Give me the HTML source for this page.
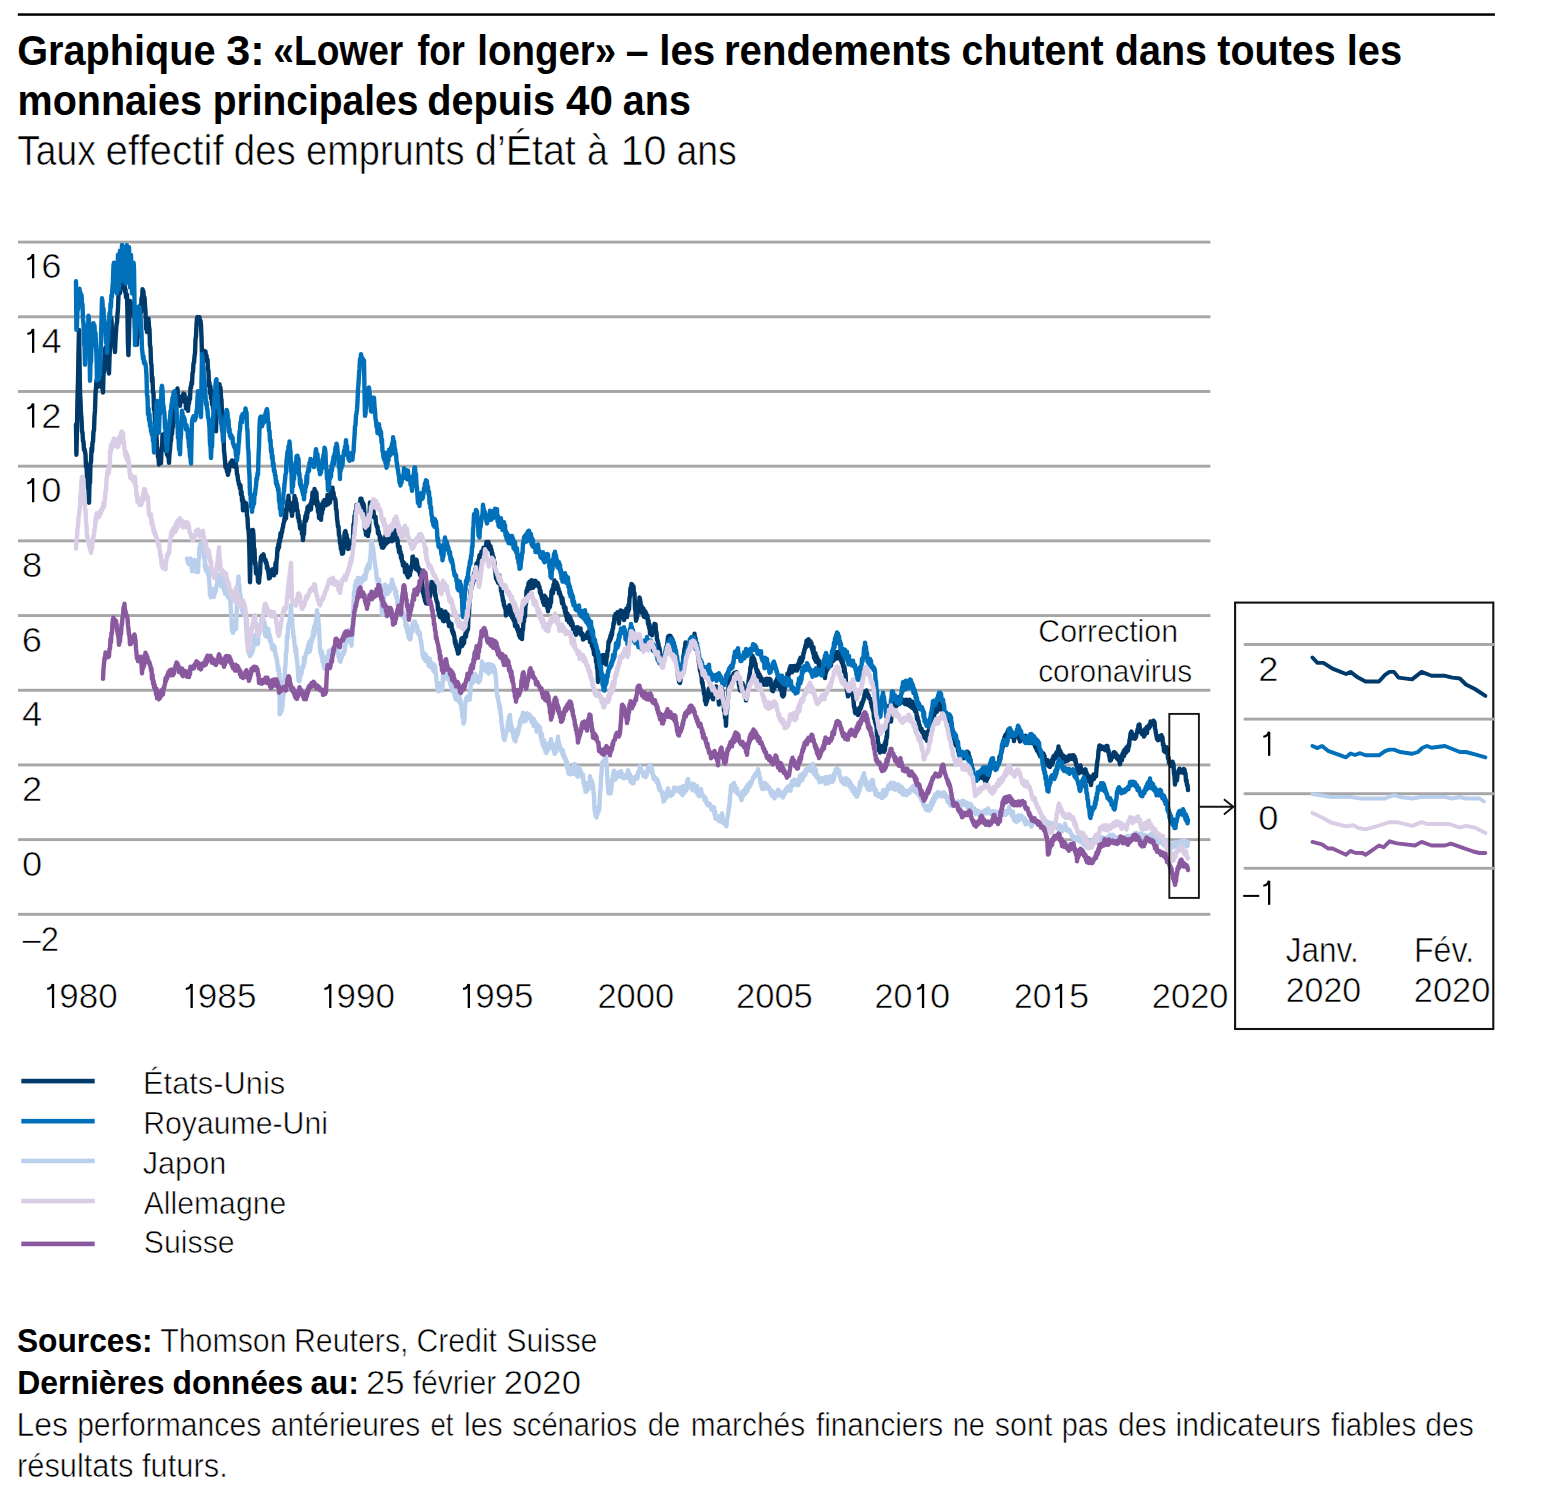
<!DOCTYPE html>
<html><head><meta charset="utf-8"><title>Graphique 3</title>
<style>html,body{margin:0;padding:0;background:#fff}body{width:1547px;height:1501px;overflow:hidden;font-family:"Liberation Sans",sans-serif}</style>
</head><body>
<svg width="1547" height="1501" viewBox="0 0 1547 1501" style="display:block">
<rect width="1547" height="1501" fill="#fff"/>
<rect x="17.8" y="13.3" width="1477.1" height="2.5" fill="#000"/>
<rect x="18" y="240.65" width="1192.4" height="2.9" fill="#a6a6a6"/>
<rect x="18" y="315.34" width="1192.4" height="2.9" fill="#a6a6a6"/>
<rect x="18" y="390.03" width="1192.4" height="2.9" fill="#a6a6a6"/>
<rect x="18" y="464.72" width="1192.4" height="2.9" fill="#a6a6a6"/>
<rect x="18" y="539.41" width="1192.4" height="2.9" fill="#a6a6a6"/>
<rect x="18" y="614.10" width="1192.4" height="2.9" fill="#a6a6a6"/>
<rect x="18" y="688.79" width="1192.4" height="2.9" fill="#a6a6a6"/>
<rect x="18" y="763.48" width="1192.4" height="2.9" fill="#a6a6a6"/>
<rect x="18" y="838.17" width="1192.4" height="2.9" fill="#a6a6a6"/>
<rect x="18" y="912.86" width="1192.4" height="2.9" fill="#a6a6a6"/>
<path d="M76.0,424.5 L76.4,454.7 L76.9,432.3 L77.4,401.5 L78.0,380.8 L78.5,351.6 L79.0,330.0 L79.5,357.8 L80.0,391.2 L80.5,400.6 L81.0,413.8 L81.5,418.6 L82.0,431.5 L82.5,432.3 L83.0,441.1 L83.5,441.6 L84.0,449.9 L84.5,448.9 L85.0,451.4 L85.5,454.6 L86.0,466.8 L86.5,465.1 L87.0,477.2 L87.5,474.2 L88.0,488.5 L88.5,488.5 L89.0,502.7 L89.5,483.8 L90.0,482.6 L90.5,462.6 L91.0,462.6 L91.5,448.3 L92.0,451.6 L92.5,442.5 L93.0,441.7 L93.5,431.4 L94.0,430.5 L94.5,416.2 L95.0,410.4 L95.5,393.8 L96.0,387.7 L96.5,380.3 L97.0,386.6 L97.5,375.3 L98.0,386.9 L98.5,376.0 L99.0,382.3 L99.5,374.8 L100.0,378.7 L100.5,376.0 L101.0,383.8 L101.5,382.5 L102.0,387.7 L102.5,385.3 L103.0,392.5 L103.5,373.0 L104.0,372.5 L104.5,358.1 L105.0,350.7 L105.5,347.4 L106.0,356.5 L106.5,356.6 L107.0,361.5 L107.5,360.9 L108.0,369.1 L108.5,367.9 L109.0,373.5 L109.5,358.0 L110.0,347.1 L110.5,330.5 L111.0,317.6 L111.5,320.4 L112.0,332.5 L112.5,329.1 L113.0,334.6 L113.5,336.8 L114.0,346.3 L114.5,346.8 L115.0,352.0 L115.5,339.9 L116.0,331.6 L116.5,324.5 L117.0,322.6 L117.5,314.2 L118.0,309.2 L118.5,294.5 L119.0,289.6 L119.5,293.7 L120.0,292.7 L120.5,287.9 L121.0,288.8 L121.5,278.6 L122.0,282.4 L122.5,272.4 L123.0,281.9 L123.5,276.1 L124.0,285.9 L124.5,283.7 L125.0,291.9 L125.5,289.5 L126.0,297.4 L126.5,295.1 L127.0,294.9 L127.5,314.6 L127.9,342.3 L128.4,355.1 L128.9,339.6 L129.5,312.7 L130.0,301.0 L130.5,302.0 L131.0,306.4 L131.5,304.5 L132.0,307.2 L132.5,303.8 L133.0,311.2 L133.5,307.3 L134.0,316.7 L134.5,313.0 L135.0,328.0 L135.5,324.3 L136.0,335.5 L136.5,332.7 L137.0,344.7 L137.5,331.6 L138.0,336.7 L138.5,321.2 L139.0,325.9 L139.5,314.8 L140.0,316.7 L140.5,305.1 L141.0,312.5 L141.5,298.2 L142.0,303.1 L142.5,289.3 L143.0,290.7 L143.5,291.8 L144.0,306.7 L144.5,297.5 L145.0,305.3 L145.5,311.6 L146.0,328.7 L146.5,324.8 L147.0,332.1 L147.5,323.2 L148.0,329.1 L148.5,318.8 L149.0,326.7 L149.5,329.3 L150.0,345.6 L150.5,347.1 L151.0,362.6 L151.5,364.9 L152.0,381.6 L152.5,377.3 L153.0,392.7 L153.5,392.6 L154.0,409.9 L154.5,408.1 L155.0,422.7 L155.5,423.9 L156.0,430.6 L156.5,437.4 L157.0,445.5 L157.5,449.5 L158.0,456.8 L158.5,458.0 L159.0,464.6 L159.5,460.6 L160.0,463.2 L160.5,456.3 L161.0,463.1 L161.5,450.1 L162.0,449.6 L162.5,434.7 L163.0,436.2 L163.5,435.8 L164.0,440.5 L164.5,433.7 L165.0,444.0 L165.5,441.7 L166.0,451.1 L166.5,446.8 L167.0,454.7 L167.5,450.5 L168.0,456.8 L168.5,455.8 L169.0,462.9 L169.5,452.9 L170.0,450.0 L170.5,442.6 L171.0,440.5 L171.5,433.1 L172.0,434.0 L172.5,426.7 L173.0,427.0 L173.5,414.8 L174.0,418.3 L174.5,406.9 L175.0,411.0 L175.5,398.7 L176.0,399.6 L176.5,392.8 L177.0,391.1 L177.5,388.5 L178.0,400.6 L178.5,396.4 L179.0,400.0 L179.5,398.1 L180.0,405.8 L180.5,397.3 L181.0,399.3 L181.5,396.5 L182.0,401.4 L182.5,395.7 L183.0,395.2 L183.5,393.6 L184.0,394.7 L184.5,394.3 L185.0,402.4 L185.5,399.6 L186.0,408.6 L186.5,399.0 L187.0,406.1 L187.5,405.7 L188.0,410.8 L188.5,401.9 L189.0,403.4 L189.5,396.1 L190.0,399.2 L190.5,387.3 L191.0,387.8 L191.5,382.3 L192.0,384.2 L192.5,373.2 L193.0,372.0 L193.5,363.3 L194.0,362.9 L194.5,356.4 L195.0,353.4 L195.5,339.4 L196.0,336.3 L196.5,325.0 L197.0,318.4 L197.5,317.0 L198.0,322.7 L198.5,320.1 L199.0,323.8 L199.5,317.3 L200.0,322.6 L200.5,320.6 L201.0,325.2 L201.5,337.2 L202.0,355.8 L202.5,352.6 L203.0,356.7 L203.5,350.7 L204.0,360.8 L204.5,353.9 L205.0,360.2 L205.5,351.4 L206.0,358.4 L206.5,355.5 L207.0,360.8 L207.5,359.4 L208.0,369.4 L208.5,371.4 L209.0,385.8 L209.5,382.5 L210.0,393.1 L210.5,386.4 L211.0,398.5 L211.5,391.3 L212.0,404.4 L212.5,396.8 L213.0,408.7 L213.5,403.6 L214.0,411.5 L214.5,412.6 L215.0,419.5 L215.5,418.0 L216.0,431.4 L216.5,412.8 L217.0,410.5 L217.5,393.2 L218.0,392.4 L218.5,384.7 L219.0,393.4 L219.5,384.3 L220.0,396.0 L220.5,387.8 L221.0,397.4 L221.5,400.2 L222.0,416.5 L222.5,419.0 L223.0,432.2 L223.5,434.4 L224.0,450.8 L224.5,454.7 L225.0,460.7 L225.5,467.4 L226.0,467.9 L226.5,466.5 L227.0,471.8 L227.5,471.7 L228.0,474.8 L228.5,470.1 L229.0,471.0 L229.5,464.4 L230.0,466.6 L230.5,462.4 L231.0,466.0 L231.5,463.1 L232.0,460.5 L232.5,461.9 L233.0,465.7 L233.5,463.4 L234.0,466.3 L234.5,461.3 L235.0,467.0 L235.5,460.3 L236.0,466.5 L236.5,467.2 L237.0,474.4 L237.5,474.9 L238.0,480.0 L238.5,481.3 L239.0,484.6 L239.5,484.4 L240.0,488.6 L240.5,485.3 L241.0,494.7 L241.5,491.5 L242.0,500.9 L242.5,496.9 L243.0,510.4 L243.5,500.8 L244.0,508.9 L244.5,502.4 L245.0,506.9 L245.5,504.1 L246.0,503.1 L246.5,504.9 L247.0,515.3 L247.5,517.9 L248.0,528.3 L248.5,529.4 L249.0,537.8 L249.5,556.2 L250.0,582.2 L250.5,560.9 L251.0,560.4 L251.5,548.1 L252.0,544.4 L252.5,529.9 L253.0,530.1 L253.5,535.5 L254.0,551.6 L254.5,548.9 L255.0,564.3 L255.5,562.5 L256.0,573.4 L256.5,569.6 L257.0,574.5 L257.5,571.9 L258.0,581.7 L258.5,581.0 L259.0,582.6 L259.5,576.3 L260.0,573.6 L260.5,561.8 L261.0,557.2 L261.5,556.1 L262.0,556.5 L262.5,555.7 L263.0,557.0 L263.5,554.3 L264.0,557.1 L264.5,559.3 L265.0,560.9 L265.5,559.8 L266.0,563.3 L266.5,562.4 L267.0,568.5 L267.5,566.6 L268.0,570.5 L268.5,572.8 L269.0,578.5 L269.5,575.2 L270.0,577.8 L270.5,571.2 L271.0,573.5 L271.5,571.5 L272.0,569.5 L272.5,571.8 L273.0,574.9 L273.5,571.5 L274.0,575.3 L274.5,568.4 L275.0,572.0 L275.5,563.1 L276.0,572.9 L276.5,560.7 L277.0,557.3 L277.5,547.8 L278.0,550.0 L278.5,543.7 L279.0,547.4 L279.5,539.2 L280.0,541.5 L280.5,533.3 L281.0,537.2 L281.5,532.4 L282.0,532.5 L282.5,528.3 L283.0,527.1 L283.5,523.3 L284.0,522.2 L284.5,518.3 L285.0,520.0 L285.5,509.6 L286.0,518.3 L286.5,508.5 L287.0,508.6 L287.5,500.6 L288.0,503.8 L288.5,495.8 L289.0,504.3 L289.5,501.9 L290.0,509.1 L290.5,505.4 L291.0,511.2 L291.5,506.8 L292.0,515.9 L292.5,506.3 L293.0,511.0 L293.5,502.9 L294.0,507.2 L294.5,496.0 L295.0,502.2 L295.5,498.8 L296.0,503.3 L296.5,503.1 L297.0,510.5 L297.5,510.2 L298.0,517.9 L298.5,514.9 L299.0,522.2 L299.5,520.9 L300.0,528.4 L300.5,525.3 L301.0,529.1 L301.5,527.2 L302.0,534.1 L302.5,533.4 L303.0,540.1 L303.5,529.5 L304.0,534.2 L304.5,521.1 L305.0,519.8 L305.5,515.7 L306.0,520.8 L306.5,512.2 L307.0,518.1 L307.5,507.2 L308.0,512.4 L308.5,506.2 L309.0,509.1 L309.5,506.4 L310.0,509.1 L310.5,503.8 L311.0,509.5 L311.5,500.3 L312.0,502.9 L312.5,492.5 L313.0,503.4 L313.5,492.7 L314.0,499.4 L314.5,489.0 L315.0,494.4 L315.5,491.0 L316.0,499.7 L316.5,493.0 L317.0,506.1 L317.5,501.4 L318.0,511.8 L318.5,504.7 L319.0,518.0 L319.5,512.5 L320.0,518.4 L320.5,513.3 L321.0,519.9 L321.5,508.4 L322.0,513.7 L322.5,503.1 L323.0,509.4 L323.5,501.2 L324.0,502.6 L324.5,500.1 L325.0,503.5 L325.5,501.0 L326.0,505.4 L326.5,501.8 L327.0,504.5 L327.5,495.0 L328.0,504.4 L328.5,497.3 L329.0,500.2 L329.5,495.4 L330.0,502.7 L330.5,494.0 L331.0,490.1 L331.5,490.2 L332.0,494.2 L332.5,487.6 L333.0,495.0 L333.5,492.4 L334.0,498.5 L334.5,497.6 L335.0,498.5 L335.5,500.3 L336.0,509.2 L336.5,509.9 L337.0,518.3 L337.5,521.9 L338.0,527.0 L338.5,526.4 L339.0,535.7 L339.5,535.7 L340.0,543.2 L340.5,544.6 L341.0,549.5 L341.5,548.6 L342.0,553.7 L342.5,551.5 L343.0,553.3 L343.5,549.1 L344.0,545.4 L344.5,534.0 L345.0,531.7 L345.5,531.1 L346.0,535.2 L346.5,534.4 L347.0,540.1 L347.5,538.8 L348.0,549.0 L348.5,541.3 L349.0,544.5 L349.5,541.9 L350.0,546.3 L350.5,544.1 L351.0,548.1 L351.5,544.8 L352.0,547.9 L352.5,539.9 L353.0,537.9 L353.5,524.2 L354.0,526.4 L354.5,515.7 L355.0,519.5 L355.5,510.9 L356.0,512.5 L356.5,505.0 L357.0,509.0 L357.5,507.7 L358.0,509.9 L358.5,507.1 L359.0,510.0 L359.5,503.5 L360.0,504.1 L360.5,498.6 L361.0,507.5 L361.5,498.8 L362.0,505.3 L362.5,501.9 L363.0,505.9 L363.5,503.8 L364.0,506.5 L364.5,514.3 L365.0,529.8 L365.5,527.4 L366.0,534.9 L366.5,528.9 L367.0,531.9 L367.5,528.7 L368.0,536.0 L368.5,531.1 L369.0,531.6 L369.5,515.8 L370.0,502.5 L370.5,504.6 L371.0,512.1 L371.5,508.8 L372.0,513.7 L372.5,509.0 L373.0,514.8 L373.5,511.3 L374.0,517.2 L374.5,516.6 L375.0,517.7 L375.5,516.7 L376.0,523.6 L376.5,524.9 L377.0,527.0 L377.5,526.4 L378.0,533.3 L378.5,531.1 L379.0,534.8 L379.5,535.0 L380.0,540.4 L380.5,536.6 L381.0,544.5 L381.5,540.0 L382.0,547.6 L382.5,540.0 L383.0,547.7 L383.5,542.6 L384.0,546.7 L384.5,538.5 L385.0,544.7 L385.5,535.6 L386.0,543.9 L386.5,531.9 L387.0,539.5 L387.5,534.0 L388.0,542.2 L388.5,533.0 L389.0,538.2 L389.5,534.9 L390.0,539.2 L390.5,532.1 L391.0,535.3 L391.5,535.7 L392.0,541.2 L392.5,538.4 L393.0,539.0 L393.5,536.9 L394.0,540.1 L394.5,533.9 L395.0,537.5 L395.5,530.0 L396.0,531.4 L396.5,534.1 L397.0,538.9 L397.5,539.4 L398.0,546.8 L398.5,546.8 L399.0,552.1 L399.5,546.7 L400.0,553.4 L400.5,551.5 L401.0,558.1 L401.5,554.6 L402.0,561.4 L402.5,561.8 L403.0,565.4 L403.5,562.1 L404.0,566.2 L404.5,563.5 L405.0,572.3 L405.5,564.9 L406.0,572.8 L406.5,564.9 L407.0,575.1 L407.5,572.5 L408.0,577.3 L408.5,568.2 L409.0,575.8 L409.5,567.9 L410.0,575.1 L410.5,567.3 L411.0,570.6 L411.5,565.8 L412.0,567.3 L412.5,556.7 L413.0,556.6 L413.5,559.2 L414.0,561.7 L414.5,559.5 L415.0,563.5 L415.5,561.1 L416.0,569.2 L416.5,559.8 L417.0,562.5 L417.5,565.7 L418.0,570.5 L418.5,567.7 L419.0,571.7 L419.5,570.1 L420.0,575.1 L420.5,570.2 L421.0,576.2 L421.5,575.0 L422.0,583.8 L422.5,585.8 L423.0,592.8 L423.5,593.2 L424.0,596.9 L424.5,597.1 L425.0,601.0 L425.5,597.6 L426.0,603.2 L426.5,599.4 L427.0,603.5 L427.5,601.5 L428.0,603.4 L428.5,601.1 L429.0,603.1 L429.5,597.0 L430.0,596.4 L430.5,589.8 L431.0,591.9 L431.5,581.9 L432.0,582.9 L432.5,582.5 L433.0,586.6 L433.5,584.3 L434.0,591.4 L434.5,585.6 L435.0,595.4 L435.5,593.9 L436.0,598.7 L436.5,600.2 L437.0,602.4 L437.5,602.4 L438.0,610.2 L438.5,607.8 L439.0,614.0 L439.5,614.7 L440.0,617.1 L440.5,613.4 L441.0,617.5 L441.5,610.3 L442.0,618.4 L442.5,611.9 L443.0,620.9 L443.5,615.6 L444.0,621.2 L444.5,612.6 L445.0,613.4 L445.5,611.6 L446.0,614.6 L446.5,614.6 L447.0,618.9 L447.5,614.1 L448.0,622.1 L448.5,620.5 L449.0,626.1 L449.5,623.8 L450.0,622.9 L450.5,624.7 L451.0,626.5 L451.5,623.8 L452.0,631.2 L452.5,629.6 L453.0,633.7 L453.5,632.2 L454.0,635.0 L454.5,637.5 L455.0,643.2 L455.5,640.6 L456.0,646.5 L456.5,646.5 L457.0,649.6 L457.5,650.0 L458.0,653.6 L458.5,653.2 L459.0,651.8 L459.5,646.8 L460.0,647.0 L460.5,643.7 L461.0,641.7 L461.5,638.7 L462.0,646.2 L462.5,638.0 L463.0,644.6 L463.5,639.0 L464.0,643.0 L464.5,636.6 L465.0,637.5 L465.5,633.2 L466.0,636.6 L466.5,629.8 L467.0,631.8 L467.5,625.2 L468.0,629.5 L468.5,615.2 L469.0,613.3 L469.5,599.8 L470.0,598.5 L470.5,590.6 L471.0,589.7 L471.5,585.2 L472.0,586.9 L472.5,577.3 L473.0,583.1 L473.5,575.2 L474.0,579.8 L474.5,572.5 L475.0,577.5 L475.5,568.9 L476.0,570.7 L476.5,563.5 L477.0,571.4 L477.5,562.7 L478.0,563.3 L478.5,559.7 L479.0,561.4 L479.5,555.1 L480.0,558.4 L480.5,554.4 L481.0,559.3 L481.5,551.4 L482.0,556.1 L482.5,551.5 L483.0,554.7 L483.5,547.8 L484.0,551.7 L484.5,547.4 L485.0,547.6 L485.5,547.3 L486.0,546.9 L486.5,541.9 L487.0,543.2 L487.5,545.5 L488.0,545.0 L488.5,541.9 L489.0,548.9 L489.5,545.1 L490.0,549.5 L490.5,546.2 L491.0,548.5 L491.5,549.9 L492.0,554.6 L492.5,553.6 L493.0,558.9 L493.5,556.9 L494.0,561.1 L494.5,562.2 L495.0,570.2 L495.5,573.3 L496.0,578.6 L496.5,574.0 L497.0,580.3 L497.5,574.7 L498.0,582.7 L498.5,574.9 L499.0,583.6 L499.5,575.8 L500.0,582.1 L500.5,580.6 L501.0,591.1 L501.5,587.1 L502.0,595.3 L502.5,596.2 L503.0,601.1 L503.5,600.5 L504.0,605.6 L504.5,605.4 L505.0,608.3 L505.5,608.6 L506.0,615.5 L506.5,612.2 L507.0,614.0 L507.5,608.5 L508.0,612.2 L508.5,607.2 L509.0,611.2 L509.5,605.3 L510.0,609.6 L510.5,608.0 L511.0,615.4 L511.5,613.4 L512.0,617.4 L512.5,613.4 L513.0,618.1 L513.5,619.8 L514.0,621.0 L514.5,619.5 L515.0,626.0 L515.5,619.7 L516.0,626.9 L516.5,619.8 L517.0,629.1 L517.5,625.9 L518.0,631.5 L518.5,629.1 L519.0,635.2 L519.5,630.0 L520.0,637.5 L520.5,632.2 L521.0,638.1 L521.5,633.9 L522.0,639.1 L522.5,629.3 L523.0,629.6 L523.5,620.3 L524.0,621.7 L524.5,612.9 L525.0,616.6 L525.5,603.6 L526.0,604.3 L526.5,590.5 L527.0,594.1 L527.5,587.5 L528.0,593.8 L528.5,583.1 L529.0,590.9 L529.5,581.7 L530.0,588.2 L530.5,581.8 L531.0,588.0 L531.5,580.1 L532.0,583.4 L532.5,581.3 L533.0,587.8 L533.5,580.9 L534.0,586.4 L534.5,581.9 L535.0,583.2 L535.5,580.8 L536.0,584.3 L536.5,583.2 L537.0,585.4 L537.5,583.2 L538.0,583.0 L538.5,584.4 L539.0,587.4 L539.5,586.9 L540.0,592.7 L540.5,590.6 L541.0,594.3 L541.5,595.9 L542.0,598.4 L542.5,598.9 L543.0,602.0 L543.5,601.2 L544.0,604.7 L544.5,595.8 L545.0,603.4 L545.5,597.0 L546.0,604.1 L546.5,598.8 L547.0,607.3 L547.5,603.5 L548.0,611.4 L548.5,604.6 L549.0,608.1 L549.5,603.7 L550.0,606.8 L550.5,599.0 L551.0,602.6 L551.5,591.1 L552.0,594.1 L552.5,588.7 L553.0,593.0 L553.5,584.6 L554.0,587.2 L554.5,580.5 L555.0,584.1 L555.5,582.7 L556.0,588.8 L556.5,582.6 L557.0,588.2 L557.5,585.0 L558.0,589.6 L558.5,588.2 L559.0,593.5 L559.5,591.6 L560.0,593.6 L560.5,594.9 L561.0,597.1 L561.5,598.6 L562.0,603.3 L562.5,598.2 L563.0,604.1 L563.5,603.9 L564.0,607.9 L564.5,606.4 L565.0,612.4 L565.5,607.8 L566.0,616.1 L566.5,612.8 L567.0,620.0 L567.5,613.7 L568.0,618.8 L568.5,617.9 L569.0,622.6 L569.5,616.3 L570.0,621.5 L570.5,618.0 L571.0,625.0 L571.5,620.7 L572.0,625.8 L572.5,622.9 L573.0,629.0 L573.5,628.2 L574.0,628.6 L574.5,627.4 L575.0,632.8 L575.5,629.5 L576.0,634.8 L576.5,629.0 L577.0,633.3 L577.5,627.2 L578.0,631.3 L578.5,628.4 L579.0,629.9 L579.5,629.3 L580.0,633.2 L580.5,628.4 L581.0,634.8 L581.5,632.6 L582.0,635.7 L582.5,633.6 L583.0,639.6 L583.5,635.9 L584.0,639.0 L584.5,636.1 L585.0,637.7 L585.5,635.6 L586.0,637.8 L586.5,635.7 L587.0,637.8 L587.5,632.7 L588.0,635.3 L588.5,631.8 L589.0,638.6 L589.5,633.6 L590.0,642.2 L590.5,633.9 L591.0,641.9 L591.5,635.5 L592.0,646.1 L592.5,639.5 L593.0,649.2 L593.5,645.1 L594.0,654.3 L594.5,646.3 L595.0,655.4 L595.5,651.8 L596.0,661.8 L596.5,659.0 L597.0,668.3 L597.5,669.6 L598.0,682.0 L598.5,672.2 L599.0,678.9 L599.5,668.5 L600.0,669.3 L600.5,662.4 L601.0,664.5 L601.5,655.4 L602.0,660.1 L602.5,655.5 L603.0,662.8 L603.5,655.0 L604.0,660.1 L604.5,656.8 L605.0,663.3 L605.5,659.2 L606.0,664.6 L606.5,658.1 L607.0,656.7 L607.5,650.8 L608.0,650.5 L608.5,641.8 L609.0,642.8 L609.5,639.1 L610.0,640.9 L610.5,635.5 L611.0,638.2 L611.5,632.7 L612.0,635.0 L612.5,629.1 L613.0,628.7 L613.5,623.2 L614.0,623.5 L614.5,616.5 L615.0,617.0 L615.5,614.0 L616.0,615.0 L616.5,614.1 L617.0,617.8 L617.5,612.1 L618.0,618.5 L618.5,613.9 L619.0,623.5 L619.5,614.8 L620.0,616.0 L620.5,610.4 L621.0,617.6 L621.5,610.6 L622.0,617.3 L622.5,613.4 L623.0,617.7 L623.5,614.5 L624.0,620.1 L624.5,612.7 L625.0,617.1 L625.5,610.4 L626.0,617.0 L626.5,608.4 L627.0,617.1 L627.5,610.1 L628.0,612.1 L628.5,604.8 L629.0,609.6 L629.5,598.2 L630.0,596.3 L630.5,588.0 L631.0,589.8 L631.5,583.9 L632.0,590.6 L632.5,585.0 L633.0,590.8 L633.5,586.4 L634.0,594.0 L634.5,593.1 L635.0,608.4 L635.5,611.0 L636.0,620.8 L636.5,618.5 L637.0,617.3 L637.5,613.5 L638.0,611.9 L638.5,606.0 L639.0,606.2 L639.5,597.5 L640.0,599.4 L640.5,602.4 L641.0,610.3 L641.5,606.0 L642.0,612.8 L642.5,607.8 L643.0,613.8 L643.5,608.8 L644.0,616.9 L644.5,610.5 L645.0,617.1 L645.5,611.8 L646.0,617.8 L646.5,614.0 L647.0,618.5 L647.5,615.8 L648.0,623.8 L648.5,620.3 L649.0,627.7 L649.5,624.1 L650.0,633.8 L650.5,629.2 L651.0,633.0 L651.5,630.2 L652.0,635.2 L652.5,630.2 L653.0,632.9 L653.5,628.2 L654.0,626.8 L654.5,623.8 L655.0,627.7 L655.5,624.1 L656.0,632.8 L656.5,632.4 L657.0,639.8 L657.5,639.8 L658.0,642.5 L658.5,644.2 L659.0,649.1 L659.5,648.2 L660.0,654.2 L660.5,655.2 L661.0,658.4 L661.5,658.4 L662.0,657.0 L662.5,660.2 L663.0,661.5 L663.5,656.3 L664.0,658.0 L664.5,656.7 L665.0,655.2 L665.5,653.3 L666.0,654.3 L666.5,649.3 L667.0,648.3 L667.5,641.8 L668.0,637.4 L668.5,636.2 L669.0,643.2 L669.5,635.7 L670.0,643.1 L670.5,636.0 L671.0,644.0 L671.5,637.7 L672.0,645.8 L672.5,639.4 L673.0,646.7 L673.5,643.0 L674.0,651.9 L674.5,647.0 L675.0,655.2 L675.5,652.7 L676.0,656.9 L676.5,657.8 L677.0,665.8 L677.5,664.0 L678.0,676.1 L678.5,672.9 L679.0,681.8 L679.5,678.9 L680.0,683.0 L680.5,679.7 L681.0,676.4 L681.5,673.2 L682.0,672.7 L682.5,664.4 L683.0,662.2 L683.5,655.9 L684.0,653.9 L684.5,648.6 L685.0,648.4 L685.5,642.4 L686.0,647.7 L686.5,643.8 L687.0,647.9 L687.5,646.5 L688.0,648.2 L688.5,647.6 L689.0,650.7 L689.5,647.1 L690.0,645.4 L690.5,640.1 L691.0,641.2 L691.5,637.1 L692.0,639.5 L692.5,636.9 L693.0,639.6 L693.5,637.2 L694.0,640.7 L694.5,633.8 L695.0,639.8 L695.5,637.8 L696.0,647.4 L696.5,644.7 L697.0,649.2 L697.5,651.6 L698.0,654.5 L698.5,659.0 L699.0,663.1 L699.5,665.6 L700.0,670.9 L700.5,670.7 L701.0,674.6 L701.5,675.8 L702.0,683.1 L702.5,682.1 L703.0,686.9 L703.5,688.3 L704.0,694.0 L704.5,692.7 L705.0,701.1 L705.5,700.7 L706.0,704.3 L706.5,700.9 L707.0,701.2 L707.5,695.3 L708.0,698.1 L708.5,690.9 L709.0,688.4 L709.5,688.8 L710.0,693.2 L710.5,688.7 L711.0,694.6 L711.5,691.1 L712.0,697.5 L712.5,694.1 L713.0,699.4 L713.5,694.7 L714.0,696.6 L714.5,689.7 L715.0,693.1 L715.5,689.6 L716.0,686.4 L716.5,689.6 L717.0,696.1 L717.5,693.6 L718.0,698.4 L718.5,699.3 L719.0,704.5 L719.5,700.0 L720.0,699.8 L720.5,697.1 L721.0,696.4 L721.5,688.2 L722.0,689.8 L722.5,691.3 L723.0,702.0 L723.5,700.4 L724.0,710.8 L724.5,706.5 L725.0,718.0 L725.5,716.2 L726.0,725.8 L726.5,710.6 L727.0,710.8 L727.5,698.0 L728.0,699.4 L728.5,686.7 L729.0,685.7 L729.5,677.4 L730.0,683.3 L730.5,676.7 L731.0,684.0 L731.5,678.0 L732.0,681.4 L732.5,676.8 L733.0,681.6 L733.5,673.7 L734.0,676.3 L734.5,672.7 L735.0,675.8 L735.5,673.1 L736.0,675.7 L736.5,672.2 L737.0,676.6 L737.5,674.3 L738.0,680.7 L738.5,679.8 L739.0,685.4 L739.5,686.6 L740.0,690.3 L740.5,687.7 L741.0,690.8 L741.5,686.7 L742.0,687.3 L742.5,683.3 L743.0,689.3 L743.5,685.1 L744.0,691.5 L744.5,691.6 L745.0,697.2 L745.5,696.2 L746.0,700.4 L746.5,698.3 L747.0,696.7 L747.5,688.7 L748.0,688.3 L748.5,681.5 L749.0,678.3 L749.5,674.7 L750.0,672.5 L750.5,666.6 L751.0,667.6 L751.5,658.2 L752.0,661.3 L752.5,655.7 L753.0,660.0 L753.5,657.9 L754.0,659.0 L754.5,660.6 L755.0,665.4 L755.5,663.4 L756.0,668.5 L756.5,670.2 L757.0,672.7 L757.5,670.1 L758.0,676.5 L758.5,672.8 L759.0,676.5 L759.5,674.4 L760.0,677.6 L760.5,676.2 L761.0,680.9 L761.5,677.9 L762.0,683.0 L762.5,679.9 L763.0,682.6 L763.5,681.2 L764.0,684.7 L764.5,681.3 L765.0,684.6 L765.5,679.2 L766.0,683.9 L766.5,678.6 L767.0,684.8 L767.5,680.6 L768.0,681.7 L768.5,679.4 L769.0,681.7 L769.5,678.8 L770.0,682.5 L770.5,679.5 L771.0,685.7 L771.5,684.7 L772.0,690.4 L772.5,690.8 L773.0,691.1 L773.5,686.8 L774.0,688.9 L774.5,684.9 L775.0,685.3 L775.5,681.4 L776.0,686.2 L776.5,680.6 L777.0,678.7 L777.5,679.3 L778.0,685.4 L778.5,679.3 L779.0,684.6 L779.5,683.7 L780.0,689.0 L780.5,685.9 L781.0,690.3 L781.5,688.7 L782.0,695.4 L782.5,690.4 L783.0,696.5 L783.5,691.6 L784.0,695.2 L784.5,686.9 L785.0,688.1 L785.5,680.5 L786.0,685.1 L786.5,679.0 L787.0,681.3 L787.5,673.4 L788.0,678.8 L788.5,673.1 L789.0,674.3 L789.5,668.7 L790.0,672.7 L790.5,666.1 L791.0,668.7 L791.5,668.5 L792.0,672.3 L792.5,666.1 L793.0,668.6 L793.5,667.5 L794.0,670.7 L794.5,665.9 L795.0,667.3 L795.5,666.7 L796.0,670.4 L796.5,668.0 L797.0,670.5 L797.5,665.0 L798.0,668.7 L798.5,663.3 L799.0,667.1 L799.5,659.9 L800.0,663.1 L800.5,657.6 L801.0,662.7 L801.5,658.2 L802.0,661.3 L802.5,656.9 L803.0,658.0 L803.5,652.6 L804.0,652.9 L804.5,649.0 L805.0,649.0 L805.5,645.2 L806.0,647.3 L806.5,640.8 L807.0,646.4 L807.5,640.1 L808.0,645.1 L808.5,639.2 L809.0,642.9 L809.5,641.6 L810.0,643.0 L810.5,641.1 L811.0,646.5 L811.5,643.0 L812.0,649.4 L812.5,646.9 L813.0,653.0 L813.5,647.3 L814.0,657.8 L814.5,654.6 L815.0,659.8 L815.5,653.3 L816.0,661.8 L816.5,656.3 L817.0,662.2 L817.5,658.2 L818.0,661.6 L818.5,661.3 L819.0,666.4 L819.5,661.2 L820.0,669.0 L820.5,665.3 L821.0,667.1 L821.5,668.3 L822.0,672.6 L822.5,668.9 L823.0,674.0 L823.5,671.4 L824.0,673.6 L824.5,672.0 L825.0,678.1 L825.5,671.1 L826.0,672.7 L826.5,667.6 L827.0,670.2 L827.5,666.1 L828.0,668.8 L828.5,664.3 L829.0,667.2 L829.5,660.5 L830.0,666.1 L830.5,657.3 L831.0,665.7 L831.5,658.9 L832.0,661.8 L832.5,655.6 L833.0,661.0 L833.5,655.1 L834.0,660.1 L834.5,652.8 L835.0,658.2 L835.5,652.7 L836.0,657.8 L836.5,652.1 L837.0,658.5 L837.5,652.2 L838.0,654.4 L838.5,653.2 L839.0,655.0 L839.5,651.5 L840.0,656.8 L840.5,655.6 L841.0,660.8 L841.5,656.0 L842.0,663.0 L842.5,659.2 L843.0,666.3 L843.5,664.9 L844.0,671.5 L844.5,667.1 L845.0,673.1 L845.5,673.4 L846.0,682.4 L846.5,685.8 L847.0,690.7 L847.5,693.2 L848.0,696.4 L848.5,695.6 L849.0,694.1 L849.5,690.3 L850.0,693.7 L850.5,689.4 L851.0,693.2 L851.5,687.3 L852.0,688.8 L852.5,690.4 L853.0,696.1 L853.5,700.0 L854.0,707.0 L854.5,707.0 L855.0,712.5 L855.5,713.3 L856.0,712.9 L856.5,710.8 L857.0,711.4 L857.5,710.4 L858.0,715.1 L858.5,709.2 L859.0,713.5 L859.5,707.6 L860.0,709.7 L860.5,706.7 L861.0,708.0 L861.5,703.0 L862.0,705.0 L862.5,701.6 L863.0,702.0 L863.5,698.8 L864.0,699.4 L864.5,694.3 L865.0,696.1 L865.5,691.2 L866.0,692.6 L866.5,690.4 L867.0,694.1 L867.5,693.6 L868.0,696.0 L868.5,695.0 L869.0,698.1 L869.5,698.3 L870.0,699.1 L870.5,699.0 L871.0,703.1 L871.5,704.2 L872.0,707.7 L872.5,707.7 L873.0,710.6 L873.5,711.0 L874.0,718.3 L874.5,717.0 L875.0,722.0 L875.5,720.4 L876.0,725.0 L876.5,726.9 L877.0,735.5 L877.5,735.9 L878.0,742.6 L878.5,743.2 L879.0,750.7 L879.5,749.6 L880.0,752.5 L880.5,750.8 L881.0,751.1 L881.5,749.2 L882.0,751.6 L882.5,746.0 L883.0,747.3 L883.5,746.8 L884.0,751.8 L884.5,743.8 L885.0,750.2 L885.5,741.2 L886.0,744.7 L886.5,736.4 L887.0,737.8 L887.5,720.4 L888.0,709.2 L888.5,706.1 L889.0,710.7 L889.5,709.7 L890.0,716.3 L890.5,714.7 L891.0,721.5 L891.5,714.4 L892.0,714.7 L892.5,708.3 L893.0,708.0 L893.5,703.3 L894.0,704.7 L894.5,702.4 L895.0,706.0 L895.5,702.1 L896.0,706.4 L896.5,699.8 L897.0,705.3 L897.5,698.5 L898.0,701.8 L898.5,697.3 L899.0,702.1 L899.5,698.4 L900.0,700.8 L900.5,699.6 L901.0,702.8 L901.5,700.2 L902.0,701.6 L902.5,701.6 L903.0,702.3 L903.5,699.8 L904.0,701.0 L904.5,700.1 L905.0,704.1 L905.5,701.8 L906.0,703.9 L906.5,699.8 L907.0,704.5 L907.5,700.6 L908.0,704.9 L908.5,702.6 L909.0,704.6 L909.5,699.6 L910.0,706.4 L910.5,700.6 L911.0,706.7 L911.5,701.5 L912.0,707.8 L912.5,701.7 L913.0,705.4 L913.5,704.4 L914.0,709.2 L914.5,706.6 L915.0,711.2 L915.5,709.1 L916.0,711.1 L916.5,713.8 L917.0,719.0 L917.5,716.7 L918.0,720.7 L918.5,720.5 L919.0,725.2 L919.5,724.9 L920.0,728.6 L920.5,728.9 L921.0,730.4 L921.5,728.7 L922.0,731.8 L922.5,731.0 L923.0,733.5 L923.5,733.1 L924.0,737.0 L924.5,732.2 L925.0,738.1 L925.5,733.6 L926.0,739.0 L926.5,735.6 L927.0,740.7 L927.5,734.4 L928.0,736.7 L928.5,730.4 L929.0,730.3 L929.5,725.7 L930.0,727.3 L930.5,724.1 L931.0,720.9 L931.5,720.3 L932.0,719.3 L932.5,715.6 L933.0,716.8 L933.5,713.4 L934.0,717.1 L934.5,710.4 L935.0,713.1 L935.5,709.5 L936.0,712.3 L936.5,706.3 L937.0,711.7 L937.5,704.7 L938.0,709.0 L938.5,704.3 L939.0,705.3 L939.5,703.2 L940.0,709.4 L940.5,706.3 L941.0,708.0 L941.5,706.4 L942.0,708.6 L942.5,707.5 L943.0,713.0 L943.5,712.7 L944.0,716.0 L944.5,715.4 L945.0,716.6 L945.5,713.0 L946.0,716.6 L946.5,713.0 L947.0,718.1 L947.5,715.7 L948.0,719.2 L948.5,717.9 L949.0,720.9 L949.5,719.0 L950.0,718.4 L950.5,719.6 L951.0,724.3 L951.5,722.4 L952.0,731.0 L952.5,729.4 L953.0,734.6 L953.5,734.4 L954.0,739.6 L954.5,736.6 L955.0,743.9 L955.5,739.0 L956.0,745.5 L956.5,741.2 L957.0,745.5 L957.5,745.6 L958.0,751.1 L958.5,748.0 L959.0,755.1 L959.5,753.7 L960.0,756.8 L960.5,756.3 L961.0,757.0 L961.5,755.7 L962.0,757.3 L962.5,755.5 L963.0,755.6 L963.5,753.0 L964.0,758.3 L964.5,754.9 L965.0,756.2 L965.5,753.7 L966.0,755.0 L966.5,751.8 L967.0,755.0 L967.5,751.6 L968.0,752.7 L968.5,752.7 L969.0,758.7 L969.5,756.7 L970.0,760.0 L970.5,759.7 L971.0,765.3 L971.5,764.4 L972.0,770.5 L972.5,769.6 L973.0,774.5 L973.5,774.2 L974.0,777.8 L974.5,778.1 L975.0,778.4 L975.5,778.4 L976.0,778.8 L976.5,777.6 L977.0,779.4 L977.5,777.4 L978.0,779.2 L978.5,774.8 L979.0,777.5 L979.5,774.1 L980.0,775.3 L980.5,772.1 L981.0,775.9 L981.5,772.7 L982.0,778.0 L982.5,773.4 L983.0,777.1 L983.5,775.6 L984.0,778.7 L984.5,777.4 L985.0,781.3 L985.5,779.9 L986.0,783.5 L986.5,776.7 L987.0,779.7 L987.5,772.5 L988.0,777.7 L988.5,771.9 L989.0,775.4 L989.5,768.3 L990.0,770.5 L990.5,763.1 L991.0,768.7 L991.5,760.8 L992.0,761.4 L992.5,762.7 L993.0,764.6 L993.5,762.2 L994.0,766.5 L994.5,763.6 L995.0,766.1 L995.5,767.6 L996.0,768.7 L996.5,765.9 L997.0,767.9 L997.5,764.4 L998.0,764.4 L998.5,762.0 L999.0,763.4 L999.5,756.7 L1000.0,760.3 L1000.5,755.6 L1001.0,754.3 L1001.5,752.1 L1002.0,750.8 L1002.5,746.3 L1003.0,746.8 L1003.5,740.6 L1004.0,740.7 L1004.5,736.9 L1005.0,736.1 L1005.5,734.7 L1006.0,736.2 L1006.5,734.0 L1007.0,737.0 L1007.5,731.5 L1008.0,734.5 L1008.5,729.4 L1009.0,731.0 L1009.5,730.7 L1010.0,733.7 L1010.5,732.8 L1011.0,736.5 L1011.5,733.0 L1012.0,735.1 L1012.5,734.6 L1013.0,737.3 L1013.5,736.0 L1014.0,741.0 L1014.5,735.0 L1015.0,736.4 L1015.5,735.8 L1016.0,736.4 L1016.5,733.3 L1017.0,736.6 L1017.5,733.3 L1018.0,734.5 L1018.5,735.9 L1019.0,738.8 L1019.5,737.4 L1020.0,741.5 L1020.5,737.9 L1021.0,738.3 L1021.5,737.6 L1022.0,738.6 L1022.5,738.1 L1023.0,739.6 L1023.5,738.0 L1024.0,740.0 L1024.5,737.3 L1025.0,739.6 L1025.5,735.7 L1026.0,740.7 L1026.5,738.4 L1027.0,741.4 L1027.5,739.9 L1028.0,740.6 L1028.5,739.8 L1029.0,740.4 L1029.5,739.1 L1030.0,741.9 L1030.5,736.7 L1031.0,742.0 L1031.5,737.2 L1032.0,743.1 L1032.5,739.1 L1033.0,741.0 L1033.5,739.2 L1034.0,743.3 L1034.5,743.3 L1035.0,746.3 L1035.5,744.6 L1036.0,748.4 L1036.5,748.4 L1037.0,750.7 L1037.5,747.2 L1038.0,750.8 L1038.5,752.0 L1039.0,753.9 L1039.5,754.5 L1040.0,756.2 L1040.5,754.4 L1041.0,756.2 L1041.5,753.3 L1042.0,757.3 L1042.5,753.8 L1043.0,759.3 L1043.5,753.4 L1044.0,759.3 L1044.5,755.9 L1045.0,760.3 L1045.5,759.4 L1046.0,762.3 L1046.5,762.3 L1047.0,764.7 L1047.5,760.2 L1048.0,765.3 L1048.5,761.2 L1049.0,766.4 L1049.5,762.3 L1050.0,767.0 L1050.5,763.5 L1051.0,764.6 L1051.5,760.8 L1052.0,764.6 L1052.5,758.6 L1053.0,762.4 L1053.5,756.3 L1054.0,759.3 L1054.5,755.6 L1055.0,758.8 L1055.5,754.1 L1056.0,755.5 L1056.5,752.3 L1057.0,756.5 L1057.5,751.5 L1058.0,753.0 L1058.5,746.5 L1059.0,750.8 L1059.5,749.8 L1060.0,752.3 L1060.5,751.3 L1061.0,756.0 L1061.5,753.4 L1062.0,757.8 L1062.5,755.9 L1063.0,760.8 L1063.5,755.7 L1064.0,758.7 L1064.5,756.4 L1065.0,761.7 L1065.5,756.9 L1066.0,760.6 L1066.5,757.8 L1067.0,760.8 L1067.5,757.1 L1068.0,760.5 L1068.5,756.2 L1069.0,756.7 L1069.5,755.5 L1070.0,759.1 L1070.5,756.0 L1071.0,758.3 L1071.5,755.4 L1072.0,758.9 L1072.5,755.4 L1073.0,759.1 L1073.5,755.3 L1074.0,757.0 L1074.5,756.3 L1075.0,760.9 L1075.5,758.9 L1076.0,764.8 L1076.5,763.9 L1077.0,768.8 L1077.5,767.0 L1078.0,771.4 L1078.5,766.5 L1079.0,773.4 L1079.5,766.7 L1080.0,772.3 L1080.5,765.5 L1081.0,771.9 L1081.5,768.9 L1082.0,772.3 L1082.5,770.5 L1083.0,771.6 L1083.5,771.2 L1084.0,772.9 L1084.5,771.2 L1085.0,771.9 L1085.5,769.3 L1086.0,774.7 L1086.5,772.5 L1087.0,777.2 L1087.5,774.7 L1088.0,781.1 L1088.5,778.3 L1089.0,781.5 L1089.5,776.4 L1090.0,780.8 L1090.5,778.2 L1091.0,785.1 L1091.5,778.3 L1092.0,780.6 L1092.5,777.5 L1093.0,779.3 L1093.5,774.5 L1094.0,779.0 L1094.5,775.2 L1095.0,776.1 L1095.5,774.7 L1096.0,776.3 L1096.5,769.0 L1097.0,764.5 L1097.5,760.4 L1098.0,758.1 L1098.5,751.0 L1099.0,748.3 L1099.5,745.4 L1100.0,748.6 L1100.5,745.8 L1101.0,749.0 L1101.5,746.3 L1102.0,748.9 L1102.5,746.7 L1103.0,748.5 L1103.5,747.1 L1104.0,748.9 L1104.5,748.6 L1105.0,750.2 L1105.5,746.7 L1106.0,749.3 L1106.5,746.0 L1107.0,746.6 L1107.5,746.2 L1108.0,751.8 L1108.5,750.2 L1109.0,755.4 L1109.5,756.4 L1110.0,760.5 L1110.5,759.4 L1111.0,760.0 L1111.5,757.6 L1112.0,758.0 L1112.5,754.8 L1113.0,755.6 L1113.5,752.5 L1114.0,756.6 L1114.5,752.2 L1115.0,754.5 L1115.5,753.0 L1116.0,755.8 L1116.5,756.4 L1117.0,758.6 L1117.5,755.6 L1118.0,759.5 L1118.5,759.0 L1119.0,760.6 L1119.5,761.1 L1120.0,764.4 L1120.5,758.0 L1121.0,759.4 L1121.5,756.1 L1122.0,760.2 L1122.5,753.6 L1123.0,754.8 L1123.5,751.5 L1124.0,756.1 L1124.5,749.8 L1125.0,753.8 L1125.5,749.5 L1126.0,752.7 L1126.5,747.3 L1127.0,751.5 L1127.5,748.0 L1128.0,750.5 L1128.5,745.0 L1129.0,746.4 L1129.5,740.0 L1130.0,738.8 L1130.5,733.6 L1131.0,732.5 L1131.5,731.6 L1132.0,734.5 L1132.5,734.3 L1133.0,738.4 L1133.5,736.8 L1134.0,738.3 L1134.5,737.4 L1135.0,738.7 L1135.5,737.9 L1136.0,736.9 L1136.5,733.8 L1137.0,732.9 L1137.5,729.6 L1138.0,731.8 L1138.5,725.1 L1139.0,724.6 L1139.5,724.5 L1140.0,730.3 L1140.5,730.1 L1141.0,732.7 L1141.5,731.8 L1142.0,734.3 L1142.5,733.2 L1143.0,735.0 L1143.5,733.7 L1144.0,736.6 L1144.5,729.5 L1145.0,734.7 L1145.5,729.2 L1146.0,733.2 L1146.5,727.3 L1147.0,733.1 L1147.5,727.9 L1148.0,728.3 L1148.5,725.6 L1149.0,728.1 L1149.5,724.6 L1150.0,726.9 L1150.5,721.5 L1151.0,722.3 L1151.5,722.6 L1152.0,724.2 L1152.5,721.4 L1153.0,722.4 L1153.5,720.7 L1154.0,722.9 L1154.5,722.0 L1155.0,728.5 L1155.5,730.2 L1156.0,733.8 L1156.5,735.8 L1157.0,738.8 L1157.5,737.7 L1158.0,740.2 L1158.5,737.7 L1159.0,739.8 L1159.5,736.3 L1160.0,739.1 L1160.5,736.0 L1161.0,739.8 L1161.5,735.3 L1162.0,739.4 L1162.5,737.3 L1163.0,745.2 L1163.5,743.8 L1164.0,751.0 L1164.5,747.3 L1165.0,751.9 L1165.5,747.8 L1166.0,752.4 L1166.5,747.1 L1167.0,749.2 L1167.5,750.4 L1168.0,758.6 L1168.5,757.2 L1169.0,763.0 L1169.5,763.1 L1170.0,764.4 L1170.5,763.6 L1171.0,766.0 L1171.5,762.6 L1172.0,763.7 L1172.5,761.7 L1173.0,763.1 L1173.5,764.6 L1174.0,773.8 L1174.5,775.8 L1175.0,784.6 L1175.5,779.2 L1176.0,780.5 L1176.5,776.5 L1177.0,780.4 L1177.5,774.3 L1178.0,772.6 L1178.5,770.6 L1179.0,772.7 L1179.5,768.8 L1180.0,771.5 L1180.5,769.8 L1181.0,771.9 L1181.5,770.4 L1182.0,772.5 L1182.5,771.5 L1183.0,772.2 L1183.5,769.0 L1184.0,771.0 L1184.5,769.4 L1185.0,774.1 L1185.5,773.4 L1186.0,781.0 L1186.5,779.9 L1187.0,785.4 L1187.5,784.7 L1188.0,790.0" fill="none" stroke="#003a6b" stroke-width="4.4" stroke-linejoin="round" stroke-linecap="round"/>
<path d="M76.0,281.3 L76.4,329.8 L76.9,327.1 L77.4,310.9 L78.0,309.5 L78.5,299.4 L79.0,298.8 L79.5,288.8 L80.0,293.3 L80.5,292.7 L81.0,296.7 L81.5,294.8 L82.0,302.8 L82.5,304.6 L83.0,318.7 L83.5,323.8 L84.0,344.4 L84.5,345.0 L85.0,364.7 L85.5,346.2 L86.0,348.2 L86.5,338.0 L87.0,342.5 L87.5,324.7 L88.0,330.3 L88.5,315.8 L89.0,319.9 L89.5,344.6 L90.0,380.7 L90.5,362.9 L91.0,362.4 L91.5,346.0 L92.0,346.4 L92.5,327.5 L93.0,328.7 L93.5,323.2 L94.0,333.1 L94.5,325.6 L95.0,339.5 L95.5,332.6 L96.0,344.8 L96.5,355.4 L97.0,380.4 L97.5,369.7 L98.0,376.9 L98.5,372.7 L99.0,378.9 L99.5,373.5 L100.0,374.6 L100.5,356.1 L101.0,339.7 L101.5,319.1 L102.0,298.3 L102.5,301.5 L103.0,315.4 L103.5,308.8 L104.0,325.5 L104.5,320.0 L105.0,328.7 L105.5,329.9 L106.0,342.7 L106.5,340.5 L107.0,352.7 L107.5,337.8 L108.0,340.6 L108.5,323.7 L109.0,328.9 L109.5,312.9 L110.0,318.7 L110.5,303.6 L111.0,306.9 L111.4,295.2 L111.9,296.8 L112.4,288.7 L112.9,281.9 L113.5,265.0 L114.0,262.7 L114.4,271.9 L114.8,291.0 L115.4,273.1 L116.0,267.4 L116.5,275.8 L117.0,293.6 L117.5,271.2 L118.0,254.8 L118.5,270.4 L119.0,289.1 L119.5,267.7 L120.0,250.6 L120.5,264.6 L121.0,281.6 L121.5,260.0 L122.0,245.0 L122.6,258.8 L123.2,278.1 L123.8,259.8 L124.4,247.0 L125.0,262.4 L125.6,283.6 L126.2,259.0 L126.8,245.2 L127.4,257.5 L128.0,278.8 L128.5,261.3 L129.0,247.2 L129.5,263.2 L130.0,287.5 L130.5,268.1 L131.0,254.9 L131.5,271.9 L132.0,293.5 L132.6,274.7 L133.2,263.1 L133.6,262.8 L134.0,268.4 L134.5,303.4 L135.0,345.0 L135.5,336.3 L136.0,331.3 L136.5,321.2 L137.0,321.8 L137.5,310.9 L138.0,311.8 L138.5,306.7 L139.0,310.4 L139.5,307.1 L140.0,312.8 L140.5,317.7 L141.0,327.6 L141.5,332.0 L142.0,349.2 L142.5,352.5 L143.0,358.8 L143.5,356.1 L144.0,363.2 L144.5,361.2 L145.0,364.0 L145.5,363.6 L146.0,368.6 L146.5,375.7 L147.0,395.1 L147.5,396.9 L148.0,414.4 L148.5,408.4 L149.0,420.5 L149.5,414.1 L150.0,426.1 L150.5,422.2 L151.0,431.1 L151.5,432.0 L152.0,434.9 L152.5,433.6 L153.0,441.0 L153.5,441.2 L154.0,452.5 L154.5,438.2 L155.0,435.5 L155.5,423.5 L156.0,420.2 L156.5,403.7 L157.0,402.6 L157.5,400.9 L158.0,413.2 L158.5,411.3 L159.0,432.7 L159.5,413.4 L160.0,414.2 L160.5,400.6 L161.0,404.9 L161.5,387.8 L162.0,385.8 L162.5,390.8 L163.0,404.3 L163.5,405.5 L164.0,411.0 L164.5,413.3 L165.0,428.6 L165.5,427.3 L166.0,440.6 L166.5,446.6 L167.0,450.7 L167.5,441.3 L168.0,437.2 L168.5,430.6 L169.0,426.8 L169.5,420.1 L170.0,420.4 L170.5,411.0 L171.0,412.1 L171.5,404.3 L172.0,402.4 L172.5,397.8 L173.0,402.3 L173.5,392.7 L174.0,399.8 L174.5,391.3 L175.0,400.4 L175.5,394.8 L176.0,408.7 L176.5,406.5 L177.0,422.7 L177.5,422.9 L178.0,438.2 L178.5,436.3 L179.0,449.4 L179.5,445.9 L180.0,454.4 L180.5,439.7 L181.0,435.5 L181.5,418.4 L182.0,410.8 L182.5,414.0 L183.0,418.8 L183.5,416.3 L184.0,418.2 L184.5,418.7 L185.0,423.9 L185.5,424.9 L186.0,429.6 L186.5,425.2 L187.0,430.3 L187.5,428.8 L188.0,438.0 L188.5,438.4 L189.0,447.0 L189.5,447.7 L190.0,456.4 L190.5,458.2 L191.0,463.6 L191.5,441.3 L192.0,422.9 L192.5,418.5 L193.0,420.0 L193.5,416.1 L194.0,420.1 L194.5,418.1 L195.0,420.0 L195.5,415.9 L196.0,417.1 L196.5,411.1 L197.0,408.8 L197.5,397.9 L198.0,391.1 L198.5,396.0 L199.0,400.4 L199.5,401.1 L200.0,408.4 L200.5,408.6 L201.0,417.0 L201.5,381.4 L202.0,354.2 L202.5,357.2 L203.0,370.5 L203.5,366.7 L204.0,381.6 L204.5,379.6 L205.0,392.4 L205.5,394.9 L206.0,404.5 L206.5,401.7 L207.0,408.5 L207.5,410.0 L208.0,417.5 L208.5,418.0 L209.0,422.9 L209.5,427.8 L210.0,444.8 L210.5,446.0 L211.0,458.1 L211.5,445.7 L212.0,446.9 L212.5,427.9 L213.0,422.8 L213.5,409.6 L214.0,405.9 L214.5,395.0 L215.0,396.7 L215.5,384.3 L216.0,380.3 L216.5,379.3 L217.0,393.6 L217.5,394.6 L218.0,408.3 L218.5,405.8 L219.0,414.1 L219.5,414.9 L220.0,417.6 L220.5,417.9 L221.0,422.7 L221.5,424.4 L222.0,429.6 L222.5,432.0 L223.0,440.9 L223.5,433.4 L224.0,432.1 L224.5,421.8 L225.0,423.3 L225.5,414.9 L226.0,414.9 L226.5,409.9 L227.0,410.6 L227.5,413.2 L228.0,422.1 L228.5,419.7 L229.0,432.2 L229.5,428.8 L230.0,436.0 L230.5,434.0 L231.0,437.9 L231.5,435.5 L232.0,438.8 L232.5,437.3 L233.0,443.7 L233.5,443.7 L234.0,446.5 L234.5,445.3 L235.0,448.5 L235.5,449.3 L236.0,455.9 L236.5,456.4 L237.0,460.6 L237.5,454.0 L238.0,453.6 L238.5,445.2 L239.0,441.3 L239.5,431.9 L240.0,430.3 L240.5,422.2 L241.0,422.0 L241.5,416.1 L242.0,422.4 L242.5,414.2 L243.0,417.7 L243.5,413.7 L244.0,414.5 L244.5,412.8 L245.0,414.8 L245.5,408.4 L246.0,411.7 L246.5,412.2 L247.0,426.7 L247.5,431.3 L248.0,447.7 L248.5,452.1 L249.0,469.2 L249.5,476.1 L250.0,494.4 L250.5,493.5 L251.0,506.9 L251.5,502.6 L252.0,511.7 L252.5,506.6 L253.0,506.7 L253.5,501.9 L254.0,503.8 L254.5,494.6 L255.0,494.8 L255.5,489.0 L256.0,486.4 L256.5,478.3 L257.0,479.2 L257.5,473.1 L258.0,474.7 L258.5,456.2 L259.0,446.4 L259.5,427.5 L260.0,418.6 L260.5,416.8 L261.0,422.8 L261.5,416.7 L262.0,426.4 L262.5,417.5 L263.0,423.7 L263.5,421.5 L264.0,422.3 L264.5,415.7 L265.0,418.6 L265.5,413.3 L266.0,415.7 L266.5,409.8 L267.0,409.2 L267.5,412.6 L268.0,421.6 L268.5,422.0 L269.0,431.1 L269.5,431.0 L270.0,441.5 L270.5,439.8 L271.0,451.7 L271.5,448.3 L272.0,458.4 L272.5,455.4 L273.0,465.9 L273.5,463.2 L274.0,471.4 L274.5,470.1 L275.0,475.2 L275.5,475.5 L276.0,483.5 L276.5,480.8 L277.0,486.3 L277.5,484.5 L278.0,490.4 L278.5,488.2 L279.0,501.0 L279.5,501.4 L280.0,509.1 L280.5,508.0 L281.0,515.1 L281.5,510.3 L282.0,509.1 L282.5,504.5 L283.0,502.6 L283.5,493.3 L284.0,490.7 L284.5,484.2 L285.0,480.1 L285.5,474.5 L286.0,473.1 L286.5,460.9 L287.0,456.4 L287.5,451.5 L288.0,456.8 L288.5,446.3 L289.0,451.4 L289.5,441.4 L290.0,448.4 L290.5,451.7 L291.0,471.4 L291.5,472.0 L292.0,492.4 L292.5,478.2 L293.0,486.3 L293.5,473.2 L294.0,479.2 L294.5,465.9 L295.0,472.4 L295.5,462.7 L296.0,467.4 L296.5,456.1 L297.0,464.9 L297.5,455.8 L298.0,464.1 L298.5,458.7 L299.0,475.1 L299.5,473.5 L300.0,484.3 L300.5,479.8 L301.0,487.4 L301.5,486.6 L302.0,490.2 L302.5,491.2 L303.0,494.7 L303.5,489.8 L304.0,499.3 L304.5,490.0 L305.0,492.4 L305.5,484.5 L306.0,486.8 L306.5,475.9 L307.0,483.6 L307.5,472.7 L308.0,471.4 L308.5,468.3 L309.0,471.1 L309.5,462.8 L310.0,465.3 L310.5,459.0 L311.0,461.9 L311.5,461.6 L312.0,464.3 L312.5,460.2 L313.0,465.6 L313.5,463.7 L314.0,467.1 L314.5,461.4 L315.0,461.7 L315.5,452.8 L316.0,449.1 L316.5,453.4 L317.0,458.9 L317.5,454.3 L318.0,463.3 L318.5,463.7 L319.0,469.7 L319.5,468.5 L320.0,474.4 L320.5,467.6 L321.0,472.6 L321.5,464.0 L322.0,468.3 L322.5,459.0 L323.0,462.5 L323.5,454.8 L324.0,455.0 L324.5,447.7 L325.0,449.0 L325.5,453.2 L326.0,467.4 L326.5,468.9 L327.0,479.1 L327.5,478.5 L328.0,490.3 L328.5,482.3 L329.0,488.1 L329.5,476.7 L330.0,478.8 L330.5,470.7 L331.0,476.8 L331.5,465.9 L332.0,470.4 L332.5,461.9 L333.0,464.9 L333.5,456.7 L334.0,464.1 L334.5,453.7 L335.0,454.6 L335.5,447.4 L336.0,449.4 L336.5,443.6 L337.0,445.4 L337.5,450.1 L338.0,456.3 L338.5,456.3 L339.0,467.7 L339.5,466.5 L340.0,479.1 L340.0,467.9 L340.5,471.5 L341.0,464.7 L341.5,468.4 L342.0,456.8 L342.5,465.4 L343.0,456.5 L343.5,455.9 L344.0,451.0 L344.5,451.8 L345.0,446.6 L345.5,448.2 L346.0,440.1 L346.5,449.8 L347.0,445.9 L347.5,455.5 L348.0,452.1 L348.5,459.2 L349.0,454.4 L349.5,460.9 L350.0,457.9 L350.5,458.3 L351.0,453.2 L351.5,459.1 L352.0,454.5 L352.5,459.7 L353.0,452.7 L353.5,452.4 L354.0,442.5 L354.5,436.8 L355.0,426.4 L355.5,425.2 L356.0,415.6 L356.5,413.4 L357.0,409.5 L357.5,401.6 L358.0,388.9 L358.5,384.1 L359.0,374.7 L359.5,368.7 L360.0,359.0 L360.5,360.9 L361.0,354.1 L361.5,360.9 L362.0,357.6 L362.5,361.9 L363.0,359.0 L363.5,360.9 L364.0,360.6 L364.5,391.3 L365.0,415.9 L365.5,414.0 L366.0,404.8 L366.5,404.0 L367.0,395.9 L367.5,398.3 L368.0,391.7 L368.5,390.2 L369.0,387.4 L369.5,392.5 L370.0,398.0 L370.5,406.8 L371.0,411.2 L371.5,411.6 L372.0,403.5 L372.5,404.0 L373.0,397.8 L373.5,401.1 L374.0,397.6 L374.5,406.4 L375.0,409.8 L375.5,419.1 L376.0,420.7 L376.5,426.8 L377.0,424.6 L377.5,433.0 L378.0,424.7 L378.5,432.2 L379.0,424.2 L379.5,433.2 L380.0,429.2 L380.5,435.9 L381.0,431.8 L381.5,442.3 L382.0,439.5 L382.5,451.5 L383.0,451.8 L383.5,457.9 L384.0,452.4 L384.5,460.4 L385.0,452.7 L385.5,463.5 L386.0,461.8 L386.5,467.7 L387.0,457.5 L387.5,464.3 L388.0,454.4 L388.5,460.5 L389.0,449.6 L389.5,456.0 L390.0,452.4 L390.5,455.0 L391.0,447.3 L391.5,453.5 L392.1,443.4 L392.6,447.7 L393.1,437.3 L393.6,445.7 L394.1,441.4 L394.6,448.9 L395.1,449.0 L395.5,454.8 L396.0,453.7 L396.5,461.3 L397.0,463.5 L397.5,468.1 L398.0,469.9 L398.5,474.1 L399.0,475.9 L399.5,482.7 L400.0,480.8 L400.5,485.5 L401.0,481.2 L401.5,482.9 L402.0,476.9 L402.5,478.8 L403.0,475.7 L403.5,476.7 L404.0,468.2 L404.5,477.1 L405.0,472.1 L405.5,478.0 L406.0,471.0 L406.5,478.8 L407.0,470.2 L407.5,479.2 L408.0,470.7 L408.5,479.8 L409.0,478.2 L409.5,480.1 L410.0,476.5 L410.5,484.5 L411.0,482.0 L411.5,485.1 L412.0,490.9 L412.5,486.8 L413.0,478.2 L413.5,478.5 L414.0,472.1 L414.5,467.4 L415.0,467.4 L415.5,474.7 L416.0,473.9 L416.5,485.3 L417.0,487.8 L417.5,496.5 L418.0,503.1 L418.5,502.8 L419.0,501.1 L419.5,506.0 L420.0,497.1 L420.5,500.4 L421.0,493.2 L421.5,497.7 L422.0,493.2 L422.5,498.6 L423.0,496.8 L423.5,493.2 L424.0,488.3 L424.5,489.0 L424.9,483.5 L425.4,487.3 L425.9,480.1 L426.4,483.4 L426.9,480.8 L427.4,490.3 L427.9,486.8 L428.5,494.0 L429.0,491.6 L429.5,503.3 L430.0,498.1 L430.5,508.3 L431.0,507.2 L431.5,515.1 L432.0,516.0 L432.5,521.6 L433.0,522.4 L433.5,525.4 L434.0,518.6 L434.5,526.8 L435.0,519.3 L435.5,522.1 L436.0,521.1 L436.5,527.7 L437.0,529.8 L437.5,540.9 L438.0,538.2 L438.5,546.7 L439.0,544.4 L439.5,546.8 L440.0,545.1 L440.5,549.0 L441.0,550.2 L441.5,554.7 L442.0,550.2 L442.5,560.4 L443.0,553.8 L443.5,556.1 L444.0,543.9 L444.5,542.3 L445.0,537.5 L445.5,542.2 L446.0,540.9 L446.5,542.6 L447.0,542.3 L447.5,549.6 L448.0,546.2 L448.5,548.3 L449.0,552.8 L449.5,554.7 L450.0,552.0 L450.5,559.8 L451.0,557.2 L451.5,562.1 L452.0,560.0 L452.5,563.3 L453.0,565.1 L453.5,570.2 L454.0,571.2 L454.5,575.3 L455.0,574.3 L455.5,576.6 L456.0,575.3 L456.5,581.4 L457.0,580.0 L457.5,588.6 L458.0,580.6 L458.5,590.4 L459.0,581.7 L459.5,590.8 L460.0,581.8 L460.5,588.4 L461.0,584.8 L461.5,596.8 L462.0,598.3 L462.5,611.3 L463.0,617.0 L463.5,612.6 L464.0,601.7 L464.5,600.7 L465.0,591.4 L465.5,590.0 L466.0,580.8 L466.5,584.3 L467.0,577.8 L467.5,581.6 L468.0,574.2 L468.5,570.8 L469.0,567.1 L469.5,565.6 L470.0,560.8 L470.5,563.7 L471.0,555.6 L471.5,556.0 L472.0,546.7 L472.5,547.0 L473.0,530.8 L473.5,525.4 L474.0,514.3 L474.5,520.2 L475.0,514.0 L475.5,513.6 L476.0,510.0 L476.5,514.5 L477.0,511.2 L477.5,520.0 L478.0,520.1 L478.5,535.8 L479.0,532.6 L479.5,537.5 L480.0,528.0 L480.5,527.6 L481.0,523.1 L481.5,519.9 L482.0,515.6 L482.5,515.1 L483.0,504.8 L483.5,509.7 L484.0,509.6 L484.5,513.9 L485.0,512.1 L485.5,517.1 L486.0,518.1 L486.5,521.3 L487.0,523.4 L487.5,521.5 L488.0,517.1 L488.5,517.6 L489.0,515.0 L489.5,518.2 L490.0,510.8 L490.5,519.9 L491.0,515.3 L491.5,519.6 L492.0,517.0 L492.5,518.5 L493.0,511.3 L493.5,517.9 L494.0,510.6 L494.5,515.3 L495.0,508.6 L495.5,514.6 L496.0,509.8 L496.5,515.8 L497.0,509.2 L497.5,521.4 L498.0,516.1 L498.5,526.0 L499.0,522.1 L499.5,526.9 L500.0,521.3 L500.5,526.1 L501.0,518.3 L501.5,526.5 L502.0,521.7 L502.5,530.0 L503.0,523.9 L503.5,529.6 L504.0,522.2 L504.5,530.9 L505.0,525.2 L505.5,535.5 L506.0,531.5 L506.5,538.5 L507.0,533.2 L507.5,540.6 L508.0,535.3 L508.5,543.0 L509.0,538.7 L509.5,542.8 L510.0,536.0 L510.5,543.5 L511.0,537.2 L511.5,543.5 L512.0,535.9 L512.5,543.3 L513.0,538.5 L513.5,548.2 L514.0,541.1 L514.5,549.2 L515.0,542.3 L515.5,550.8 L516.0,549.9 L516.5,553.3 L517.0,548.3 L517.5,558.3 L518.0,554.6 L518.5,563.1 L519.0,560.1 L519.5,568.9 L520.0,567.1 L520.5,568.0 L521.0,561.7 L521.5,559.2 L522.0,553.3 L522.5,553.1 L523.0,542.9 L523.5,543.7 L524.0,537.1 L524.5,538.5 L525.0,535.6 L525.5,541.1 L526.0,534.8 L526.5,541.6 L527.0,532.9 L527.5,540.9 L528.0,531.5 L528.5,539.5 L529.0,530.6 L529.5,538.8 L530.0,532.9 L530.5,538.7 L531.0,534.2 L531.5,544.3 L532.0,538.2 L532.5,546.1 L533.0,539.8 L533.5,547.1 L534.0,545.6 L534.5,547.7 L535.0,545.3 L535.5,552.1 L536.0,549.1 L536.5,552.0 L537.0,549.9 L537.5,551.2 L538.0,544.4 L538.5,549.7 L539.0,550.1 L539.5,553.7 L540.0,552.0 L540.5,557.0 L541.0,553.1 L541.5,558.1 L542.0,557.0 L542.5,557.6 L543.0,552.3 L543.5,560.5 L544.0,556.0 L544.5,562.4 L545.0,556.8 L545.5,557.4 L546.0,556.6 L546.5,559.4 L547.0,554.0 L547.5,558.6 L548.0,554.5 L548.5,562.1 L549.0,559.8 L549.5,568.0 L550.0,564.4 L550.5,576.6 L551.0,571.9 L551.5,578.1 L552.0,568.5 L552.5,569.6 L553.0,559.1 L553.5,560.9 L554.0,553.9 L554.5,559.1 L555.0,551.6 L555.5,560.7 L556.0,555.1 L556.5,564.8 L557.0,559.8 L557.5,567.3 L558.0,564.7 L558.5,566.5 L559.0,562.1 L559.5,569.7 L560.0,565.0 L560.5,572.8 L561.0,569.9 L561.5,578.7 L562.0,573.9 L562.5,581.5 L563.0,574.7 L563.5,581.1 L564.0,574.2 L564.5,581.1 L565.0,573.1 L565.5,581.5 L566.0,575.8 L566.5,583.1 L567.0,577.9 L567.5,583.0 L568.0,577.5 L568.5,587.4 L569.0,584.0 L569.5,593.5 L570.0,586.8 L570.5,596.6 L571.0,590.6 L571.5,597.3 L572.0,593.9 L572.5,601.8 L573.0,596.5 L573.5,605.4 L574.0,601.5 L574.5,605.6 L575.0,605.1 L575.5,609.2 L576.0,606.5 L576.5,610.2 L577.0,607.1 L577.5,609.3 L578.0,606.1 L578.5,609.6 L579.0,605.5 L579.5,613.8 L580.0,611.9 L580.5,615.8 L581.0,611.1 L581.5,616.1 L582.0,610.9 L582.5,617.4 L583.0,611.9 L583.5,618.0 L584.0,611.5 L584.5,619.2 L585.0,610.1 L585.5,620.9 L586.0,617.9 L586.5,622.4 L587.0,614.8 L587.5,623.3 L588.0,618.1 L588.5,625.5 L589.0,619.2 L589.5,628.8 L590.0,623.9 L590.5,629.1 L591.0,621.7 L591.5,633.9 L592.0,627.9 L592.5,635.3 L593.0,630.7 L593.5,641.4 L594.0,638.5 L594.5,641.8 L595.0,639.6 L595.5,645.7 L596.0,644.5 L596.5,647.0 L597.0,648.5 L597.5,653.0 L598.0,651.3 L598.5,657.6 L599.0,657.3 L599.5,665.0 L600.0,666.6 L600.5,669.3 L601.0,666.3 L601.5,676.3 L602.0,673.3 L602.5,684.6 L603.0,680.0 L603.5,689.8 L604.0,683.9 L604.5,690.5 L605.0,682.1 L605.5,685.1 L606.0,676.0 L606.5,682.9 L607.0,675.3 L607.5,677.0 L608.0,671.1 L608.5,672.0 L609.0,667.5 L609.5,668.7 L610.0,666.1 L610.5,667.3 L611.0,663.4 L611.5,665.2 L612.0,660.7 L612.5,662.1 L613.0,654.9 L613.5,659.7 L614.0,656.1 L614.5,656.8 L615.0,650.7 L615.5,650.3 L616.0,643.1 L616.5,647.7 L617.0,644.4 L617.5,647.6 L618.0,640.0 L618.5,645.0 L619.0,634.9 L619.5,638.0 L620.0,632.8 L620.5,634.2 L621.0,628.5 L621.5,630.9 L622.0,628.7 L622.5,630.4 L623.0,628.3 L623.5,631.9 L624.0,627.2 L624.5,633.6 L625.0,629.9 L625.5,639.3 L626.0,634.9 L626.5,640.4 L627.0,635.8 L627.5,644.3 L628.0,636.0 L628.5,643.5 L629.0,633.3 L629.5,637.5 L630.0,628.6 L630.5,632.2 L631.0,623.9 L631.5,632.6 L632.0,627.2 L632.5,636.0 L633.0,630.3 L633.5,640.8 L634.0,636.0 L634.5,641.9 L635.0,639.3 L635.5,643.2 L636.0,635.9 L636.5,643.5 L637.0,638.6 L637.5,642.1 L638.0,643.3 L638.5,647.1 L639.0,642.7 L639.5,646.6 L640.0,645.6 L640.5,646.7 L641.0,643.8 L641.5,649.1 L642.0,644.9 L642.5,647.5 L643.0,644.0 L643.5,645.8 L644.0,640.7 L644.5,643.1 L645.0,642.3 L645.5,644.6 L646.0,640.6 L646.5,641.4 L647.0,637.0 L647.5,641.6 L648.0,640.3 L648.5,642.9 L649.0,642.2 L649.5,642.3 L650.0,640.7 L650.5,642.3 L651.0,640.7 L651.5,647.2 L652.0,644.2 L652.5,650.3 L653.0,644.0 L653.5,651.0 L654.0,645.0 L654.5,650.9 L655.0,645.8 L655.5,653.1 L656.0,652.7 L656.5,655.7 L657.0,650.7 L657.5,660.0 L658.0,656.6 L658.5,661.0 L659.0,659.3 L659.5,663.2 L660.0,659.4 L660.5,661.7 L661.0,658.7 L661.5,659.5 L662.0,658.7 L662.5,658.5 L663.0,656.8 L663.5,660.6 L664.0,655.1 L664.5,655.5 L665.0,651.8 L665.5,651.8 L666.0,647.2 L666.5,652.3 L667.0,648.4 L667.5,652.3 L668.0,642.5 L668.5,646.2 L669.0,641.9 L669.5,642.0 L670.0,639.0 L670.5,643.5 L671.0,638.6 L671.5,640.5 L672.0,641.3 L672.5,641.8 L673.0,641.0 L673.5,648.2 L674.0,642.8 L674.5,650.3 L675.0,646.4 L675.5,653.6 L676.0,650.2 L676.5,657.7 L677.0,655.9 L677.5,662.0 L678.0,662.8 L678.5,669.7 L679.0,668.6 L679.5,675.1 L680.0,677.1 L680.5,674.0 L681.0,669.1 L681.5,671.4 L682.0,665.5 L682.5,670.6 L683.0,660.9 L683.5,664.0 L684.0,662.4 L684.5,659.9 L685.0,654.5 L685.5,659.3 L686.0,652.1 L686.5,653.2 L687.0,649.4 L687.5,650.0 L688.0,646.3 L688.5,645.7 L689.0,643.5 L689.5,640.9 L690.0,639.0 L690.5,642.1 L691.0,639.3 L691.5,640.9 L692.0,637.4 L692.5,640.2 L693.0,638.8 L693.5,641.2 L694.0,637.3 L694.5,645.9 L695.0,640.4 L695.5,649.0 L696.0,643.7 L696.5,648.0 L697.0,643.1 L697.5,647.4 L698.0,648.2 L698.5,653.0 L699.0,654.3 L699.5,659.9 L700.0,659.1 L700.5,664.1 L701.0,660.4 L701.5,666.9 L702.0,662.6 L702.5,667.4 L703.0,667.2 L703.5,671.7 L704.0,666.9 L704.5,672.1 L705.0,669.1 L705.5,672.9 L706.0,667.2 L706.5,673.6 L707.0,668.3 L707.5,675.3 L708.0,666.3 L708.5,671.1 L709.0,664.7 L709.5,675.2 L710.0,671.0 L710.5,679.0 L711.0,672.9 L711.5,680.4 L712.0,676.6 L712.5,679.1 L713.0,675.0 L713.5,678.9 L714.0,677.0 L714.5,678.4 L715.0,675.5 L715.5,677.8 L716.0,674.9 L716.5,680.9 L717.0,674.5 L717.5,679.6 L718.0,674.3 L718.5,678.1 L719.0,673.3 L719.5,675.0 L720.0,675.2 L720.5,679.8 L721.0,676.9 L721.5,681.2 L722.0,679.5 L722.5,685.0 L723.0,682.9 L723.5,684.0 L724.0,683.0 L724.5,685.1 L725.0,680.0 L725.5,683.2 L726.0,675.4 L726.5,678.5 L727.0,673.8 L727.5,675.7 L728.0,671.4 L728.5,673.2 L729.0,668.7 L729.5,670.0 L730.0,667.3 L730.5,669.1 L731.0,665.8 L731.5,668.5 L732.0,665.4 L732.5,667.3 L733.0,662.3 L733.5,663.3 L734.0,656.3 L734.5,655.9 L735.0,651.6 L735.5,654.2 L736.0,652.6 L736.5,656.7 L737.0,650.2 L737.5,656.9 L738.0,648.2 L738.5,656.1 L739.0,654.0 L739.5,657.0 L740.0,656.2 L740.5,661.1 L741.0,658.9 L741.5,660.9 L742.0,658.1 L742.5,657.1 L743.0,656.2 L743.5,657.0 L744.0,652.2 L744.5,658.3 L745.0,656.3 L745.5,655.4 L746.0,648.9 L746.5,655.5 L747.0,651.4 L747.5,655.9 L748.0,652.9 L748.5,652.8 L749.0,649.6 L749.5,654.0 L750.0,650.4 L750.5,653.7 L751.0,648.5 L751.5,649.3 L752.0,648.6 L752.5,649.4 L753.0,644.1 L753.5,650.0 L754.0,644.9 L754.5,646.0 L755.0,645.1 L755.5,647.5 L756.0,646.5 L756.5,649.6 L757.0,649.2 L757.5,653.5 L758.0,650.6 L758.5,654.1 L759.0,651.9 L759.5,654.4 L760.0,651.4 L760.5,655.0 L761.0,651.1 L761.5,658.0 L762.0,659.0 L762.5,660.7 L763.0,658.3 L763.5,661.9 L764.0,660.9 L764.5,668.2 L765.0,657.6 L765.5,663.3 L766.0,663.0 L766.5,662.7 L767.0,658.9 L767.5,666.5 L768.0,663.5 L768.5,668.5 L769.0,668.3 L769.5,672.7 L770.0,670.7 L770.5,672.4 L771.0,669.5 L771.5,669.5 L772.0,668.0 L772.5,666.5 L773.0,663.1 L773.5,662.2 L774.0,661.6 L774.5,665.6 L775.0,664.5 L775.5,668.6 L776.0,667.8 L776.5,671.9 L777.0,671.3 L777.5,675.4 L778.0,675.4 L778.5,677.4 L779.0,676.0 L779.5,679.5 L780.0,675.6 L780.5,680.8 L781.0,676.7 L781.5,681.1 L782.0,675.7 L782.5,682.8 L783.0,677.8 L783.5,683.1 L784.0,679.1 L784.5,684.2 L785.0,679.4 L785.5,684.6 L786.0,677.8 L786.5,684.5 L787.0,679.4 L787.5,685.5 L788.0,678.9 L788.5,682.9 L789.0,678.6 L789.5,684.0 L790.0,681.3 L790.5,685.2 L791.0,681.3 L791.5,688.8 L792.0,687.0 L792.5,688.1 L793.0,687.4 L793.5,690.9 L794.0,688.6 L794.5,690.2 L795.0,690.4 L795.5,693.5 L796.0,689.1 L796.5,691.1 L797.0,689.0 L797.5,692.6 L798.0,683.4 L798.5,687.3 L799.0,678.5 L799.5,684.1 L800.0,678.2 L800.5,683.0 L801.0,676.4 L801.5,680.0 L802.0,670.7 L802.5,673.7 L803.0,667.5 L803.5,668.9 L804.0,666.6 L804.5,668.4 L805.0,665.9 L805.5,670.4 L806.0,667.4 L806.5,666.9 L807.0,663.3 L807.5,665.5 L808.0,664.6 L808.5,667.6 L809.0,667.5 L809.5,670.6 L810.0,668.8 L810.5,671.1 L811.0,670.7 L811.5,673.9 L812.0,671.5 L812.5,676.7 L813.0,673.0 L813.5,672.7 L814.0,670.3 L814.5,672.4 L815.0,670.3 L815.5,675.6 L816.0,668.3 L816.5,675.2 L817.0,669.6 L817.5,674.1 L818.0,669.5 L818.5,674.0 L819.0,669.9 L819.5,672.0 L820.0,670.9 L820.5,673.8 L821.0,671.3 L821.5,675.4 L822.0,673.3 L822.5,674.5 L823.0,666.0 L823.5,666.0 L824.0,659.7 L824.5,660.9 L825.0,655.4 L825.5,656.6 L826.0,652.9 L826.5,654.5 L827.0,655.7 L827.5,662.5 L828.0,660.6 L828.5,665.7 L829.0,667.2 L829.5,666.5 L830.0,661.1 L830.5,663.6 L831.0,656.4 L831.5,659.3 L832.0,651.2 L832.5,653.3 L833.0,648.4 L833.5,649.8 L834.0,642.6 L834.5,647.4 L835.0,638.2 L835.5,644.0 L836.0,635.2 L836.5,638.3 L837.0,632.5 L837.5,635.5 L838.0,633.4 L838.5,638.5 L839.0,636.2 L839.5,644.0 L840.0,641.0 L840.5,649.5 L841.0,643.8 L841.5,650.6 L842.0,648.7 L842.5,653.6 L843.0,648.9 L843.5,655.3 L844.0,650.3 L844.5,657.0 L845.0,649.6 L845.5,657.9 L846.0,652.2 L846.5,658.4 L847.0,651.8 L847.5,661.6 L848.0,656.6 L848.5,664.3 L849.0,656.0 L849.5,662.8 L850.0,662.8 L850.5,662.9 L851.0,661.2 L851.5,665.3 L852.0,662.3 L852.5,664.4 L853.0,660.8 L853.5,664.7 L854.0,665.2 L854.5,667.1 L855.0,664.9 L855.5,670.0 L856.0,668.2 L856.5,675.2 L857.0,674.1 L857.5,679.6 L858.0,677.4 L858.5,679.9 L859.0,670.7 L859.5,675.2 L860.0,667.3 L860.5,674.5 L861.0,666.2 L861.5,666.0 L862.0,658.6 L862.5,661.8 L863.0,657.2 L863.5,657.5 L864.0,648.0 L864.5,650.5 L865.0,642.6 L865.5,648.9 L866.0,646.6 L866.5,655.7 L867.0,652.7 L867.5,661.6 L868.0,658.2 L868.5,663.1 L869.0,659.8 L869.5,664.9 L870.0,659.0 L870.5,665.6 L871.0,660.7 L871.5,667.3 L872.0,667.0 L872.5,667.6 L873.0,666.3 L873.5,669.9 L874.0,667.7 L874.5,669.1 L875.0,670.6 L875.5,679.3 L876.0,681.1 L876.5,691.5 L877.0,690.8 L877.5,702.8 L878.0,702.2 L878.5,710.1 L879.0,707.4 L879.5,717.4 L880.0,714.2 L880.5,716.5 L881.0,706.6 L881.5,706.2 L882.0,696.7 L882.5,697.8 L883.0,692.6 L883.5,696.7 L884.0,697.5 L884.5,703.4 L885.0,703.2 L885.5,710.4 L886.0,713.2 L886.5,717.2 L887.0,713.6 L887.5,716.8 L888.0,710.6 L888.5,715.6 L889.0,710.5 L889.5,713.2 L890.0,708.1 L890.5,708.2 L891.0,699.4 L891.5,698.3 L892.0,691.5 L892.5,694.6 L893.0,691.6 L893.5,696.3 L894.0,694.5 L894.5,699.0 L895.0,695.2 L895.5,700.4 L896.0,699.4 L896.5,702.5 L897.0,698.8 L897.5,701.8 L898.0,700.1 L898.5,702.7 L899.0,702.0 L899.5,704.2 L900.0,698.8 L900.5,700.9 L901.0,694.2 L901.5,694.0 L902.0,687.1 L902.5,691.6 L903.0,682.3 L903.5,689.7 L904.0,684.5 L904.5,689.1 L905.0,681.5 L905.5,689.2 L906.0,680.7 L906.5,687.1 L907.0,683.0 L907.5,687.8 L908.0,687.0 L908.5,688.3 L909.0,684.5 L909.5,683.3 L910.0,679.4 L910.5,685.3 L911.0,680.3 L911.5,687.4 L912.0,683.1 L912.5,689.8 L913.0,685.1 L913.5,693.0 L914.0,688.6 L914.5,692.6 L915.0,690.6 L915.5,697.3 L916.0,694.1 L916.5,701.3 L917.0,697.8 L917.5,705.2 L918.0,702.2 L918.5,705.5 L919.0,703.3 L919.5,709.0 L920.0,706.5 L920.5,707.5 L921.0,706.4 L921.5,709.2 L922.0,707.1 L922.5,710.9 L923.0,709.8 L923.5,717.1 L924.0,712.3 L924.5,721.6 L925.0,719.1 L925.5,723.0 L926.0,720.7 L926.5,725.8 L927.0,722.4 L927.5,724.1 L928.0,721.8 L928.5,726.9 L929.0,723.6 L929.5,722.9 L930.0,718.1 L930.5,718.2 L931.0,712.8 L931.5,713.0 L932.0,708.4 L932.5,705.9 L933.0,701.1 L933.5,701.6 L934.0,700.8 L934.5,705.5 L935.0,702.0 L935.5,703.8 L936.0,703.6 L936.5,700.8 L937.0,698.5 L937.5,700.2 L938.0,696.4 L938.5,694.7 L939.0,692.7 L939.5,697.2 L940.0,692.7 L940.5,697.2 L941.0,693.6 L941.5,699.2 L942.0,699.1 L942.5,700.2 L943.0,699.6 L943.5,703.1 L944.0,704.6 L944.5,710.6 L945.0,713.1 L945.5,715.9 L946.0,712.5 L946.5,716.4 L947.0,713.7 L947.5,716.1 L948.0,714.3 L948.5,717.1 L949.0,714.1 L949.5,715.4 L950.0,715.3 L950.5,719.3 L951.0,717.2 L951.5,726.5 L952.0,726.3 L952.5,732.1 L953.0,730.5 L953.5,736.3 L954.0,732.5 L954.5,737.7 L955.0,733.9 L955.5,738.9 L956.0,735.3 L956.5,741.1 L957.0,740.7 L957.5,744.0 L958.0,741.7 L958.5,751.0 L959.0,747.8 L959.5,755.4 L960.0,754.8 L960.5,759.3 L961.0,752.5 L961.5,756.5 L962.0,751.6 L962.5,756.1 L963.0,753.1 L963.5,756.0 L964.0,755.6 L964.5,756.1 L965.0,754.5 L965.5,756.9 L966.0,752.1 L966.5,757.2 L967.0,755.2 L967.5,759.0 L968.0,756.8 L968.5,760.6 L969.0,759.1 L969.5,764.3 L970.0,758.3 L970.5,767.0 L971.0,763.6 L971.5,768.0 L972.0,767.0 L972.5,771.3 L973.0,768.9 L973.5,772.9 L974.0,774.6 L974.5,777.7 L975.0,777.2 L975.5,780.9 L976.0,777.4 L976.5,780.9 L977.0,777.9 L977.5,777.1 L978.0,772.3 L978.5,774.2 L979.0,771.9 L979.5,773.1 L980.0,773.6 L980.5,773.1 L981.0,770.4 L981.5,772.5 L982.0,769.4 L982.5,769.2 L983.0,767.6 L983.5,771.2 L984.0,768.5 L984.5,772.4 L985.0,767.4 L985.5,772.1 L986.0,767.2 L986.5,772.8 L987.0,767.9 L987.5,774.3 L988.0,770.3 L988.5,775.0 L989.0,772.5 L989.5,773.1 L990.0,763.6 L990.5,767.3 L991.0,760.1 L991.5,764.1 L992.0,758.5 L992.5,764.0 L993.0,758.1 L993.5,765.1 L994.0,762.3 L994.5,768.6 L995.0,766.1 L995.5,770.0 L996.0,767.7 L996.5,769.3 L997.0,766.7 L997.5,766.5 L998.0,763.5 L998.5,764.5 L999.0,762.4 L999.5,762.1 L1000.0,759.3 L1000.5,758.7 L1001.0,751.2 L1001.5,751.3 L1002.0,744.5 L1002.5,744.5 L1003.0,741.1 L1003.5,741.2 L1004.0,740.1 L1004.5,740.9 L1005.0,740.0 L1005.5,743.5 L1006.0,742.9 L1006.5,745.0 L1007.0,743.4 L1007.5,741.7 L1008.0,737.5 L1008.5,736.0 L1009.0,729.1 L1009.5,734.0 L1010.0,728.2 L1010.5,733.8 L1011.0,730.1 L1011.5,734.0 L1012.0,732.0 L1012.5,735.6 L1013.0,735.3 L1013.5,736.0 L1014.0,733.5 L1014.5,735.2 L1015.0,732.9 L1015.5,735.1 L1016.0,732.4 L1016.5,733.5 L1017.0,729.3 L1017.5,728.8 L1018.0,725.6 L1018.5,727.8 L1019.0,727.1 L1019.5,730.5 L1020.0,729.9 L1020.5,733.2 L1021.0,730.8 L1021.5,734.7 L1022.0,737.3 L1022.5,736.8 L1023.0,735.5 L1023.5,738.8 L1024.0,738.8 L1024.5,741.9 L1025.0,738.2 L1025.5,743.0 L1026.0,738.6 L1026.5,742.7 L1027.0,738.6 L1027.5,742.9 L1028.0,736.4 L1028.5,741.1 L1029.0,737.2 L1029.5,743.2 L1030.0,734.5 L1030.5,738.9 L1031.0,734.0 L1031.5,740.4 L1032.0,734.5 L1032.5,740.3 L1033.0,736.3 L1033.5,741.5 L1034.0,736.3 L1034.5,743.3 L1035.0,737.9 L1035.5,742.8 L1036.0,739.1 L1036.5,742.3 L1037.0,739.8 L1037.5,742.2 L1038.0,741.0 L1038.5,745.4 L1039.0,742.7 L1039.5,748.5 L1040.0,748.7 L1040.5,752.1 L1041.0,750.5 L1041.5,757.5 L1042.0,756.0 L1042.5,763.5 L1043.0,762.1 L1043.5,769.6 L1044.0,766.8 L1044.5,773.5 L1045.0,771.8 L1045.5,779.0 L1046.0,775.8 L1046.5,785.3 L1047.0,783.8 L1047.5,791.0 L1048.0,788.5 L1048.5,791.5 L1049.0,783.3 L1049.5,785.9 L1050.0,780.2 L1050.5,782.7 L1051.0,776.7 L1051.5,779.1 L1052.0,775.3 L1052.5,778.6 L1053.0,777.3 L1053.5,778.4 L1054.0,777.8 L1054.5,778.9 L1055.0,771.2 L1055.5,776.3 L1056.0,769.8 L1056.5,773.7 L1057.0,765.8 L1057.5,769.7 L1058.0,762.6 L1058.5,764.5 L1059.0,759.6 L1059.5,762.2 L1060.0,761.1 L1060.5,764.7 L1061.0,761.8 L1061.5,766.0 L1062.0,762.1 L1062.5,768.9 L1063.0,768.5 L1063.5,770.2 L1064.0,767.2 L1064.5,771.1 L1065.0,768.2 L1065.5,769.1 L1066.0,769.0 L1066.5,770.7 L1067.0,768.8 L1067.5,772.2 L1068.0,771.2 L1068.5,772.1 L1069.0,769.0 L1069.5,773.9 L1070.0,770.5 L1070.5,772.5 L1071.0,771.6 L1071.5,772.1 L1072.0,771.1 L1072.5,770.6 L1073.0,769.2 L1073.5,773.2 L1074.0,770.2 L1074.5,776.2 L1075.0,773.8 L1075.5,777.8 L1076.0,775.2 L1076.5,777.3 L1077.0,779.6 L1077.5,780.5 L1078.0,782.4 L1078.5,784.7 L1079.0,784.2 L1079.5,789.6 L1080.0,790.9 L1080.5,790.2 L1081.0,783.1 L1081.5,786.2 L1082.0,781.0 L1082.5,782.0 L1083.0,778.9 L1083.5,779.8 L1084.0,777.1 L1084.5,781.8 L1085.0,779.9 L1085.5,787.5 L1086.0,785.3 L1086.5,792.8 L1087.0,793.1 L1087.5,799.7 L1088.0,800.0 L1088.5,807.1 L1089.0,807.3 L1089.5,811.7 L1090.0,816.7 L1090.5,817.9 L1091.0,811.4 L1091.5,814.5 L1092.0,807.8 L1092.5,810.8 L1093.0,808.1 L1093.5,808.8 L1094.0,807.7 L1094.5,807.8 L1095.0,802.2 L1095.5,804.9 L1096.0,797.4 L1096.5,800.4 L1097.0,793.1 L1097.5,793.7 L1098.0,787.2 L1098.5,789.7 L1099.0,787.1 L1099.5,788.7 L1100.0,785.7 L1100.5,789.6 L1101.0,783.3 L1101.5,789.6 L1102.0,783.9 L1102.5,789.8 L1103.0,783.1 L1103.5,788.5 L1104.0,784.6 L1104.5,791.3 L1105.0,787.9 L1105.5,790.9 L1106.0,791.3 L1106.5,794.8 L1107.0,793.7 L1107.5,798.3 L1108.0,797.3 L1108.5,797.9 L1109.0,797.8 L1109.5,800.4 L1110.0,798.1 L1110.5,801.2 L1111.0,799.9 L1111.5,804.8 L1112.0,803.1 L1112.5,805.4 L1113.0,805.1 L1113.5,808.4 L1114.0,804.7 L1114.5,809.5 L1115.0,807.4 L1115.5,803.8 L1116.0,799.9 L1116.5,798.5 L1117.0,791.7 L1117.5,793.2 L1118.0,788.8 L1118.5,791.3 L1119.0,787.1 L1119.5,791.4 L1120.0,790.6 L1120.5,791.8 L1121.0,789.5 L1121.5,793.3 L1122.0,792.9 L1122.5,792.3 L1123.0,791.1 L1123.5,791.7 L1124.0,790.2 L1124.5,792.2 L1125.0,789.5 L1125.5,791.4 L1126.0,788.9 L1126.5,790.2 L1127.0,789.7 L1127.5,789.2 L1128.0,787.1 L1128.5,789.1 L1129.0,786.0 L1129.5,786.0 L1130.0,782.1 L1130.5,785.8 L1131.0,781.6 L1131.5,784.3 L1132.0,782.6 L1132.5,784.7 L1133.0,781.7 L1133.5,785.0 L1134.0,783.5 L1134.5,785.1 L1135.0,782.5 L1135.5,786.1 L1136.0,785.3 L1136.5,787.5 L1137.0,785.1 L1137.5,790.1 L1138.0,789.4 L1138.5,790.5 L1139.0,788.2 L1139.5,792.2 L1140.0,791.4 L1140.5,795.0 L1141.0,792.7 L1141.5,796.0 L1142.0,792.6 L1142.5,796.2 L1143.0,793.3 L1143.5,792.4 L1144.0,790.9 L1144.5,793.0 L1145.0,789.3 L1145.5,790.1 L1146.0,786.7 L1146.5,789.7 L1147.0,784.5 L1147.5,788.3 L1148.0,782.4 L1148.5,788.0 L1149.0,781.4 L1149.5,784.2 L1150.0,778.5 L1150.5,785.6 L1151.0,782.2 L1151.5,788.2 L1152.0,783.1 L1152.5,787.0 L1153.0,783.9 L1153.5,789.5 L1154.0,787.0 L1154.5,790.6 L1155.0,787.7 L1155.5,792.0 L1156.0,789.3 L1156.5,795.3 L1157.0,791.9 L1157.5,793.9 L1158.0,791.6 L1158.5,795.2 L1159.0,794.5 L1159.5,794.6 L1160.0,789.8 L1160.5,794.3 L1161.0,790.8 L1161.5,796.5 L1162.0,793.9 L1162.5,798.4 L1163.0,795.3 L1163.5,797.9 L1164.0,795.7 L1164.5,801.2 L1165.0,798.0 L1165.5,804.1 L1166.0,800.5 L1166.5,804.7 L1167.0,802.9 L1167.5,810.4 L1168.0,807.1 L1168.5,812.5 L1169.0,810.5 L1169.5,817.8 L1170.0,813.8 L1170.5,821.1 L1171.0,815.9 L1171.5,822.2 L1172.0,820.5 L1172.5,824.6 L1173.0,819.2 L1173.5,825.5 L1174.0,822.5 L1174.5,828.1 L1175.0,826.5 L1175.5,827.9 L1176.0,821.8 L1176.5,822.0 L1177.0,818.6 L1177.5,817.8 L1178.0,813.7 L1178.5,813.1 L1179.0,811.5 L1179.5,812.9 L1180.0,810.8 L1180.5,812.8 L1181.0,811.9 L1181.5,814.5 L1182.0,811.2 L1182.5,813.5 L1183.0,809.3 L1183.5,814.6 L1184.0,811.2 L1184.5,816.3 L1185.0,813.6 L1185.5,819.6 L1186.0,814.7 L1186.5,821.2 L1187.0,817.3 L1187.5,823.3 L1188.0,820.0" fill="none" stroke="#0070ba" stroke-width="4.4" stroke-linejoin="round" stroke-linecap="round"/>
<path d="M187.0,558.5 L187.5,559.7 L188.0,562.9 L188.5,559.5 L189.0,564.3 L189.5,559.6 L190.0,564.5 L190.5,558.4 L191.0,561.9 L191.5,563.6 L192.0,571.3 L192.5,565.5 L193.0,569.3 L193.5,565.3 L194.0,565.7 L194.5,559.9 L195.0,568.7 L195.5,563.0 L196.0,571.8 L196.5,564.8 L197.0,571.1 L197.5,566.2 L198.0,572.1 L198.5,560.1 L199.0,558.4 L199.5,546.8 L200.0,551.3 L200.5,543.3 L201.0,546.6 L201.5,543.5 L202.0,545.2 L202.5,542.1 L203.0,550.8 L203.5,542.6 L204.0,557.4 L204.5,554.6 L205.0,567.7 L205.5,563.9 L206.0,570.8 L206.5,566.4 L207.0,571.9 L207.5,568.2 L208.0,574.2 L208.5,572.7 L209.0,578.8 L209.5,584.6 L210.0,595.1 L210.5,595.9 L211.0,597.3 L211.5,594.2 L212.0,595.4 L212.5,588.8 L213.0,593.5 L213.5,589.2 L214.0,596.8 L214.5,591.4 L215.0,592.9 L215.5,588.6 L216.0,590.5 L216.5,585.4 L217.0,585.5 L217.5,577.8 L218.0,581.5 L218.5,576.0 L219.0,577.9 L219.5,574.5 L220.0,581.3 L220.5,575.5 L221.0,585.9 L221.5,578.6 L222.0,586.8 L222.5,577.7 L223.0,584.4 L223.5,578.9 L224.0,590.3 L224.5,583.6 L225.0,593.9 L225.5,587.2 L226.0,593.2 L226.5,590.9 L227.0,595.1 L227.5,593.2 L228.0,597.6 L228.5,591.9 L229.0,596.6 L229.5,593.5 L230.0,598.8 L230.5,602.1 L231.0,613.5 L231.5,619.8 L232.0,630.7 L232.5,628.5 L233.0,632.9 L233.5,621.7 L234.0,630.6 L234.5,624.2 L235.0,627.5 L235.5,621.8 L236.0,628.9 L236.5,613.0 L237.0,603.0 L237.5,589.3 L238.0,581.3 L238.5,576.4 L239.0,588.9 L239.5,585.5 L240.0,600.3 L240.5,594.6 L241.0,607.3 L241.5,604.0 L242.0,610.5 L242.5,607.4 L243.0,613.0 L243.5,605.5 L244.0,615.5 L244.5,609.9 L245.0,610.5 L245.5,612.8 L246.0,624.0 L246.5,629.7 L247.0,641.1 L247.5,642.3 L248.0,650.9 L248.5,650.4 L249.0,653.7 L249.5,648.8 L250.0,656.2 L250.5,653.3 L251.0,654.6 L251.5,653.7 L252.0,653.1 L252.5,649.3 L253.0,650.6 L253.5,645.9 L254.0,643.3 L254.5,635.7 L255.0,636.5 L255.5,634.5 L256.0,643.9 L256.5,637.1 L257.0,644.4 L257.5,636.3 L258.0,643.8 L258.5,631.7 L259.0,634.5 L259.5,629.0 L260.0,628.4 L260.5,624.2 L261.0,624.3 L261.5,618.5 L262.0,622.0 L262.5,617.9 L263.0,621.0 L263.5,619.2 L264.0,625.8 L264.5,621.9 L265.0,635.2 L265.5,626.1 L266.0,636.4 L266.5,628.8 L267.0,636.7 L267.5,628.9 L268.0,634.6 L268.5,629.0 L269.0,635.9 L269.5,634.6 L270.0,641.0 L270.5,638.0 L271.0,643.3 L271.5,643.6 L272.0,648.2 L272.5,644.9 L273.0,649.9 L273.5,645.1 L274.0,650.4 L274.5,646.7 L275.0,652.5 L275.5,652.9 L276.0,657.8 L276.5,657.2 L277.0,660.6 L277.5,664.3 L278.0,670.6 L278.6,667.1 L279.1,676.2 L279.6,674.3 L279.6,714.3 L280.1,707.5 L280.6,713.2 L281.1,703.9 L281.5,711.4 L282.0,705.9 L282.5,707.4 L283.0,693.6 L283.5,696.0 L284.0,680.9 L284.5,681.4 L285.0,667.7 L285.5,665.3 L286.0,653.0 L286.5,651.3 L287.0,635.9 L287.5,638.5 L288.0,628.6 L288.5,625.0 L289.0,622.7 L289.5,622.1 L290.0,614.2 L290.5,614.9 L291.0,605.1 L291.5,615.3 L292.0,618.3 L292.5,627.5 L293.0,629.4 L293.5,637.2 L294.0,637.5 L294.5,644.5 L295.0,645.8 L295.5,652.9 L296.0,648.1 L296.5,658.1 L297.0,659.6 L297.5,666.4 L298.0,672.0 L298.5,680.3 L299.0,680.9 L299.5,681.3 L300.0,675.1 L300.5,675.8 L301.0,668.3 L301.5,673.7 L302.0,669.1 L302.5,668.3 L303.0,665.8 L303.5,667.0 L304.0,657.4 L304.5,663.3 L305.0,657.4 L305.5,656.3 L306.0,653.2 L306.5,653.8 L307.0,649.9 L307.5,651.9 L308.0,645.8 L308.5,650.2 L309.0,642.3 L309.5,651.9 L310.0,643.0 L310.5,648.7 L311.0,639.1 L311.5,643.1 L312.0,638.1 L312.5,639.4 L313.0,631.8 L313.5,636.8 L314.0,626.9 L314.5,634.3 L315.0,624.6 L315.5,625.4 L316.0,620.0 L316.5,621.6 L317.0,610.2 L317.5,618.1 L318.0,614.2 L318.5,622.8 L319.0,626.0 L319.5,638.9 L320.0,647.9 L320.5,653.4 L321.0,651.9 L321.5,656.7 L322.0,651.3 L322.5,661.8 L323.0,655.9 L323.5,664.5 L324.0,667.1 L324.5,668.7 L325.0,662.4 L325.5,669.3 L326.0,659.1 L326.5,662.0 L327.0,657.3 L327.5,656.4 L328.0,659.0 L328.5,654.3 L329.0,650.6 L329.5,655.3 L330.0,650.7 L330.5,653.3 L331.0,650.5 L331.5,653.0 L332.0,649.4 L332.5,652.8 L333.0,648.6 L333.5,652.3 L334.0,647.9 L334.5,650.6 L335.0,647.5 L335.5,650.1 L336.0,647.9 L336.5,650.8 L337.0,647.3 L337.5,653.1 L338.0,652.1 L338.5,656.6 L339.0,654.4 L339.5,660.5 L340.0,656.8 L340.5,661.9 L341.0,657.7 L341.5,658.1 L342.0,656.0 L342.5,655.8 L343.0,651.9 L343.5,654.3 L344.0,653.0 L344.5,651.9 L345.0,646.8 L345.5,644.3 L346.0,641.1 L346.5,642.0 L347.0,638.9 L347.5,641.7 L348.0,636.3 L348.5,641.0 L349.0,629.9 L349.5,639.6 L350.0,634.5 L350.5,642.1 L351.0,638.7 L351.5,645.7 L352.0,638.7 L352.5,634.2 L353.0,614.3 L353.5,606.8 L354.0,591.9 L354.5,593.7 L355.0,584.6 L355.5,589.4 L356.0,581.0 L356.5,581.9 L357.0,581.5 L357.5,580.7 L358.0,577.8 L358.5,582.7 L359.0,581.1 L359.5,584.2 L360.0,578.1 L360.5,579.9 L361.0,579.7 L361.5,582.7 L362.0,581.2 L362.5,580.9 L363.0,577.3 L363.5,580.2 L364.0,575.4 L364.5,578.4 L365.0,575.1 L365.5,579.0 L366.0,569.5 L366.5,573.2 L367.0,567.4 L367.5,570.3 L368.0,564.6 L368.5,567.4 L369.0,563.5 L369.5,568.1 L370.0,558.1 L370.5,558.5 L371.1,544.4 L371.6,540.7 L372.1,543.7 L372.6,547.3 L373.0,546.9 L373.5,552.4 L374.0,555.5 L374.5,561.4 L375.0,563.7 L375.5,568.1 L376.0,568.8 L376.5,576.5 L377.0,579.3 L377.5,582.2 L378.0,582.8 L378.5,586.4 L379.0,579.4 L379.5,585.3 L380.0,584.4 L380.5,589.6 L381.0,588.4 L381.5,605.2 L382.0,614.0 L382.5,614.9 L383.0,603.0 L383.5,604.1 L384.0,593.4 L384.5,594.4 L385.0,584.4 L385.5,591.0 L386.0,586.5 L386.5,591.3 L387.0,587.8 L387.5,594.1 L388.0,586.5 L388.5,591.8 L389.0,588.5 L389.5,591.5 L390.0,586.5 L390.5,589.1 L391.0,584.8 L391.5,583.7 L392.0,579.6 L392.5,583.7 L393.0,584.0 L393.5,587.4 L394.0,586.8 L394.5,589.6 L395.0,588.3 L395.5,594.7 L396.0,591.0 L396.5,598.2 L397.0,595.9 L397.5,604.6 L398.0,600.3 L398.5,608.7 L399.0,604.9 L399.5,609.2 L400.0,604.4 L400.5,612.7 L401.0,606.2 L401.5,611.6 L402.0,613.3 L402.5,615.7 L403.0,612.1 L403.5,617.3 L404.0,613.6 L404.5,618.7 L405.0,618.2 L405.5,626.1 L406.0,626.3 L406.5,628.6 L407.0,624.7 L407.5,632.4 L408.0,628.5 L408.5,637.4 L409.0,633.9 L409.5,639.2 L410.0,638.5 L410.5,639.1 L411.0,630.1 L411.5,632.8 L412.0,626.1 L412.5,631.5 L413.0,622.9 L413.5,623.2 L414.0,621.5 L414.5,624.5 L415.0,621.6 L415.5,624.8 L416.0,624.6 L416.5,627.3 L417.0,625.6 L417.5,632.7 L418.0,631.1 L418.5,634.2 L419.0,631.2 L419.5,633.8 L420.0,633.3 L420.5,640.4 L421.0,640.5 L421.5,645.0 L422.0,647.7 L422.5,654.0 L423.0,654.7 L423.5,658.2 L424.0,652.9 L424.5,658.9 L425.0,657.0 L425.5,661.1 L426.0,654.8 L426.5,661.4 L427.0,660.2 L427.5,662.3 L428.0,657.6 L428.5,665.6 L429.0,662.8 L429.5,665.4 L430.0,659.0 L430.5,667.3 L431.0,664.6 L431.5,666.9 L432.0,663.0 L432.5,667.7 L433.0,664.3 L433.5,671.3 L434.0,664.5 L434.5,669.9 L435.0,666.0 L435.5,671.9 L436.0,674.2 L436.5,681.0 L437.0,682.6 L437.5,688.9 L438.0,690.2 L438.5,691.3 L439.0,683.3 L439.5,689.1 L440.0,684.6 L440.5,690.2 L441.0,687.4 L441.5,690.3 L442.0,687.4 L442.5,687.1 L443.0,674.8 L443.5,679.7 L444.0,668.8 L444.5,673.1 L445.0,672.4 L445.5,678.5 L446.0,673.4 L446.5,678.5 L447.0,671.4 L447.5,678.1 L448.0,670.5 L448.5,675.5 L449.0,674.7 L449.5,681.7 L450.0,679.3 L450.5,685.1 L451.0,679.9 L451.5,687.0 L452.0,682.0 L452.5,691.5 L453.0,683.2 L453.5,691.7 L454.0,687.1 L454.5,695.4 L455.0,690.0 L455.5,698.9 L456.0,694.0 L456.5,699.7 L457.0,690.8 L457.5,698.5 L458.0,691.7 L458.5,698.1 L459.0,693.3 L459.5,702.3 L460.0,698.2 L460.5,704.2 L461.0,702.2 L461.5,709.5 L462.0,709.8 L462.5,717.8 L463.0,712.9 L463.5,723.7 L464.0,722.9 L464.5,718.9 L465.0,707.0 L465.5,703.6 L466.0,699.0 L466.5,697.6 L467.0,697.2 L467.5,699.2 L468.0,696.2 L468.5,699.8 L469.0,696.5 L469.5,699.9 L470.0,697.0 L470.5,690.3 L471.0,678.9 L471.5,680.5 L472.0,678.1 L472.5,683.2 L473.0,680.9 L473.5,681.3 L474.0,675.1 L474.5,675.7 L475.0,673.9 L475.5,676.5 L476.0,675.4 L476.5,681.1 L477.0,677.4 L477.5,680.7 L478.0,676.5 L478.5,682.5 L479.0,679.0 L479.5,681.6 L480.0,677.5 L480.5,678.0 L481.0,673.2 L481.5,670.6 L482.0,661.5 L482.5,666.9 L483.0,664.0 L483.5,665.9 L484.0,665.8 L484.5,670.0 L485.0,664.6 L485.5,670.9 L486.0,666.8 L486.5,670.2 L487.0,666.8 L487.5,672.4 L488.0,663.9 L488.5,673.6 L489.0,666.5 L489.5,672.7 L490.0,664.1 L490.5,671.4 L491.0,669.2 L491.5,671.3 L492.0,665.3 L492.5,671.6 L493.0,665.2 L493.5,671.2 L494.0,666.9 L494.5,672.5 L495.0,669.4 L495.5,675.5 L496.0,679.2 L496.5,687.4 L497.0,693.4 L497.5,697.9 L498.0,696.3 L498.5,702.0 L499.0,703.3 L499.5,708.3 L500.0,705.6 L500.5,713.6 L501.0,715.8 L501.5,723.6 L502.0,724.6 L502.5,730.7 L503.0,731.2 L503.5,737.4 L504.0,739.4 L504.5,740.0 L505.0,735.6 L505.5,736.4 L506.0,732.4 L506.5,732.3 L507.0,729.6 L507.5,729.9 L508.0,721.3 L508.5,724.9 L509.0,716.7 L509.5,719.1 L510.0,715.0 L510.5,722.3 L511.0,723.9 L511.5,731.0 L512.0,727.1 L512.5,732.7 L513.0,730.2 L513.5,737.4 L514.0,736.4 L514.5,740.4 L515.0,737.8 L515.5,741.3 L516.0,732.7 L516.5,737.2 L517.0,729.8 L517.5,734.9 L518.0,731.3 L518.5,731.7 L519.0,726.5 L519.5,727.7 L520.0,720.4 L520.5,724.1 L521.0,718.7 L521.5,718.7 L522.0,715.7 L522.5,719.5 L523.0,712.6 L523.5,719.5 L524.0,715.2 L524.5,721.5 L525.0,715.1 L525.5,721.1 L526.0,716.8 L526.5,717.9 L527.0,713.3 L527.5,718.5 L528.0,714.2 L528.5,718.0 L529.0,716.4 L529.5,717.6 L530.0,714.9 L530.5,718.5 L531.0,717.1 L531.5,722.1 L532.0,717.6 L532.5,722.3 L533.0,722.2 L533.5,725.8 L534.0,719.1 L534.5,724.9 L535.0,721.7 L535.5,726.4 L536.0,723.1 L536.5,731.6 L537.0,726.3 L537.5,730.6 L538.0,724.9 L538.5,729.4 L539.0,727.9 L539.5,731.7 L540.0,727.4 L540.5,736.5 L541.0,732.6 L541.5,740.5 L542.0,734.1 L542.5,744.9 L543.0,740.1 L543.5,746.7 L544.0,740.3 L544.5,748.8 L545.0,742.9 L545.5,752.0 L546.0,750.1 L546.5,753.2 L547.0,744.1 L547.5,750.5 L548.0,743.8 L548.5,749.0 L549.0,745.3 L549.5,748.0 L550.0,742.5 L550.5,742.8 L551.0,739.1 L551.5,745.1 L552.0,742.7 L552.5,747.1 L553.0,746.7 L553.5,750.3 L554.0,748.7 L554.5,753.9 L555.0,752.8 L555.5,753.2 L556.0,745.8 L556.5,747.8 L557.0,742.7 L557.5,741.4 L558.0,736.8 L558.5,742.5 L559.0,742.4 L559.5,747.4 L560.0,745.7 L560.5,750.1 L561.0,751.2 L561.5,749.3 L562.0,749.6 L562.5,754.3 L563.0,750.8 L563.5,756.8 L564.0,754.9 L564.5,758.1 L565.0,757.2 L565.5,760.4 L566.0,759.1 L566.5,765.7 L567.0,761.9 L567.5,769.1 L568.0,764.9 L568.5,773.5 L569.0,767.4 L569.5,774.1 L570.0,770.1 L570.5,774.4 L571.0,770.2 L571.5,774.0 L572.0,768.4 L572.5,771.5 L573.0,767.0 L573.5,773.6 L574.0,764.1 L574.5,770.0 L575.0,764.3 L575.5,770.3 L576.0,767.1 L576.5,775.0 L577.0,770.4 L577.5,776.7 L578.0,770.3 L578.5,771.8 L579.0,767.1 L579.5,772.6 L580.0,769.2 L580.5,774.9 L581.0,771.5 L581.5,775.8 L582.0,774.9 L582.5,778.3 L583.0,774.4 L583.5,782.9 L584.0,781.3 L584.5,787.6 L585.0,782.7 L585.5,791.8 L586.0,786.1 L586.5,791.3 L587.0,783.2 L587.5,788.8 L588.0,783.6 L588.5,789.4 L589.0,784.1 L589.5,785.8 L590.0,776.2 L590.5,782.2 L591.0,779.6 L591.5,784.7 L592.0,781.0 L592.5,783.7 L593.0,785.5 L593.5,792.0 L594.0,795.9 L594.5,809.7 L595.0,812.2 L595.5,815.4 L596.0,811.3 L596.5,817.6 L597.0,810.1 L597.5,814.6 L598.0,808.0 L598.5,811.8 L599.0,810.9 L599.5,806.0 L600.0,793.4 L600.5,788.7 L601.0,777.6 L601.5,773.9 L602.0,762.8 L602.5,764.3 L603.0,761.3 L603.5,765.1 L604.0,761.2 L604.5,763.3 L605.0,757.9 L605.5,759.8 L606.0,757.2 L606.5,764.8 L607.0,770.1 L607.5,781.4 L608.0,787.6 L608.5,793.3 L609.0,788.2 L609.5,792.4 L610.0,786.1 L610.5,793.5 L611.0,790.1 L611.5,788.7 L612.0,779.3 L612.5,781.6 L613.0,774.3 L613.5,777.6 L614.0,770.7 L614.5,777.0 L615.0,774.9 L615.5,779.6 L616.0,774.7 L616.5,777.4 L617.0,773.4 L617.5,776.0 L618.0,772.4 L618.5,776.6 L619.0,772.1 L619.5,774.5 L620.0,773.2 L620.5,775.8 L621.0,771.3 L621.5,776.9 L622.0,773.6 L622.5,775.8 L623.0,776.3 L623.5,778.3 L624.0,775.6 L624.5,777.8 L625.0,777.6 L625.5,777.8 L626.0,774.7 L626.5,777.7 L627.0,775.1 L627.5,776.4 L628.0,770.1 L628.5,774.7 L629.0,772.8 L629.5,778.4 L630.0,774.3 L630.5,781.8 L631.0,776.6 L631.5,781.0 L632.0,779.5 L632.5,783.4 L633.0,781.2 L633.5,783.1 L634.0,779.2 L634.5,779.6 L635.0,777.4 L635.5,777.9 L636.0,776.0 L636.5,776.3 L637.0,775.5 L637.5,778.7 L638.0,772.0 L638.5,772.2 L639.0,771.6 L639.5,771.9 L640.0,766.2 L640.5,772.0 L641.0,768.7 L641.5,771.5 L642.0,771.4 L642.5,773.3 L643.0,772.9 L643.5,776.1 L644.0,773.4 L644.5,776.4 L645.0,775.5 L645.5,777.2 L646.0,771.9 L646.5,776.0 L647.0,771.9 L647.5,771.9 L648.0,767.2 L648.5,769.0 L649.0,766.6 L649.5,769.3 L650.0,765.1 L650.5,769.9 L651.0,766.5 L651.5,772.8 L652.0,768.8 L652.5,773.9 L653.0,774.6 L653.5,778.7 L654.0,776.1 L654.5,778.5 L655.0,777.8 L655.5,780.4 L656.0,778.2 L656.5,782.0 L657.0,779.1 L657.5,782.2 L658.0,781.3 L658.5,787.1 L659.0,784.1 L659.5,789.9 L660.0,787.7 L660.5,790.5 L661.0,791.6 L661.5,792.2 L662.0,791.5 L662.5,796.1 L663.0,794.7 L663.5,801.5 L664.0,799.0 L664.5,800.9 L665.0,795.4 L665.5,798.3 L666.0,793.1 L666.5,797.5 L667.0,791.0 L667.5,794.6 L668.0,788.5 L668.5,792.3 L669.0,791.1 L669.5,792.7 L670.0,792.7 L670.5,795.8 L671.0,793.5 L671.5,794.0 L672.0,792.9 L672.5,794.8 L673.0,791.3 L673.5,793.0 L674.0,787.6 L674.5,790.1 L675.0,787.7 L675.5,789.6 L676.0,788.7 L676.5,790.3 L677.0,788.1 L677.5,789.0 L678.0,789.3 L678.5,791.1 L679.0,788.0 L679.5,792.0 L680.0,787.5 L680.5,792.5 L681.0,789.2 L681.5,793.9 L682.0,788.2 L682.5,795.2 L683.0,786.2 L683.5,791.2 L684.0,786.7 L684.5,792.8 L685.0,786.8 L685.5,791.4 L686.0,785.2 L686.5,790.4 L687.0,781.0 L687.5,784.0 L688.0,779.0 L688.5,783.8 L689.0,782.9 L689.5,787.4 L690.0,785.3 L690.5,787.2 L691.0,786.8 L691.5,787.6 L692.0,783.8 L692.5,790.4 L693.0,786.4 L693.5,789.9 L694.0,784.1 L694.5,790.6 L695.0,785.8 L695.5,791.2 L696.0,785.6 L696.5,790.9 L697.0,786.0 L697.5,793.8 L698.0,790.5 L698.5,795.6 L699.0,791.0 L699.5,796.4 L700.0,791.2 L700.5,794.7 L701.0,789.0 L701.5,794.2 L702.0,792.9 L702.5,795.6 L703.0,795.6 L703.5,796.9 L704.0,796.2 L704.5,800.3 L705.0,797.1 L705.5,799.8 L706.0,799.4 L706.5,803.2 L707.0,802.8 L707.5,805.3 L708.0,802.9 L708.5,804.4 L709.0,803.8 L709.5,805.8 L710.0,804.0 L710.5,806.6 L711.0,806.3 L711.5,809.7 L712.0,806.8 L712.5,807.9 L713.0,807.4 L713.5,810.2 L714.0,807.1 L714.5,814.6 L715.0,811.3 L715.5,818.5 L716.0,817.4 L716.5,818.7 L717.0,817.6 L717.5,818.5 L718.0,816.8 L718.5,820.6 L719.0,816.1 L719.5,821.2 L720.0,815.9 L720.5,821.5 L721.0,815.6 L721.5,818.5 L722.0,813.5 L722.5,818.1 L723.0,819.0 L723.5,823.2 L724.0,821.3 L724.5,823.7 L725.0,821.8 L725.5,825.2 L726.0,823.4 L726.5,826.3 L727.0,819.2 L727.5,817.6 L728.0,814.4 L728.5,812.0 L729.0,805.3 L729.5,805.8 L730.0,796.6 L730.5,793.0 L731.0,785.7 L731.5,790.5 L732.0,784.8 L732.5,787.6 L733.0,785.1 L733.5,784.4 L734.0,782.9 L734.5,786.6 L735.0,785.5 L735.5,791.5 L736.0,788.2 L736.5,790.5 L737.0,788.5 L737.5,793.6 L738.0,792.8 L738.5,794.4 L739.0,793.3 L739.5,795.0 L740.0,793.2 L740.5,797.2 L741.0,795.2 L741.5,800.2 L742.0,796.0 L742.5,797.0 L743.0,790.9 L743.5,795.5 L744.0,791.4 L744.5,794.3 L745.0,789.4 L745.5,793.7 L746.0,787.2 L746.5,791.5 L747.0,786.1 L747.5,790.9 L748.0,784.4 L748.5,787.7 L749.0,785.3 L749.5,786.9 L750.0,782.5 L750.5,785.3 L751.0,781.7 L751.5,783.5 L752.0,780.6 L752.5,780.2 L753.0,777.6 L753.5,778.2 L754.0,776.2 L754.5,777.1 L755.0,774.3 L755.5,775.4 L756.0,773.4 L756.5,774.0 L757.0,772.0 L757.5,773.6 L758.0,769.2 L758.5,775.7 L759.0,772.7 L759.5,777.4 L760.0,777.5 L760.5,783.0 L761.0,781.4 L761.5,786.8 L762.0,785.5 L762.5,789.1 L763.0,786.6 L763.5,787.8 L764.0,786.5 L764.5,788.5 L765.0,782.9 L765.5,787.5 L766.0,784.0 L766.5,787.9 L767.0,784.9 L767.5,788.5 L768.0,786.3 L768.5,788.2 L769.0,787.2 L769.5,790.1 L770.0,789.1 L770.5,793.3 L771.0,792.0 L771.5,794.9 L772.0,791.0 L772.5,796.2 L773.0,792.0 L773.5,796.9 L774.0,795.2 L774.5,798.3 L775.0,793.3 L775.5,796.9 L776.0,793.4 L776.5,793.8 L777.0,792.9 L777.5,794.8 L778.0,789.8 L778.5,795.6 L779.0,791.9 L779.5,794.1 L780.0,791.5 L780.5,794.5 L781.0,792.4 L781.5,794.5 L782.0,794.7 L782.5,797.1 L783.0,797.4 L783.5,794.9 L784.0,792.5 L784.5,794.6 L785.0,790.4 L785.5,793.1 L786.0,788.7 L786.5,790.9 L787.0,787.7 L787.5,789.0 L788.0,786.5 L788.5,788.2 L789.0,787.2 L789.5,789.7 L790.0,786.3 L790.5,790.9 L791.0,784.3 L791.5,784.3 L792.0,781.1 L792.5,782.9 L793.0,781.2 L793.5,785.3 L794.0,779.8 L794.5,783.6 L795.0,780.0 L795.5,781.9 L796.0,780.9 L796.5,784.1 L797.0,780.5 L797.5,785.3 L798.0,782.4 L798.5,785.0 L799.0,778.6 L799.5,782.1 L800.0,775.4 L800.5,781.1 L801.0,774.9 L801.5,779.8 L802.0,773.9 L802.5,779.7 L803.0,775.3 L803.5,776.6 L804.0,772.6 L804.5,775.8 L805.0,771.1 L805.5,774.5 L806.0,769.2 L806.5,771.3 L807.0,769.0 L807.5,770.2 L808.0,769.2 L808.5,769.8 L809.0,766.7 L809.5,769.4 L810.0,767.0 L810.5,770.8 L811.0,768.4 L811.5,768.6 L812.0,769.4 L812.5,770.0 L813.0,764.0 L813.5,772.8 L814.0,767.6 L814.5,774.7 L815.0,768.4 L815.5,773.7 L816.0,769.8 L816.5,777.4 L817.0,776.5 L817.5,778.3 L818.0,775.8 L818.5,778.3 L819.0,778.9 L819.5,782.2 L820.0,779.9 L820.5,780.5 L821.0,778.4 L821.5,781.5 L822.0,779.6 L822.5,780.8 L823.0,777.9 L823.5,780.9 L824.0,779.5 L824.5,781.8 L825.0,778.0 L825.5,783.9 L826.0,776.9 L826.5,781.9 L827.0,777.1 L827.5,781.7 L828.0,780.9 L828.5,783.4 L829.0,777.7 L829.5,782.1 L830.0,776.3 L830.5,781.6 L831.0,777.5 L831.5,780.6 L832.0,777.1 L832.5,781.8 L833.0,778.5 L833.5,780.5 L834.0,773.8 L834.5,776.9 L835.0,772.0 L835.5,771.8 L836.0,769.0 L836.5,771.0 L837.0,768.1 L837.5,772.6 L838.0,771.6 L838.5,770.8 L839.0,770.4 L839.5,775.1 L840.0,776.2 L840.5,778.8 L841.0,777.9 L841.5,781.5 L842.0,781.2 L842.5,782.3 L843.0,779.9 L843.5,783.6 L844.0,782.6 L844.5,783.4 L845.0,778.4 L845.5,784.6 L846.0,778.1 L846.5,784.3 L847.0,778.9 L847.5,782.7 L848.0,780.9 L848.5,783.9 L849.0,780.4 L849.5,786.1 L850.0,781.9 L850.5,787.7 L851.0,784.1 L851.5,788.4 L852.0,785.4 L852.5,791.2 L853.0,788.7 L853.5,790.1 L854.0,787.7 L854.5,794.1 L855.0,790.4 L855.5,794.7 L856.0,793.1 L856.5,796.8 L857.0,792.6 L857.5,795.9 L858.0,789.4 L858.5,793.2 L859.0,787.4 L859.5,791.0 L860.0,781.9 L860.5,787.0 L861.0,781.2 L861.5,783.0 L862.0,778.4 L862.5,779.6 L863.0,775.7 L863.5,779.6 L864.0,773.3 L864.5,779.0 L865.0,777.4 L865.5,785.4 L866.0,780.8 L866.5,785.6 L867.0,781.9 L867.5,789.2 L868.0,788.4 L868.5,789.5 L869.0,783.6 L869.5,790.2 L870.0,783.1 L870.5,789.6 L871.0,783.7 L871.5,788.9 L872.0,780.0 L872.5,785.8 L873.0,780.4 L873.5,786.4 L874.0,786.5 L874.5,790.8 L875.0,790.4 L875.5,794.6 L876.0,790.0 L876.5,794.1 L877.0,795.3 L877.5,795.2 L878.0,794.8 L878.5,796.5 L879.0,794.1 L879.5,794.6 L880.0,794.0 L880.5,794.6 L881.0,794.9 L881.5,797.9 L882.0,797.2 L882.5,797.8 L883.0,790.2 L883.5,797.1 L884.0,789.8 L884.5,795.8 L885.0,790.5 L885.5,795.4 L886.0,790.5 L886.5,793.3 L887.0,789.3 L887.5,788.7 L888.0,785.8 L888.5,785.9 L889.0,785.1 L889.5,788.9 L890.0,784.5 L890.5,787.7 L891.0,782.8 L891.5,785.6 L892.0,785.4 L892.5,788.1 L893.0,784.3 L893.5,789.0 L894.0,783.0 L894.5,788.5 L895.0,784.2 L895.5,789.7 L896.0,786.9 L896.5,789.2 L897.0,785.7 L897.5,788.8 L898.0,784.4 L898.5,789.3 L899.0,784.9 L899.5,791.7 L900.0,786.4 L900.5,790.1 L901.0,786.8 L901.5,792.2 L902.0,787.0 L902.5,794.2 L903.0,789.3 L903.5,794.7 L904.0,789.6 L904.5,792.3 L905.0,790.6 L905.5,794.7 L906.0,793.3 L906.5,795.2 L907.0,791.3 L907.5,791.4 L908.0,791.2 L908.5,791.9 L909.0,790.7 L909.5,793.1 L910.0,789.5 L910.5,790.2 L911.0,788.6 L911.5,788.8 L912.0,787.5 L912.5,789.3 L913.0,786.0 L913.5,789.9 L914.0,788.0 L914.5,791.3 L915.0,789.8 L915.5,792.1 L916.0,788.6 L916.5,790.5 L917.0,789.1 L917.5,793.4 L918.0,790.9 L918.5,795.0 L919.0,795.1 L919.5,796.4 L920.0,796.1 L920.5,797.7 L921.0,798.4 L921.5,800.6 L922.0,798.3 L922.5,800.5 L923.0,801.0 L923.5,805.3 L924.0,805.6 L924.5,806.5 L925.0,805.7 L925.5,809.3 L926.0,805.9 L926.5,810.0 L927.0,806.1 L927.5,810.4 L928.0,806.7 L928.5,809.9 L929.0,805.5 L929.5,810.5 L930.0,806.7 L930.5,809.3 L931.0,802.5 L931.5,806.6 L932.0,800.8 L932.5,805.2 L933.0,798.8 L933.5,802.5 L934.0,797.2 L934.5,800.3 L935.0,794.7 L935.5,798.4 L936.0,794.0 L936.5,797.6 L937.0,793.2 L937.5,796.1 L938.0,791.9 L938.5,795.1 L939.0,792.9 L939.5,795.4 L940.0,792.9 L940.5,795.1 L941.0,792.9 L941.5,796.5 L942.0,794.1 L942.5,796.0 L943.0,793.7 L943.5,795.9 L944.0,792.3 L944.5,793.7 L945.0,793.6 L945.5,797.2 L946.0,795.6 L946.5,797.6 L947.0,796.7 L947.5,801.9 L948.0,796.7 L948.5,799.9 L949.0,797.5 L949.5,803.7 L950.0,801.0 L950.5,805.5 L951.0,800.9 L951.5,803.8 L952.0,801.9 L952.5,806.1 L953.0,801.3 L953.5,802.7 L954.0,801.4 L954.5,803.5 L955.0,803.5 L955.5,803.6 L956.0,802.7 L956.5,804.2 L957.0,802.2 L957.5,804.4 L958.0,801.4 L958.5,803.7 L959.0,802.9 L959.5,802.5 L960.0,802.4 L960.5,803.8 L961.0,802.2 L961.5,805.8 L962.0,801.0 L962.5,804.7 L963.0,800.8 L963.5,803.6 L964.0,803.0 L964.5,805.0 L965.0,802.0 L965.5,803.7 L966.0,803.0 L966.5,804.3 L967.0,803.1 L967.5,808.0 L968.0,803.3 L968.5,808.8 L969.0,803.9 L969.5,809.8 L970.0,806.7 L970.5,809.2 L971.0,804.3 L971.5,810.5 L972.0,806.5 L972.5,811.5 L973.0,808.6 L973.5,812.0 L974.0,808.0 L974.5,813.0 L975.0,809.2 L975.5,814.2 L976.0,810.3 L976.5,813.5 L977.0,811.1 L977.5,812.9 L978.0,810.7 L978.5,811.6 L979.0,811.3 L979.5,815.1 L980.0,812.4 L980.5,813.3 L981.0,811.8 L981.5,814.2 L982.0,812.5 L982.5,814.4 L983.0,811.7 L983.5,812.5 L984.0,811.5 L984.5,812.6 L985.0,810.0 L985.5,811.5 L986.0,810.8 L986.5,813.5 L987.0,809.4 L987.5,812.6 L988.0,808.5 L988.5,811.2 L989.0,810.3 L989.5,812.0 L990.0,811.4 L990.5,814.1 L991.0,811.7 L991.5,813.3 L992.0,811.5 L992.5,813.2 L993.0,811.2 L993.5,814.0 L994.0,811.6 L994.5,817.8 L995.0,812.3 L995.5,816.9 L996.0,811.7 L996.5,815.9 L997.0,814.1 L997.5,814.2 L998.0,813.4 L998.5,816.0 L999.0,814.1 L999.5,814.3 L1000.0,811.3 L1000.5,814.1 L1001.0,811.7 L1001.5,814.4 L1002.0,811.5 L1002.5,813.2 L1003.0,810.5 L1003.5,815.0 L1004.0,812.1 L1004.5,814.4 L1005.0,812.5 L1005.5,815.1 L1006.0,811.3 L1006.5,813.9 L1007.0,811.3 L1007.5,813.1 L1008.0,810.4 L1008.5,811.2 L1009.0,807.0 L1009.5,809.4 L1010.0,809.4 L1010.5,810.6 L1011.0,811.4 L1011.5,814.9 L1012.0,813.3 L1012.5,816.3 L1013.0,811.7 L1013.5,818.6 L1014.0,816.0 L1014.5,820.9 L1015.0,817.3 L1015.5,819.1 L1016.0,817.2 L1016.5,822.1 L1017.0,817.6 L1017.5,821.2 L1018.0,815.6 L1018.5,820.9 L1019.0,815.8 L1019.5,818.5 L1020.0,816.3 L1020.5,817.6 L1021.0,815.3 L1021.5,818.3 L1022.0,817.4 L1022.5,819.3 L1023.0,817.1 L1023.5,819.8 L1024.0,817.8 L1024.5,822.0 L1025.0,818.7 L1025.5,824.4 L1026.0,821.3 L1026.5,823.0 L1027.0,821.9 L1027.5,823.6 L1028.0,821.7 L1028.5,823.3 L1029.0,822.6 L1029.5,823.8 L1030.0,823.2 L1030.5,825.3 L1031.0,825.1 L1031.5,826.7 L1032.0,824.1 L1032.5,824.3 L1033.0,820.9 L1033.5,822.2 L1034.0,819.2 L1034.5,822.0 L1035.0,818.2 L1035.5,822.4 L1036.0,821.3 L1036.5,822.9 L1037.0,820.8 L1037.5,822.3 L1038.0,821.3 L1038.5,823.5 L1039.0,823.2 L1039.5,824.5 L1040.0,823.8 L1040.5,824.6 L1041.0,821.8 L1041.5,822.5 L1042.0,821.3 L1042.5,823.4 L1043.0,821.7 L1043.5,824.1 L1044.0,821.2 L1044.5,823.7 L1045.0,821.5 L1045.5,823.7 L1046.0,821.9 L1046.5,823.4 L1047.0,821.5 L1047.5,823.7 L1048.0,822.1 L1048.5,825.2 L1049.0,822.4 L1049.5,824.7 L1050.0,822.7 L1050.5,826.7 L1051.0,823.1 L1051.5,825.5 L1052.0,823.5 L1052.5,825.2 L1053.0,825.0 L1053.5,826.2 L1054.0,823.9 L1054.5,827.6 L1055.0,825.5 L1055.5,825.2 L1056.0,825.0 L1056.5,827.6 L1057.0,826.0 L1057.5,827.5 L1058.0,825.6 L1058.5,829.8 L1059.0,825.1 L1059.5,829.0 L1060.0,825.4 L1060.5,827.7 L1061.0,827.8 L1061.5,829.1 L1062.0,827.6 L1062.5,831.1 L1063.0,829.0 L1063.5,829.7 L1064.0,826.5 L1064.5,828.8 L1065.0,823.7 L1065.5,829.4 L1066.0,826.8 L1066.5,829.9 L1067.0,828.7 L1067.5,830.7 L1068.0,829.7 L1068.5,831.2 L1069.0,829.7 L1069.5,831.5 L1070.0,830.8 L1070.5,832.6 L1071.0,833.1 L1071.5,835.4 L1072.0,835.0 L1072.5,836.9 L1073.0,835.5 L1073.5,838.6 L1074.0,837.6 L1074.5,839.0 L1075.0,837.8 L1075.5,838.8 L1076.0,837.1 L1076.5,839.9 L1077.0,838.7 L1077.5,840.5 L1078.0,836.9 L1078.5,838.3 L1079.0,837.6 L1079.5,840.1 L1080.0,839.7 L1080.5,842.0 L1081.0,840.7 L1081.5,842.4 L1082.0,841.6 L1082.5,842.8 L1083.0,842.5 L1083.5,844.3 L1084.0,842.0 L1084.5,843.1 L1085.0,842.1 L1085.5,845.6 L1086.0,843.4 L1086.5,847.4 L1087.0,842.5 L1087.5,847.7 L1088.0,844.7 L1088.5,846.2 L1089.0,843.1 L1089.5,844.5 L1090.0,841.4 L1090.5,843.7 L1091.0,841.7 L1091.5,845.9 L1092.0,840.6 L1092.5,844.0 L1093.0,839.6 L1093.5,842.9 L1094.0,838.7 L1094.5,841.9 L1095.0,836.7 L1095.5,842.9 L1096.0,837.3 L1096.5,841.3 L1097.0,836.0 L1097.5,837.2 L1098.0,835.5 L1098.5,837.7 L1099.0,838.0 L1099.5,838.6 L1100.0,837.6 L1100.5,838.8 L1101.0,837.6 L1101.5,839.6 L1102.0,837.0 L1102.5,839.4 L1103.0,837.9 L1103.5,839.1 L1104.0,839.4 L1104.5,842.3 L1105.0,837.9 L1105.5,840.2 L1106.0,838.3 L1106.5,840.8 L1107.0,837.5 L1107.5,840.1 L1108.0,836.8 L1108.5,840.0 L1109.0,836.9 L1109.5,838.2 L1110.0,834.8 L1110.5,838.9 L1111.0,836.6 L1111.5,838.3 L1112.0,837.2 L1112.5,838.6 L1113.0,834.8 L1113.5,839.2 L1114.0,837.7 L1114.5,839.8 L1115.0,836.8 L1115.5,838.8 L1116.0,837.7 L1116.5,838.9 L1117.0,837.2 L1117.5,839.4 L1118.0,837.3 L1118.5,840.8 L1119.0,837.3 L1119.5,841.5 L1120.0,838.9 L1120.5,842.5 L1121.0,839.0 L1121.5,841.5 L1122.0,837.4 L1122.5,841.1 L1123.0,837.4 L1123.5,838.9 L1124.0,837.6 L1124.5,838.8 L1125.0,839.3 L1125.5,839.1 L1126.0,837.0 L1126.5,837.9 L1127.0,835.9 L1127.5,838.9 L1128.0,836.3 L1128.5,836.2 L1129.0,836.0 L1129.5,838.7 L1130.0,836.0 L1130.5,839.6 L1131.0,837.6 L1131.5,838.9 L1132.0,837.6 L1132.5,838.3 L1133.0,835.8 L1133.5,837.1 L1134.0,834.1 L1134.5,834.5 L1135.0,833.2 L1135.5,835.1 L1136.0,832.9 L1136.5,835.3 L1137.0,834.8 L1137.5,836.9 L1138.0,833.8 L1138.5,837.0 L1139.0,833.8 L1139.5,836.4 L1140.0,835.5 L1140.5,836.5 L1141.0,833.8 L1141.5,836.0 L1142.0,833.8 L1142.5,837.3 L1143.0,835.8 L1143.5,835.3 L1144.0,834.9 L1144.5,838.0 L1145.0,835.1 L1145.5,839.0 L1146.0,836.4 L1146.5,836.2 L1147.0,835.8 L1147.5,837.7 L1148.0,835.7 L1148.5,837.7 L1149.0,837.3 L1149.5,836.8 L1150.0,835.3 L1150.5,838.8 L1151.0,833.8 L1151.5,837.4 L1152.0,833.4 L1152.5,838.0 L1153.0,835.8 L1153.5,838.3 L1154.0,837.6 L1154.5,838.9 L1155.0,836.5 L1155.5,837.4 L1156.0,838.4 L1156.5,839.8 L1157.0,837.5 L1157.5,840.6 L1158.0,838.8 L1158.5,842.7 L1159.0,839.6 L1159.5,841.4 L1160.0,839.2 L1160.5,841.1 L1161.0,839.4 L1161.5,842.3 L1162.0,841.0 L1162.5,843.6 L1163.0,841.9 L1163.5,845.1 L1164.0,841.6 L1164.5,843.4 L1165.0,840.9 L1165.5,844.5 L1166.0,841.2 L1166.5,844.3 L1167.0,840.5 L1167.5,845.1 L1168.0,841.0 L1168.5,846.2 L1169.0,841.6 L1169.5,846.7 L1170.0,842.4 L1170.5,847.6 L1171.0,843.7 L1171.5,848.5 L1172.0,847.0 L1172.5,847.5 L1173.0,845.2 L1173.5,845.4 L1174.0,844.3 L1174.5,846.1 L1175.0,842.5 L1175.5,846.7 L1176.0,842.0 L1176.5,845.4 L1177.0,843.5 L1177.5,845.1 L1178.0,843.5 L1178.5,845.1 L1179.0,841.9 L1179.5,844.5 L1180.0,841.7 L1180.5,845.3 L1181.0,843.0 L1181.5,844.8 L1182.0,840.5 L1182.5,844.8 L1183.0,842.9 L1183.5,843.7 L1184.0,841.1 L1184.5,844.3 L1185.0,840.2 L1185.5,842.8 L1186.0,842.2 L1186.5,846.2 L1187.0,845.3 L1187.5,846.0 L1188.0,842.0" fill="none" stroke="#b9cfec" stroke-width="4.4" stroke-linejoin="round" stroke-linecap="round"/>
<path d="M76.0,548.5 L76.5,541.6 L77.0,536.5 L77.5,528.5 L78.0,526.5 L78.5,518.0 L79.0,515.8 L79.5,509.8 L80.0,505.2 L80.5,494.3 L81.0,492.5 L81.5,480.4 L82.0,476.8 L82.5,478.8 L83.0,486.0 L83.5,489.5 L84.0,496.7 L84.5,500.4 L85.0,508.7 L85.5,509.7 L86.0,520.9 L86.5,525.8 L87.0,536.5 L87.5,535.7 L88.0,541.3 L88.5,541.0 L89.0,545.6 L89.5,545.2 L90.0,549.6 L90.5,549.4 L91.0,552.8 L91.5,549.2 L92.0,548.4 L92.5,543.0 L93.0,539.4 L93.5,535.9 L94.0,535.0 L94.5,529.0 L95.0,527.6 L95.5,518.0 L96.0,521.9 L96.5,513.5 L97.0,517.3 L97.5,513.2 L98.0,515.1 L98.5,513.4 L99.0,517.1 L99.5,512.5 L100.0,514.9 L100.5,510.8 L101.0,512.8 L101.5,510.1 L102.0,510.5 L102.5,507.4 L103.0,507.0 L103.5,502.5 L104.0,507.4 L104.5,501.7 L105.0,499.2 L105.5,490.7 L106.0,491.0 L106.5,479.2 L107.0,475.6 L107.5,471.1 L108.0,474.7 L108.5,467.2 L109.0,472.6 L109.5,464.3 L110.0,464.6 L110.0,450.4 L110.5,453.7 L111.0,444.7 L111.5,449.4 L112.0,444.2 L112.5,447.0 L113.0,441.0 L113.5,443.8 L114.0,438.4 L114.5,441.1 L115.0,439.2 L115.5,444.9 L116.0,439.6 L116.5,446.1 L117.0,440.8 L117.5,447.2 L118.0,444.4 L118.5,446.4 L119.0,437.4 L119.5,442.9 L120.0,436.6 L120.4,441.1 L120.9,433.0 L121.4,437.6 L121.9,431.5 L122.4,437.6 L122.9,432.8 L123.4,442.8 L124.0,442.1 L124.5,449.5 L125.0,452.8 L125.5,456.0 L126.0,451.6 L126.5,458.8 L127.0,454.1 L127.5,460.9 L128.0,456.8 L128.5,464.4 L129.0,462.1 L129.5,472.1 L130.0,474.4 L130.5,478.2 L131.0,474.6 L131.5,478.1 L132.0,476.9 L132.5,480.0 L133.0,479.7 L133.5,481.7 L134.0,479.5 L134.5,481.0 L135.0,476.8 L135.5,486.9 L136.0,485.9 L136.5,495.9 L137.0,494.4 L137.5,502.2 L138.0,498.0 L138.5,501.4 L139.0,498.4 L139.5,504.8 L140.0,500.9 L140.5,505.1 L141.0,499.7 L141.5,504.4 L142.0,500.4 L142.5,501.9 L143.0,493.3 L143.5,493.7 L144.0,488.9 L144.5,491.9 L145.0,489.4 L145.5,497.3 L146.0,493.3 L146.5,499.1 L147.0,495.9 L147.5,496.5 L148.0,496.9 L148.5,507.1 L149.0,514.7 L149.5,515.0 L150.0,514.8 L150.5,517.8 L151.0,514.3 L151.5,524.0 L152.0,520.4 L152.5,526.0 L153.0,524.7 L153.5,531.4 L154.0,529.4 L154.5,533.7 L155.0,531.9 L155.5,535.7 L156.0,535.6 L156.5,538.1 L157.0,538.2 L157.5,543.3 L158.0,542.5 L158.5,546.4 L159.0,543.1 L159.5,549.9 L160.0,550.8 L160.5,557.2 L161.0,554.7 L161.5,565.0 L162.0,560.4 L162.5,567.6 L163.0,563.1 L163.5,568.2 L164.0,564.9 L164.5,567.4 L165.0,563.0 L165.5,569.3 L166.0,560.4 L166.5,560.4 L167.0,555.0 L167.5,556.4 L168.0,553.0 L168.5,554.2 L169.0,553.6 L169.5,548.1 L170.0,540.4 L170.5,538.8 L171.0,533.5 L171.5,533.7 L172.0,530.8 L172.5,535.1 L173.0,528.9 L173.5,532.3 L174.0,527.1 L174.5,531.6 L175.0,526.5 L175.5,531.7 L176.0,523.6 L176.5,529.9 L177.0,521.7 L177.5,527.5 L178.0,520.1 L178.5,523.3 L179.0,519.6 L179.5,522.2 L180.0,518.3 L180.5,525.2 L181.0,522.9 L181.5,524.9 L182.0,520.8 L182.5,525.6 L183.0,527.4 L183.5,526.5 L184.0,523.2 L184.5,527.0 L185.0,524.2 L185.5,526.3 L186.0,522.0 L186.5,524.0 L187.0,523.8 L187.5,526.6 L188.0,522.9 L188.5,529.1 L189.0,526.7 L189.5,531.8 L190.0,533.0 L190.5,533.8 L191.0,535.6 L191.5,537.5 L192.0,536.6 L192.5,540.1 L193.0,538.7 L193.5,539.9 L194.0,535.3 L194.5,537.3 L195.0,534.6 L195.5,534.5 L196.0,530.7 L196.5,533.6 L197.0,531.2 L197.5,532.0 L198.0,529.4 L198.5,533.2 L199.0,531.8 L199.5,536.4 L200.0,533.0 L200.5,534.8 L201.0,531.7 L201.5,534.3 L202.0,532.3 L202.5,535.2 L203.0,530.7 L203.5,540.4 L204.0,536.9 L204.5,542.4 L205.0,540.7 L205.5,547.4 L206.0,542.6 L206.5,550.4 L207.0,548.5 L207.5,552.5 L208.0,549.6 L208.5,556.8 L209.0,550.6 L209.5,559.8 L210.0,556.3 L210.5,562.8 L211.0,561.1 L211.5,570.2 L212.0,568.9 L212.5,573.7 L213.0,570.7 L213.5,575.8 L214.0,574.1 L214.5,578.2 L215.0,577.6 L215.5,575.8 L216.0,570.4 L216.5,570.7 L217.0,563.8 L217.5,563.4 L218.0,555.0 L218.5,553.2 L219.0,547.2 L219.5,556.8 L220.0,559.0 L220.5,569.3 L221.0,568.9 L221.5,572.1 L222.0,569.4 L222.5,574.6 L223.0,570.9 L223.5,572.9 L224.0,572.7 L224.5,573.8 L225.0,572.6 L225.5,575.7 L226.0,573.2 L226.5,578.4 L227.0,577.7 L227.5,582.5 L228.0,581.4 L228.5,587.3 L229.0,583.6 L229.5,591.7 L230.0,588.6 L230.5,594.2 L231.0,590.5 L231.5,595.9 L232.0,593.9 L232.5,597.5 L233.0,597.6 L233.5,600.4 L234.0,601.0 L234.5,597.8 L235.0,593.0 L235.5,592.3 L236.0,587.4 L236.5,593.2 L237.0,592.3 L237.5,597.4 L238.0,596.7 L238.5,601.3 L239.0,599.1 L239.5,606.9 L240.0,604.6 L240.5,606.6 L241.0,600.9 L241.5,605.3 L242.0,600.3 L242.5,605.7 L243.0,600.4 L243.5,606.4 L244.0,602.6 L244.5,607.5 L245.0,606.2 L245.5,612.5 L246.0,612.7 L246.5,620.0 L247.0,619.6 L247.5,635.2 L248.0,644.6 L248.5,649.8 L249.0,641.5 L249.5,644.5 L250.0,636.1 L250.5,637.1 L251.0,631.7 L251.5,631.4 L252.0,627.1 L252.5,627.7 L253.0,622.6 L253.5,620.3 L254.0,616.5 L254.5,618.8 L255.0,615.1 L255.5,621.8 L256.0,622.9 L256.5,628.4 L257.0,627.9 L257.5,635.0 L258.0,635.4 L258.5,635.7 L259.0,631.3 L259.5,633.0 L260.0,626.6 L260.5,630.3 L261.0,625.4 L261.5,625.3 L262.0,619.5 L262.5,619.7 L263.0,615.2 L263.5,613.9 L264.0,608.1 L264.5,607.6 L265.0,603.6 L265.5,607.2 L266.0,604.5 L266.5,608.6 L267.0,607.1 L267.5,613.0 L268.0,609.8 L268.5,615.1 L269.0,613.4 L269.5,614.8 L270.0,612.8 L270.5,613.3 L271.0,611.6 L271.5,616.5 L272.0,612.4 L272.5,614.8 L273.0,613.4 L273.5,615.0 L274.0,612.0 L274.5,615.6 L275.0,615.2 L275.5,617.6 L276.0,619.6 L276.5,624.8 L277.0,624.5 L277.5,632.4 L278.0,631.6 L278.5,635.9 L279.0,635.7 L279.5,632.9 L280.0,628.9 L280.5,628.5 L281.0,622.4 L281.5,620.8 L282.0,615.2 L282.5,615.4 L283.0,612.0 L283.5,613.0 L284.0,607.9 L284.5,611.4 L285.0,607.4 L285.5,609.4 L286.0,608.6 L286.5,606.2 L287.0,597.0 L287.5,597.4 L288.0,586.2 L288.5,587.1 L289.0,577.9 L289.5,578.5 L290.0,570.7 L290.5,568.7 L291.0,563.0 L291.5,582.5 L292.0,599.3 L292.5,601.6 L293.0,600.2 L293.5,602.3 L294.0,601.2 L294.5,603.3 L295.0,603.5 L295.5,605.2 L296.0,605.7 L296.5,602.0 L297.0,599.0 L297.5,597.9 L298.0,593.6 L298.5,595.5 L299.0,593.4 L299.5,597.4 L300.0,595.7 L300.5,602.3 L301.0,602.1 L301.5,608.1 L302.0,608.6 L302.5,608.7 L303.0,603.8 L303.5,606.5 L304.0,602.4 L304.5,605.0 L305.0,601.9 L305.5,599.9 L306.0,596.5 L306.5,599.2 L307.0,597.7 L307.5,597.8 L308.0,594.9 L308.5,594.9 L309.0,592.4 L309.5,592.8 L310.0,589.6 L310.5,590.7 L311.0,588.6 L311.5,589.4 L312.0,587.9 L312.5,590.3 L313.0,587.6 L313.5,587.6 L314.0,584.2 L314.5,589.5 L315.0,584.7 L315.5,591.9 L316.0,590.6 L316.5,595.6 L317.0,595.5 L317.5,598.3 L318.0,600.1 L318.5,601.6 L319.0,601.0 L319.5,604.6 L320.0,605.3 L320.5,603.9 L321.0,600.7 L321.5,600.8 L322.0,599.0 L322.5,599.7 L323.0,596.5 L323.5,597.9 L324.0,595.7 L324.5,594.6 L325.0,591.7 L325.5,591.8 L326.0,590.0 L326.5,590.1 L327.0,586.6 L327.5,586.5 L328.0,584.0 L328.5,584.4 L329.0,579.9 L329.5,580.8 L330.0,579.6 L330.5,580.5 L331.0,578.9 L331.5,582.7 L332.0,578.9 L332.5,582.7 L333.0,577.7 L333.5,584.2 L334.0,580.9 L334.5,584.5 L335.0,581.0 L335.5,583.8 L336.0,581.5 L336.5,584.8 L337.0,581.6 L337.5,585.3 L338.0,584.3 L338.5,590.1 L339.0,589.4 L339.5,591.6 L340.0,592.8 L340.5,589.7 L341.0,584.4 L341.5,584.7 L342.0,580.0 L342.5,580.2 L343.0,579.7 L343.5,579.7 L344.0,577.2 L344.5,579.0 L345.0,575.2 L345.5,580.1 L346.0,574.9 L346.5,576.7 L347.0,573.0 L347.5,574.5 L348.0,569.6 L348.5,571.3 L349.0,567.2 L349.5,568.2 L350.0,562.5 L350.5,564.8 L351.0,558.1 L351.5,561.6 L352.0,556.9 L352.5,555.7 L353.0,546.9 L353.5,547.4 L354.0,536.0 L354.5,535.0 L355.0,526.8 L355.5,524.7 L356.0,513.7 L356.5,511.1 L357.0,505.3 L357.5,505.3 L358.0,504.4 L358.5,508.2 L359.0,507.2 L359.5,510.3 L360.0,510.1 L360.5,512.3 L361.0,510.8 L361.5,514.5 L362.0,513.3 L362.5,518.3 L363.0,514.3 L363.5,521.2 L364.0,517.9 L364.5,526.2 L365.0,520.5 L365.5,527.7 L366.0,519.9 L366.5,523.2 L367.0,519.9 L367.5,525.5 L368.0,517.3 L368.5,523.0 L369.0,514.7 L369.5,520.7 L370.0,514.4 L370.5,514.1 L371.0,506.7 L371.5,508.3 L372.0,504.2 L372.5,503.4 L373.0,499.5 L373.5,500.2 L374.0,499.5 L374.5,506.2 L375.0,501.4 L375.5,507.7 L376.0,500.9 L376.5,505.1 L377.0,503.1 L377.5,507.1 L378.0,504.4 L378.5,509.5 L379.0,507.4 L379.5,509.5 L380.0,509.1 L380.5,511.4 L381.0,512.2 L381.5,518.1 L382.0,518.7 L382.5,521.0 L383.0,518.5 L383.5,524.2 L384.0,519.2 L384.5,526.8 L385.0,523.5 L385.5,532.6 L386.0,526.1 L386.5,535.2 L387.0,530.4 L387.5,534.9 L388.0,529.0 L388.5,534.9 L389.0,528.7 L389.5,532.1 L390.0,526.3 L390.5,529.8 L391.0,525.3 L391.5,528.6 L392.0,524.1 L392.5,528.1 L393.0,524.7 L393.5,524.4 L394.0,519.1 L394.5,520.4 L395.0,518.6 L395.5,521.7 L396.0,516.4 L396.5,524.4 L397.0,519.5 L397.5,527.2 L398.0,522.6 L398.5,531.3 L399.0,525.6 L399.5,534.7 L400.0,528.1 L400.5,534.9 L401.0,531.6 L401.5,537.6 L402.0,528.7 L402.5,534.9 L403.0,529.2 L403.5,536.5 L404.0,528.0 L404.5,532.4 L405.0,525.6 L405.5,532.7 L406.0,528.1 L406.5,535.2 L407.0,528.6 L407.5,534.2 L408.0,536.5 L408.5,539.7 L409.0,538.2 L409.5,540.5 L410.0,543.6 L410.5,543.0 L411.0,542.1 L411.5,547.7 L412.0,545.9 L412.5,548.8 L413.0,546.1 L413.5,547.4 L414.0,545.3 L414.5,545.1 L415.0,541.8 L415.5,543.2 L416.0,539.2 L416.5,539.5 L417.0,537.9 L417.5,541.6 L418.0,539.2 L418.5,536.9 L419.0,534.4 L419.5,535.1 L420.0,534.5 L420.5,535.8 L421.0,534.1 L421.5,538.0 L422.0,535.6 L422.5,538.2 L423.0,539.0 L423.5,541.9 L424.0,543.4 L424.5,546.6 L425.0,546.4 L425.5,553.9 L426.0,548.3 L426.5,559.9 L427.0,557.9 L427.5,562.4 L428.0,562.5 L428.5,566.4 L429.0,564.7 L429.5,568.3 L430.0,565.5 L430.5,568.6 L431.0,566.9 L431.5,569.0 L432.0,569.4 L432.5,572.6 L433.0,572.5 L433.5,575.1 L434.0,575.6 L434.5,576.1 L435.0,575.3 L435.5,577.5 L436.0,579.1 L436.5,581.4 L437.0,579.9 L437.5,582.9 L438.0,582.2 L438.5,584.1 L439.0,583.3 L439.5,591.2 L440.0,588.8 L440.5,592.7 L441.0,588.0 L441.5,594.2 L442.0,584.3 L442.5,587.0 L443.0,580.8 L443.5,587.9 L444.0,582.5 L444.5,584.6 L445.0,583.3 L445.5,589.9 L446.0,586.1 L446.5,590.4 L447.0,586.1 L447.5,593.5 L448.0,591.5 L448.5,596.9 L449.0,597.0 L449.5,601.4 L450.0,599.1 L450.5,599.9 L451.0,598.7 L451.5,603.2 L452.0,600.9 L452.5,608.8 L453.0,604.9 L453.5,613.6 L454.0,608.9 L454.5,613.3 L455.0,611.0 L455.5,616.7 L456.0,612.6 L456.5,621.4 L457.0,619.2 L457.5,623.4 L458.0,618.8 L458.5,626.4 L459.0,621.0 L459.5,624.3 L460.0,622.0 L460.5,627.2 L461.0,623.8 L461.5,627.9 L462.0,624.7 L462.5,628.3 L463.0,624.6 L463.5,629.5 L464.0,624.9 L464.5,628.2 L465.0,622.1 L465.5,626.6 L466.0,618.0 L466.5,620.5 L467.0,610.8 L467.5,616.7 L468.0,610.8 L468.5,607.7 L469.0,600.6 L469.5,602.0 L470.0,596.4 L470.5,596.9 L471.0,587.4 L471.5,588.3 L472.0,582.5 L472.5,582.5 L473.0,576.3 L473.5,578.7 L474.0,577.2 L474.5,577.3 L475.0,571.8 L475.5,572.2 L476.0,567.3 L476.5,574.1 L477.0,573.9 L477.5,577.7 L478.0,578.9 L478.5,583.7 L479.0,587.1 L479.5,585.3 L480.0,578.3 L480.5,578.9 L481.0,568.5 L481.5,571.8 L482.0,560.7 L482.5,564.6 L483.0,560.4 L483.5,560.0 L484.0,556.5 L484.5,556.7 L485.0,549.3 L485.5,553.6 L486.0,551.0 L486.5,558.6 L487.0,557.6 L487.5,561.1 L488.0,560.6 L488.5,565.0 L489.0,566.6 L489.5,565.2 L490.0,561.6 L490.5,563.3 L491.0,560.5 L491.5,562.7 L492.0,557.7 L492.5,559.2 L493.0,559.1 L493.5,560.6 L494.0,560.5 L494.5,567.0 L495.0,566.5 L495.5,570.7 L496.0,569.3 L496.5,572.3 L497.0,573.3 L497.5,575.6 L498.0,573.6 L498.5,579.0 L499.0,578.2 L499.5,581.2 L500.0,576.8 L500.5,583.0 L501.0,581.8 L501.5,585.1 L502.0,583.1 L502.5,585.5 L503.0,584.4 L503.5,588.1 L504.0,587.6 L504.5,585.8 L505.0,585.1 L505.5,587.6 L506.0,585.9 L506.5,591.6 L507.0,591.4 L507.5,593.6 L508.0,591.6 L508.5,593.9 L509.0,591.7 L509.5,595.9 L510.0,594.1 L510.5,598.2 L511.0,598.3 L511.5,601.0 L512.0,596.7 L512.5,602.8 L513.0,600.7 L513.5,604.3 L514.0,601.6 L514.5,607.8 L515.0,603.9 L515.5,611.4 L516.0,606.4 L516.5,613.3 L517.0,609.3 L517.5,615.5 L518.0,612.7 L518.5,618.4 L519.0,615.7 L519.5,622.1 L520.0,621.1 L520.5,620.6 L521.0,614.2 L521.5,614.7 L522.0,606.5 L522.5,606.3 L523.0,600.8 L523.5,604.8 L524.0,601.4 L524.5,603.7 L525.0,598.9 L525.5,601.6 L526.0,599.5 L526.5,601.3 L527.0,597.4 L527.5,599.7 L528.0,596.7 L528.5,597.2 L529.0,595.1 L529.5,597.1 L530.0,595.7 L530.5,596.2 L531.0,592.8 L531.5,596.6 L532.0,593.5 L532.5,598.2 L533.0,597.7 L533.5,603.7 L534.0,599.6 L534.5,604.9 L535.0,601.9 L535.5,603.6 L536.0,601.5 L536.5,606.8 L537.0,605.5 L537.5,611.3 L538.0,608.4 L538.5,615.3 L539.0,610.0 L539.5,617.0 L540.0,612.3 L540.5,618.9 L541.0,614.4 L541.5,621.4 L542.0,617.8 L542.5,623.5 L543.0,619.5 L543.5,627.3 L544.0,622.3 L544.5,627.5 L545.0,623.6 L545.5,629.8 L546.0,624.5 L546.5,628.3 L547.0,628.1 L547.5,631.1 L548.0,627.1 L548.5,631.0 L549.0,623.0 L549.5,626.3 L550.0,620.7 L550.5,623.7 L551.0,617.8 L551.5,622.8 L552.0,619.1 L552.5,619.8 L553.0,617.6 L553.5,618.2 L554.0,616.1 L554.5,620.6 L555.0,613.5 L555.5,621.0 L556.0,616.9 L556.5,622.5 L557.0,617.1 L557.5,624.1 L558.0,618.5 L558.5,625.9 L559.0,624.4 L559.5,630.9 L560.0,626.3 L560.5,629.3 L561.0,625.3 L561.5,627.9 L562.0,624.5 L562.5,630.4 L563.0,628.8 L563.5,631.2 L564.0,627.2 L564.5,631.5 L565.0,630.2 L565.5,634.0 L566.0,630.2 L566.5,633.5 L567.0,632.8 L567.5,633.6 L568.0,632.2 L568.5,632.6 L569.0,632.0 L569.5,634.2 L570.0,632.7 L570.5,636.7 L571.0,634.0 L571.5,643.4 L572.0,638.4 L572.5,643.4 L573.0,641.4 L573.5,645.8 L574.0,639.4 L574.5,647.4 L575.0,644.7 L575.5,649.3 L576.0,649.3 L576.5,650.5 L577.0,650.1 L577.5,653.9 L578.0,652.3 L578.5,654.4 L579.0,651.4 L579.5,658.8 L580.0,653.4 L580.5,658.1 L581.0,655.1 L581.5,657.7 L582.0,655.1 L582.5,656.6 L583.0,654.9 L583.5,661.3 L584.0,657.3 L584.5,661.5 L585.0,658.3 L585.5,662.3 L586.0,661.4 L586.5,665.7 L587.0,665.7 L587.5,666.6 L588.0,665.9 L588.5,670.9 L589.0,669.2 L589.5,673.2 L590.0,670.8 L590.5,677.8 L591.0,676.0 L591.5,680.1 L592.0,678.7 L592.5,685.7 L593.0,683.6 L593.5,687.0 L594.0,687.9 L594.5,692.6 L595.0,693.1 L595.5,695.4 L596.0,691.5 L596.5,695.8 L597.0,693.4 L597.5,695.7 L598.0,696.2 L598.5,695.8 L599.0,693.6 L599.5,697.1 L600.0,697.3 L600.5,697.9 L601.0,696.2 L601.5,702.4 L602.0,699.3 L602.5,703.8 L603.0,699.2 L603.5,707.6 L604.0,702.6 L604.5,707.0 L605.0,702.3 L605.5,703.8 L606.0,699.7 L606.5,701.9 L607.0,699.0 L607.5,699.0 L608.0,696.3 L608.5,701.7 L609.0,694.2 L609.5,698.9 L610.0,691.5 L610.5,694.0 L611.0,688.4 L611.5,693.2 L612.0,684.3 L612.5,688.3 L613.0,681.9 L613.5,688.8 L614.0,681.5 L614.5,685.1 L615.0,675.7 L615.5,677.6 L616.0,672.8 L616.5,675.3 L617.0,668.8 L617.5,671.1 L618.0,666.3 L618.5,667.4 L619.0,662.0 L619.5,663.8 L620.0,656.3 L620.5,659.1 L621.0,656.1 L621.5,657.7 L622.0,654.7 L622.5,657.4 L623.0,652.9 L623.5,655.0 L624.0,651.3 L624.5,654.1 L625.0,648.7 L625.5,654.1 L626.0,650.7 L626.5,654.5 L627.0,650.9 L627.5,656.9 L628.0,652.3 L628.5,654.2 L629.0,645.6 L629.5,644.1 L630.0,638.3 L630.5,636.5 L631.0,631.1 L631.5,633.6 L632.0,631.3 L632.5,635.0 L633.0,632.9 L633.5,638.1 L634.0,634.2 L634.5,640.2 L635.0,639.5 L635.5,638.8 L636.0,636.9 L636.5,638.0 L637.0,635.4 L637.5,636.9 L638.0,634.1 L638.5,636.2 L639.0,635.6 L639.5,634.2 L640.0,636.3 L640.5,639.9 L641.0,640.8 L641.5,644.9 L642.0,648.6 L642.5,649.7 L643.0,644.8 L643.5,651.9 L644.0,645.6 L644.5,648.2 L645.0,646.1 L645.5,648.9 L646.0,646.5 L646.5,648.8 L647.0,645.3 L647.5,649.8 L648.0,644.9 L648.5,650.2 L649.0,642.4 L649.5,646.7 L650.0,643.7 L650.5,646.9 L651.0,641.4 L651.5,644.6 L652.0,642.3 L652.5,644.8 L653.0,645.9 L653.5,647.6 L654.0,648.0 L654.5,650.7 L655.0,650.9 L655.5,654.2 L656.0,652.6 L656.5,653.5 L657.0,652.6 L657.5,655.6 L658.0,652.1 L658.5,657.8 L659.0,659.7 L659.5,661.0 L660.0,658.2 L660.5,661.8 L661.0,661.5 L661.5,666.5 L662.0,663.4 L662.5,667.8 L663.0,667.5 L663.5,666.0 L664.0,659.3 L664.5,661.6 L665.0,656.3 L665.5,657.4 L666.0,652.4 L666.5,651.9 L667.0,647.6 L667.5,649.3 L668.0,645.0 L668.5,650.0 L669.0,646.7 L669.5,652.0 L670.0,650.1 L670.5,654.3 L671.0,653.5 L671.5,656.1 L672.0,655.0 L672.5,657.1 L673.0,654.3 L673.5,659.3 L674.0,655.9 L674.5,660.3 L675.0,656.7 L675.5,662.6 L676.0,661.9 L676.5,666.5 L677.0,668.2 L677.5,672.5 L678.0,672.7 L678.5,676.9 L679.0,679.3 L679.5,680.2 L680.0,673.9 L680.5,675.9 L681.0,674.5 L681.5,677.2 L682.0,673.2 L682.5,675.7 L683.0,672.2 L683.5,673.8 L684.0,671.6 L684.5,670.3 L685.0,665.0 L685.5,664.4 L686.0,657.8 L686.5,658.7 L687.0,655.0 L687.5,655.5 L688.0,651.0 L688.5,652.9 L689.0,649.0 L689.5,651.0 L690.0,645.9 L690.5,648.7 L691.0,641.8 L691.5,645.5 L692.0,643.0 L692.5,644.7 L693.0,640.5 L693.5,644.1 L694.0,641.1 L694.5,645.0 L695.0,642.3 L695.5,647.5 L696.0,644.9 L696.5,648.9 L697.0,648.2 L697.5,654.4 L698.0,651.6 L698.5,659.5 L699.0,659.3 L699.5,663.7 L700.0,661.4 L700.5,667.4 L701.0,664.1 L701.5,669.3 L702.0,668.5 L702.5,674.9 L703.0,671.5 L703.5,674.6 L704.0,671.0 L704.5,676.2 L705.0,673.3 L705.5,677.9 L706.0,676.4 L706.5,677.0 L707.0,678.9 L707.5,679.3 L708.0,677.5 L708.5,680.5 L709.0,681.0 L709.5,684.1 L710.0,682.7 L710.5,686.0 L711.0,685.6 L711.5,688.1 L712.0,687.4 L712.5,690.3 L713.0,686.4 L713.5,689.7 L714.0,688.0 L714.5,690.9 L715.0,690.6 L715.5,694.2 L716.0,691.8 L716.5,694.4 L717.0,695.3 L717.5,697.8 L718.0,697.4 L718.5,696.8 L719.0,693.8 L719.5,693.0 L720.0,686.7 L720.5,690.2 L721.0,687.0 L721.5,690.6 L722.0,691.8 L722.5,699.0 L723.0,698.0 L723.5,703.3 L724.0,702.1 L724.5,707.6 L725.0,705.9 L725.5,713.6 L726.0,713.1 L726.5,710.7 L727.0,705.4 L727.5,704.6 L728.0,697.9 L728.5,696.7 L729.0,689.2 L729.5,690.9 L730.0,687.0 L730.5,689.2 L731.0,685.8 L731.5,688.1 L732.0,683.2 L732.5,684.9 L733.0,681.5 L733.5,681.3 L734.0,677.3 L734.5,678.6 L735.0,676.6 L735.5,679.4 L736.0,674.3 L736.5,677.4 L737.0,673.1 L737.5,674.9 L738.0,675.7 L738.5,675.9 L739.0,676.8 L739.5,679.9 L740.0,676.9 L740.5,683.8 L741.0,682.6 L741.5,688.7 L742.0,687.3 L742.5,692.0 L743.0,691.8 L743.5,693.4 L744.0,692.5 L744.5,696.9 L745.0,696.0 L745.5,697.1 L746.0,694.7 L746.5,698.8 L747.0,693.5 L747.5,696.6 L748.0,689.5 L748.5,691.2 L749.0,685.4 L749.5,687.5 L750.0,683.3 L750.5,684.8 L751.0,681.6 L751.5,682.2 L752.0,679.4 L752.5,680.1 L753.0,676.9 L753.5,680.1 L754.0,675.5 L754.5,680.6 L755.0,678.6 L755.5,683.0 L756.0,680.6 L756.5,687.0 L757.0,682.9 L757.5,688.4 L758.0,686.5 L758.5,688.1 L759.0,685.7 L759.5,689.4 L760.0,684.7 L760.5,690.2 L761.0,689.2 L761.5,691.9 L762.0,693.4 L762.5,695.9 L763.0,695.3 L763.5,699.7 L764.0,696.8 L764.5,702.6 L765.0,700.0 L765.5,706.4 L766.0,702.5 L766.5,707.6 L767.0,703.3 L767.5,707.4 L768.0,703.9 L768.5,708.9 L769.0,702.2 L769.5,707.4 L770.0,707.3 L770.5,707.8 L771.0,703.3 L771.5,706.2 L772.0,703.6 L772.5,706.5 L773.0,703.7 L773.5,704.3 L774.0,701.2 L774.5,703.2 L775.0,703.4 L775.5,703.7 L776.0,703.1 L776.5,706.8 L777.0,708.2 L777.5,711.4 L778.0,712.0 L778.5,715.9 L779.0,713.5 L779.5,717.9 L780.0,719.5 L780.5,720.5 L781.0,718.5 L781.5,721.8 L782.0,719.7 L782.5,723.5 L783.0,719.6 L783.5,723.3 L784.0,721.6 L784.5,728.2 L785.0,725.3 L785.5,727.2 L786.0,725.6 L786.5,727.7 L787.0,726.0 L787.5,726.4 L788.0,723.4 L788.5,725.2 L789.0,719.8 L789.5,721.8 L790.0,714.5 L790.5,719.2 L791.0,714.7 L791.5,718.8 L792.0,715.3 L792.5,718.6 L793.0,713.1 L793.5,718.5 L794.0,713.2 L794.5,720.2 L795.0,715.9 L795.5,719.8 L796.0,714.5 L796.5,718.5 L797.0,710.8 L797.5,713.4 L798.0,707.7 L798.5,709.7 L799.0,705.0 L799.5,711.0 L800.0,703.1 L800.5,703.9 L801.0,699.9 L801.5,702.2 L802.0,698.8 L802.5,702.0 L803.0,698.0 L803.5,699.6 L804.0,695.3 L804.5,695.4 L805.0,693.0 L805.5,694.2 L806.0,690.7 L806.5,692.2 L807.0,687.7 L807.5,692.0 L808.0,686.5 L808.5,690.1 L809.0,684.6 L809.5,689.2 L810.0,682.7 L810.5,687.6 L811.0,685.2 L811.5,692.2 L812.0,686.7 L812.5,692.1 L813.0,689.4 L813.5,693.6 L814.0,691.0 L814.5,696.2 L815.0,695.0 L815.5,699.9 L816.0,699.5 L816.5,703.0 L817.0,703.5 L817.5,704.1 L818.0,701.1 L818.5,701.5 L819.0,699.8 L819.5,701.8 L820.0,698.1 L820.5,698.2 L821.0,697.3 L821.5,699.6 L822.0,695.2 L822.5,698.3 L823.0,696.5 L823.5,697.9 L824.0,696.1 L824.5,699.2 L825.0,693.2 L825.5,695.2 L826.0,692.3 L826.5,693.9 L827.0,690.5 L827.5,690.5 L828.0,687.6 L828.5,689.0 L829.0,686.2 L829.5,687.0 L830.0,684.4 L830.5,686.9 L831.0,682.2 L831.5,683.1 L832.0,678.4 L832.5,679.1 L833.0,677.5 L833.5,675.4 L834.0,671.9 L834.5,673.8 L835.0,670.0 L835.5,672.5 L836.0,667.5 L836.5,671.0 L837.0,666.7 L837.5,669.7 L838.0,666.8 L838.5,672.8 L839.0,672.6 L839.5,676.5 L840.0,673.6 L840.5,678.5 L841.0,679.5 L841.5,681.7 L842.0,678.6 L842.5,683.5 L843.0,680.8 L843.5,684.0 L844.0,680.2 L844.5,685.4 L845.0,683.6 L845.5,685.2 L846.0,683.3 L846.5,686.9 L847.0,685.0 L847.5,688.8 L848.0,686.7 L848.5,690.9 L849.0,688.2 L849.5,691.1 L850.0,686.7 L850.5,689.9 L851.0,683.2 L851.5,689.3 L852.0,681.6 L852.5,683.8 L853.0,679.1 L853.5,684.4 L854.0,684.9 L854.5,689.8 L855.0,688.6 L855.5,692.7 L856.0,694.0 L856.5,698.4 L857.0,699.4 L857.5,697.3 L858.0,693.9 L858.5,694.5 L859.0,690.1 L859.5,694.2 L860.0,689.1 L860.5,689.5 L861.0,687.5 L861.5,687.8 L862.0,681.5 L862.5,683.9 L863.0,678.2 L863.5,677.7 L864.0,671.8 L864.5,672.5 L865.0,667.7 L865.5,669.9 L866.0,666.7 L866.5,672.9 L867.0,668.3 L867.5,673.7 L868.0,669.6 L868.5,673.3 L869.0,673.4 L869.5,676.3 L870.0,675.8 L870.5,680.0 L871.0,680.3 L871.5,683.4 L872.0,681.3 L872.5,682.7 L873.0,685.5 L873.5,687.6 L874.0,690.3 L874.5,699.8 L875.0,701.4 L875.5,708.1 L876.0,713.5 L876.5,716.6 L877.0,717.1 L877.5,721.6 L878.0,722.2 L878.5,728.0 L879.0,726.0 L879.5,730.4 L880.0,731.5 L880.5,733.9 L881.0,729.9 L881.5,732.8 L882.0,729.3 L882.5,731.3 L883.0,726.0 L883.5,729.7 L884.0,726.6 L884.5,729.0 L885.0,727.4 L885.5,727.6 L886.0,721.3 L886.5,722.4 L887.0,719.2 L887.5,720.9 L888.0,714.5 L888.5,716.6 L889.0,709.7 L889.5,712.2 L890.0,710.2 L890.5,712.2 L891.0,705.5 L891.5,708.8 L892.0,707.7 L892.5,710.4 L893.0,709.1 L893.5,715.0 L894.0,709.6 L894.5,714.6 L895.0,710.5 L895.5,715.8 L896.0,710.4 L896.5,716.3 L897.0,713.0 L897.5,714.8 L898.0,714.6 L898.5,715.0 L899.0,714.9 L899.5,718.6 L900.0,719.2 L900.5,720.7 L901.0,720.2 L901.5,719.8 L902.0,720.6 L902.5,722.9 L903.0,718.7 L903.5,720.9 L904.0,717.7 L904.5,720.2 L905.0,717.8 L905.5,720.4 L906.0,717.7 L906.5,720.2 L907.0,717.3 L907.5,719.6 L908.0,715.3 L908.5,719.0 L909.0,714.8 L909.5,719.9 L910.0,716.7 L910.5,721.9 L911.0,717.7 L911.5,720.0 L912.0,721.7 L912.5,722.5 L913.0,722.4 L913.5,726.1 L914.0,723.8 L914.5,728.2 L915.0,724.4 L915.5,732.0 L916.0,727.3 L916.5,734.1 L917.0,734.0 L917.5,736.2 L918.0,735.9 L918.5,740.0 L919.0,736.6 L919.5,740.6 L920.0,736.8 L920.5,743.2 L921.0,741.4 L921.5,748.5 L922.0,746.1 L922.5,750.7 L923.0,752.1 L923.5,758.0 L924.0,759.5 L924.5,759.1 L925.0,756.0 L925.5,755.7 L926.0,753.8 L926.5,754.0 L927.0,752.9 L927.5,752.4 L928.0,749.7 L928.5,749.9 L929.0,743.4 L929.5,744.6 L930.0,737.8 L930.5,741.3 L931.0,733.4 L931.5,735.6 L932.0,729.0 L932.5,730.7 L933.0,726.1 L933.5,725.5 L934.0,723.8 L934.5,724.8 L935.0,721.1 L935.5,723.8 L936.0,718.9 L936.5,722.9 L937.0,718.6 L937.5,723.7 L938.0,719.2 L938.5,722.7 L939.0,718.2 L939.5,719.5 L940.0,717.4 L940.5,719.0 L941.0,716.6 L941.5,716.2 L942.0,713.4 L942.5,715.7 L943.0,713.6 L943.5,714.8 L944.0,715.6 L944.5,718.6 L945.0,719.5 L945.5,721.0 L946.0,723.4 L946.5,726.0 L947.0,726.5 L947.5,730.0 L948.0,730.1 L948.5,734.9 L949.0,736.5 L949.5,739.5 L950.0,739.8 L950.5,741.9 L951.0,743.5 L951.5,748.3 L952.0,747.9 L952.5,751.8 L953.0,755.4 L953.5,756.7 L954.0,757.0 L954.5,760.2 L955.0,760.5 L955.5,764.0 L956.0,763.5 L956.5,764.5 L957.0,762.6 L957.5,763.6 L958.0,760.0 L958.5,763.1 L959.0,759.9 L959.5,763.6 L960.0,759.2 L960.5,763.5 L961.0,761.8 L961.5,764.7 L962.0,764.5 L962.5,769.2 L963.0,765.4 L963.5,769.6 L964.0,767.4 L964.5,769.5 L965.0,768.3 L965.5,769.8 L966.0,767.0 L966.5,769.8 L967.0,764.7 L967.5,769.0 L968.0,765.8 L968.5,770.5 L969.0,767.0 L969.5,773.0 L970.0,768.6 L970.5,774.2 L971.0,771.2 L971.5,775.2 L972.0,775.6 L972.5,776.9 L973.0,777.4 L973.5,783.1 L974.0,785.3 L974.5,790.0 L975.0,795.8 L975.5,795.7 L976.0,793.6 L976.5,794.4 L977.0,793.1 L977.5,793.5 L978.0,791.1 L978.5,792.5 L979.0,788.9 L979.5,792.3 L980.0,789.1 L980.5,790.5 L981.0,787.4 L981.5,789.1 L982.0,787.6 L982.5,788.9 L983.0,787.4 L983.5,788.4 L984.0,786.3 L984.5,787.0 L985.0,784.3 L985.5,785.7 L986.0,785.8 L986.5,786.9 L987.0,785.9 L987.5,787.4 L988.0,784.9 L988.5,787.9 L989.0,787.3 L989.5,790.2 L990.0,788.7 L990.5,791.9 L991.0,790.8 L991.5,792.6 L992.0,790.9 L992.5,793.5 L993.0,787.5 L993.5,792.6 L994.0,787.1 L994.5,790.7 L995.0,786.6 L995.5,789.3 L996.0,787.4 L996.5,786.6 L997.0,783.5 L997.5,786.2 L998.0,783.3 L998.5,785.8 L999.0,779.9 L999.5,784.4 L1000.0,779.1 L1000.5,782.9 L1001.0,780.0 L1001.5,781.3 L1002.0,777.5 L1002.5,781.4 L1003.0,777.4 L1003.5,778.3 L1004.0,775.0 L1004.5,776.6 L1005.0,772.6 L1005.5,775.9 L1006.0,770.7 L1006.5,774.6 L1007.0,768.9 L1007.5,771.7 L1008.0,766.0 L1008.5,770.2 L1009.0,765.2 L1009.5,770.1 L1010.0,766.7 L1010.5,772.2 L1011.0,769.1 L1011.5,773.5 L1012.0,770.5 L1012.5,773.0 L1013.0,772.8 L1013.5,775.0 L1014.0,775.3 L1014.5,776.6 L1015.0,772.6 L1015.5,774.6 L1016.0,771.9 L1016.5,773.0 L1017.0,769.8 L1017.5,772.1 L1018.0,769.7 L1018.5,772.2 L1019.0,771.3 L1019.5,774.4 L1020.0,773.0 L1020.5,776.7 L1021.0,777.2 L1021.5,781.0 L1022.0,781.1 L1022.5,783.7 L1023.0,780.9 L1023.5,784.4 L1024.0,780.8 L1024.5,786.1 L1025.0,782.1 L1025.5,786.2 L1026.0,782.2 L1026.5,784.4 L1027.0,781.9 L1027.5,786.4 L1028.0,784.7 L1028.5,786.8 L1029.0,786.0 L1029.5,788.5 L1030.0,787.6 L1030.5,791.0 L1031.0,791.4 L1031.5,794.9 L1032.0,795.7 L1032.5,799.2 L1033.0,798.1 L1033.5,799.7 L1034.0,797.4 L1034.5,799.8 L1035.0,798.6 L1035.5,803.0 L1036.0,802.8 L1036.5,805.2 L1037.0,804.5 L1037.5,807.9 L1038.0,807.3 L1038.5,808.3 L1039.0,808.5 L1039.5,811.8 L1040.0,811.2 L1040.5,813.5 L1041.0,813.3 L1041.5,816.6 L1042.0,815.2 L1042.5,819.9 L1043.0,818.2 L1043.5,820.4 L1044.0,817.3 L1044.5,823.3 L1045.0,822.5 L1045.5,825.4 L1046.0,824.6 L1046.5,828.2 L1047.0,825.0 L1047.5,829.6 L1048.0,827.2 L1048.5,832.4 L1049.0,829.3 L1049.5,832.8 L1050.0,829.0 L1050.5,833.0 L1051.0,829.7 L1051.5,831.6 L1052.0,831.7 L1052.5,830.2 L1053.0,827.0 L1053.5,827.5 L1054.0,826.8 L1054.5,826.5 L1055.0,824.1 L1055.5,822.9 L1056.0,819.7 L1056.5,816.8 L1057.0,812.2 L1057.5,812.3 L1058.0,807.2 L1058.5,805.3 L1059.0,803.5 L1059.5,805.4 L1060.0,806.1 L1060.5,809.9 L1061.0,808.2 L1061.5,811.5 L1062.0,810.7 L1062.5,814.6 L1063.0,813.6 L1063.5,816.0 L1064.0,813.2 L1064.5,816.1 L1065.0,814.9 L1065.5,818.0 L1066.0,815.9 L1066.5,817.2 L1067.0,815.2 L1067.5,817.4 L1068.0,815.4 L1068.5,817.8 L1069.0,814.0 L1069.5,817.5 L1070.0,814.9 L1070.5,817.0 L1071.0,816.1 L1071.5,818.9 L1072.0,817.6 L1072.5,819.7 L1073.0,817.2 L1073.5,821.0 L1074.0,820.2 L1074.5,825.3 L1075.0,821.9 L1075.5,825.1 L1076.0,824.6 L1076.5,828.7 L1077.0,828.3 L1077.5,832.0 L1078.0,831.7 L1078.5,832.8 L1079.0,832.6 L1079.5,833.7 L1080.0,832.6 L1080.5,833.3 L1081.0,832.8 L1081.5,834.6 L1082.0,832.8 L1082.5,835.7 L1083.0,832.8 L1083.5,837.9 L1084.0,836.8 L1084.5,840.5 L1085.0,836.1 L1085.5,842.6 L1086.0,837.1 L1086.5,842.7 L1087.0,839.9 L1087.5,846.0 L1088.0,842.7 L1088.5,848.2 L1089.0,843.1 L1089.5,847.1 L1090.0,843.5 L1090.5,847.7 L1091.0,843.5 L1091.5,847.7 L1092.0,845.4 L1092.5,846.3 L1093.0,841.4 L1093.5,842.5 L1094.0,840.7 L1094.5,842.8 L1095.0,838.3 L1095.5,840.6 L1096.0,834.8 L1096.5,838.4 L1097.0,834.8 L1097.5,837.5 L1098.0,835.0 L1098.5,834.3 L1099.0,832.1 L1099.5,832.1 L1100.0,827.7 L1100.5,829.5 L1101.0,828.5 L1101.5,827.8 L1102.0,826.7 L1102.5,827.3 L1103.0,825.5 L1103.5,828.0 L1104.0,827.6 L1104.5,829.8 L1105.0,828.4 L1105.5,828.7 L1106.0,825.1 L1106.5,828.5 L1107.0,827.4 L1107.5,830.4 L1108.0,827.0 L1108.5,829.5 L1109.0,825.7 L1109.5,827.2 L1110.0,825.4 L1110.5,828.9 L1111.0,825.9 L1111.5,826.9 L1112.0,825.4 L1112.5,825.6 L1113.0,823.2 L1113.5,825.8 L1114.0,823.7 L1114.5,826.4 L1115.0,822.2 L1115.5,825.1 L1116.0,823.2 L1116.5,824.0 L1117.0,821.1 L1117.5,822.8 L1118.0,821.6 L1118.5,822.8 L1119.0,822.0 L1119.5,825.7 L1120.0,822.8 L1120.5,826.1 L1121.0,823.0 L1121.5,828.8 L1122.0,827.3 L1122.5,826.4 L1123.0,824.4 L1123.5,826.9 L1124.0,825.0 L1124.5,827.4 L1125.0,826.1 L1125.5,827.4 L1126.0,827.2 L1126.5,829.5 L1127.0,825.0 L1127.5,825.3 L1128.0,821.8 L1128.5,821.9 L1129.0,820.3 L1129.5,820.1 L1130.0,817.3 L1130.5,817.5 L1131.0,817.5 L1131.5,819.3 L1132.0,818.7 L1132.5,823.0 L1133.0,818.0 L1133.5,820.7 L1134.0,819.6 L1134.5,820.6 L1135.0,818.8 L1135.5,821.2 L1136.0,818.3 L1136.5,820.5 L1137.0,817.2 L1137.5,820.6 L1138.0,816.5 L1138.5,821.1 L1139.0,819.1 L1139.5,821.9 L1140.0,819.6 L1140.5,825.7 L1141.0,823.4 L1141.5,829.1 L1142.0,825.1 L1142.5,829.9 L1143.0,826.7 L1143.5,829.5 L1144.0,824.2 L1144.5,828.4 L1145.0,822.9 L1145.5,828.4 L1146.0,822.6 L1146.5,828.7 L1147.0,822.6 L1147.5,825.1 L1148.0,821.0 L1148.5,823.1 L1149.0,820.4 L1149.5,824.6 L1150.0,823.5 L1150.5,828.6 L1151.0,824.4 L1151.5,826.9 L1152.0,826.3 L1152.5,829.0 L1153.0,827.7 L1153.5,830.2 L1154.0,828.4 L1154.5,831.5 L1155.0,829.2 L1155.5,832.2 L1156.0,831.8 L1156.5,835.2 L1157.0,833.1 L1157.5,835.3 L1158.0,833.3 L1158.5,836.1 L1159.0,834.1 L1159.5,836.1 L1160.0,834.6 L1160.5,837.2 L1161.0,836.4 L1161.5,838.6 L1162.0,836.3 L1162.5,838.7 L1163.0,836.1 L1163.5,840.0 L1164.0,839.6 L1164.5,842.2 L1165.0,841.7 L1165.5,846.3 L1166.0,842.5 L1166.5,848.7 L1167.0,846.3 L1167.5,852.0 L1168.0,847.7 L1168.5,852.1 L1169.0,848.7 L1169.5,854.7 L1170.0,851.1 L1170.5,857.9 L1171.0,854.6 L1171.5,857.2 L1172.0,853.7 L1172.5,860.7 L1173.0,858.8 L1173.5,860.6 L1174.0,854.4 L1174.5,857.4 L1175.0,853.9 L1175.5,856.7 L1176.0,851.6 L1176.5,852.9 L1177.0,851.5 L1177.5,851.9 L1178.0,849.8 L1178.5,851.0 L1179.0,849.0 L1179.5,850.6 L1180.0,848.0 L1180.5,850.2 L1181.0,846.0 L1181.5,847.8 L1182.0,847.5 L1182.5,848.4 L1183.0,848.7 L1183.5,852.5 L1184.0,850.1 L1184.5,854.4 L1185.0,852.1 L1185.5,854.9 L1186.0,851.3 L1186.5,855.5 L1187.0,856.6 L1187.5,858.3 L1188.0,858.0" fill="none" stroke="#d9cce5" stroke-width="4.4" stroke-linejoin="round" stroke-linecap="round"/>
<path d="M103.0,678.8 L103.5,668.6 L104.0,663.7 L104.5,657.9 L105.0,659.2 L105.5,652.4 L106.0,656.5 L106.5,654.2 L107.0,656.2 L107.5,657.1 L108.0,657.2 L108.5,655.0 L109.0,656.4 L109.5,648.6 L110.0,648.8 L110.5,638.6 L111.0,642.4 L111.5,632.6 L112.0,633.2 L112.5,622.3 L113.0,618.8 L113.5,617.7 L114.0,620.4 L114.5,620.1 L115.0,622.8 L115.5,620.3 L116.0,621.0 L116.5,624.3 L117.0,630.0 L117.5,631.4 L118.0,635.6 L118.5,636.5 L119.0,644.9 L119.5,638.8 L120.0,641.5 L120.5,633.7 L121.0,633.9 L121.5,624.3 L122.0,624.6 L122.5,617.1 L123.0,616.4 L123.5,607.4 L124.0,607.7 L124.5,603.8 L125.0,612.6 L125.5,610.9 L126.0,614.7 L126.5,614.6 L127.0,616.6 L127.5,618.2 L128.0,625.2 L128.5,628.7 L129.0,634.7 L129.5,635.9 L130.0,644.3 L130.5,642.1 L131.0,643.8 L131.5,637.4 L132.0,638.0 L132.5,636.8 L133.0,641.0 L133.5,638.0 L134.0,641.4 L134.5,634.4 L135.0,637.1 L135.5,640.9 L136.0,648.5 L136.5,653.3 L137.0,658.5 L137.5,658.2 L138.0,661.1 L138.5,657.4 L139.0,661.3 L139.5,657.1 L140.0,659.0 L140.5,656.7 L141.0,661.9 L141.5,664.2 L142.0,673.4 L142.5,666.6 L143.0,668.6 L143.5,664.2 L144.0,666.2 L144.5,655.5 L145.0,657.7 L145.5,652.7 L146.0,661.5 L146.5,654.7 L147.0,659.0 L147.5,657.2 L148.0,662.5 L148.5,660.6 L149.0,662.3 L149.5,662.4 L150.0,665.3 L150.5,666.0 L151.0,670.6 L151.5,668.4 L152.0,679.0 L152.5,674.7 L153.0,683.6 L153.5,680.4 L154.0,687.3 L154.5,684.3 L155.0,689.2 L155.5,688.3 L156.0,694.1 L156.5,688.6 L157.0,698.3 L157.5,694.7 L158.0,697.0 L158.5,697.8 L159.0,699.2 L159.5,696.5 L160.0,698.1 L160.5,691.6 L161.0,696.2 L161.5,690.2 L162.0,695.0 L162.5,690.1 L163.0,694.3 L163.5,688.0 L164.0,688.3 L164.5,685.3 L165.0,684.2 L165.5,678.1 L166.0,681.2 L166.5,677.0 L167.0,678.8 L167.5,674.4 L168.0,676.1 L168.5,671.9 L169.0,675.0 L169.5,670.5 L170.0,673.0 L170.5,671.3 L171.0,675.4 L171.5,669.5 L172.0,674.3 L172.5,672.0 L173.0,675.1 L173.5,671.4 L174.0,673.4 L174.5,669.2 L175.0,669.0 L175.5,665.8 L176.0,665.4 L176.5,662.4 L177.0,664.7 L177.5,663.4 L178.0,667.1 L178.5,665.9 L179.0,672.1 L179.5,667.9 L180.0,672.4 L180.5,671.1 L181.0,672.1 L181.5,668.4 L182.0,674.9 L182.5,668.9 L183.0,676.2 L183.5,672.6 L184.0,674.0 L184.5,672.4 L185.0,674.6 L185.5,671.1 L186.0,673.4 L186.5,673.1 L187.0,676.7 L187.5,676.4 L188.0,676.5 L188.5,674.6 L189.0,677.1 L189.5,670.1 L190.0,674.2 L190.5,666.6 L191.0,669.3 L191.5,668.0 L192.0,668.9 L192.5,667.3 L193.0,668.6 L193.5,666.0 L194.0,668.3 L194.5,664.6 L195.0,664.9 L195.5,663.1 L196.0,664.2 L196.5,661.3 L197.0,662.7 L197.5,662.0 L198.0,665.3 L198.5,662.8 L199.0,668.4 L199.5,667.2 L200.0,668.1 L200.5,667.5 L201.0,669.4 L201.5,663.9 L202.0,666.8 L202.5,665.2 L203.0,665.8 L203.5,663.0 L204.0,664.4 L204.5,663.0 L205.0,665.3 L205.5,659.6 L206.0,664.3 L206.5,657.8 L207.0,662.2 L207.5,655.6 L208.0,659.3 L208.5,656.5 L209.0,660.3 L209.5,656.6 L210.0,659.9 L210.5,655.8 L211.0,659.5 L211.5,657.4 L212.0,662.7 L212.5,659.5 L213.0,662.2 L213.5,659.5 L214.0,663.0 L214.5,660.3 L215.0,664.1 L215.5,662.1 L216.0,665.0 L216.5,660.9 L217.0,662.7 L217.5,659.4 L218.0,660.2 L218.5,655.9 L219.0,654.3 L219.5,655.5 L220.0,660.0 L220.5,657.7 L221.0,662.9 L221.5,659.3 L222.0,663.2 L222.5,661.4 L223.0,663.5 L223.5,661.3 L224.0,666.9 L224.5,658.9 L225.0,664.7 L225.5,656.7 L226.0,661.5 L226.5,656.0 L227.0,661.1 L227.5,657.8 L228.0,661.2 L228.5,656.2 L229.0,660.5 L229.5,656.6 L230.0,661.4 L230.5,658.7 L231.0,663.5 L231.5,661.5 L232.0,665.9 L232.5,664.1 L233.0,668.3 L233.5,666.5 L234.0,666.7 L234.5,667.0 L235.0,670.6 L235.5,664.7 L236.0,670.5 L236.5,665.8 L237.0,670.2 L237.5,665.9 L238.0,668.3 L238.5,667.8 L239.0,671.5 L239.5,669.8 L240.0,674.4 L240.5,671.0 L241.0,676.9 L241.5,674.9 L242.0,676.6 L242.5,675.5 L243.0,678.0 L243.5,676.0 L244.0,677.5 L244.5,674.2 L245.0,675.0 L245.5,671.5 L246.0,674.6 L246.5,670.2 L247.0,675.2 L247.5,672.2 L248.0,678.6 L248.5,676.6 L249.0,680.9 L249.5,678.1 L250.0,677.9 L250.5,673.9 L251.0,674.5 L251.5,668.7 L252.0,670.6 L252.5,668.8 L253.0,670.1 L253.5,666.9 L254.0,670.2 L254.5,666.7 L255.0,670.0 L255.5,667.0 L256.0,669.5 L256.5,667.5 L257.0,670.3 L257.5,669.3 L258.0,675.2 L258.5,674.2 L259.0,683.0 L259.5,679.3 L260.0,683.2 L260.5,680.9 L261.0,682.9 L261.5,681.7 L262.0,683.7 L262.5,680.0 L263.0,682.9 L263.5,680.7 L264.0,681.5 L264.5,679.4 L265.0,680.5 L265.5,677.6 L266.0,681.4 L266.5,677.8 L267.0,683.1 L267.5,677.8 L268.0,680.4 L268.5,680.5 L269.0,683.6 L269.5,683.5 L270.0,686.5 L270.5,685.0 L271.0,688.2 L271.5,684.3 L272.0,687.1 L272.5,679.9 L273.0,685.1 L273.5,680.5 L274.0,684.8 L274.5,679.5 L275.0,685.4 L275.5,679.4 L276.0,683.5 L276.5,679.4 L277.0,686.3 L277.5,681.9 L278.0,686.6 L278.5,685.2 L279.0,692.7 L279.5,689.8 L280.0,689.9 L280.5,688.0 L281.0,691.1 L281.5,689.5 L282.0,689.7 L282.5,687.5 L283.0,689.6 L283.5,687.3 L284.0,688.5 L284.5,687.1 L285.0,689.4 L285.5,687.2 L286.0,690.6 L286.5,685.2 L287.0,685.5 L287.5,679.1 L288.0,679.2 L288.5,676.1 L289.0,676.5 L289.5,678.1 L290.0,682.9 L290.5,683.4 L291.0,688.3 L291.5,688.5 L292.0,690.5 L292.5,687.4 L293.0,691.5 L293.5,688.7 L294.0,693.8 L294.5,691.2 L295.0,696.8 L295.5,695.4 L296.0,698.4 L296.5,696.3 L297.0,698.9 L297.5,695.3 L298.0,696.6 L298.5,690.3 L299.0,693.8 L299.5,687.1 L300.0,693.2 L300.5,689.2 L301.0,693.9 L301.5,690.4 L302.0,694.4 L302.5,692.5 L303.0,696.5 L303.5,695.8 L304.0,699.1 L304.5,695.3 L305.0,697.5 L305.5,695.9 L306.0,699.2 L306.5,692.2 L307.0,696.0 L307.5,689.6 L308.0,692.7 L308.5,686.9 L309.0,689.4 L309.5,685.4 L310.0,686.6 L310.5,685.7 L311.0,687.2 L311.5,682.9 L312.0,686.2 L312.5,683.8 L313.0,682.6 L313.5,681.7 L314.0,684.9 L314.5,683.0 L315.0,684.6 L315.5,686.0 L316.0,688.0 L316.5,686.7 L317.0,688.6 L317.5,685.4 L318.0,686.4 L318.5,687.1 L319.0,688.6 L319.5,687.3 L320.0,690.2 L320.5,689.2 L321.0,689.3 L321.5,689.4 L322.0,691.0 L322.5,690.1 L323.0,694.9 L323.5,690.1 L324.0,694.4 L324.5,689.4 L325.0,694.1 L325.5,690.3 L326.0,692.4 L326.5,679.8 L327.0,670.6 L327.5,665.3 L328.0,667.5 L328.5,666.2 L329.0,667.9 L329.5,664.6 L330.0,668.1 L330.5,665.7 L331.0,662.5 L331.5,659.8 L332.0,661.8 L332.5,654.4 L333.0,655.1 L333.5,648.4 L334.0,650.6 L334.5,646.0 L335.0,645.6 L335.5,639.1 L336.0,638.6 L336.5,638.7 L337.0,642.7 L337.5,639.8 L338.0,643.4 L338.5,642.8 L339.0,646.6 L339.5,642.5 L340.0,647.3 L340.5,641.4 L341.0,641.9 L341.5,640.6 L342.0,640.8 L342.5,638.3 L343.0,640.4 L343.5,635.7 L344.0,637.9 L344.5,633.3 L345.0,636.8 L345.5,631.8 L346.0,633.0 L346.5,631.3 L347.0,634.3 L347.5,633.5 L348.0,635.0 L348.5,631.8 L349.0,635.1 L349.5,633.1 L350.0,634.3 L350.5,632.7 L351.0,634.6 L351.5,632.5 L352.0,634.5 L352.5,627.0 L353.0,625.7 L353.5,619.5 L354.0,616.2 L354.5,610.8 L355.0,610.4 L355.5,605.1 L356.0,606.5 L356.5,602.4 L357.0,601.3 L357.5,596.1 L358.0,598.2 L358.5,590.9 L359.0,593.1 L359.5,588.3 L360.0,592.3 L360.5,587.4 L361.0,596.4 L361.5,591.3 L362.0,596.0 L362.5,593.3 L363.0,592.4 L363.5,594.8 L364.0,597.2 L364.5,594.9 L365.0,601.7 L365.5,599.5 L366.0,604.7 L366.5,602.5 L367.0,608.8 L367.5,602.2 L368.0,604.7 L368.5,600.0 L369.0,599.5 L369.5,595.0 L370.0,596.5 L370.5,594.0 L371.0,595.7 L371.5,591.8 L372.0,599.3 L372.5,593.1 L373.0,597.8 L373.5,594.7 L374.0,596.5 L374.5,593.8 L375.0,596.7 L375.5,591.6 L376.0,595.8 L376.5,589.1 L377.0,595.4 L377.5,588.0 L378.0,593.7 L378.5,584.9 L379.0,589.9 L379.5,585.7 L380.0,594.2 L380.5,589.7 L381.0,598.6 L381.5,596.0 L382.0,600.7 L382.5,598.1 L383.0,605.9 L383.5,602.2 L384.0,606.4 L384.5,603.7 L385.0,606.9 L385.5,605.3 L386.0,611.6 L386.5,607.6 L387.0,616.1 L387.5,608.9 L388.0,613.2 L388.5,607.7 L389.0,613.6 L389.5,610.2 L390.0,613.8 L390.5,607.9 L391.0,608.9 L391.5,610.3 L392.0,617.8 L392.5,614.6 L393.0,624.6 L393.5,620.9 L394.0,623.3 L394.5,617.2 L395.0,623.2 L395.5,614.8 L396.0,619.1 L396.5,612.7 L397.0,613.3 L397.5,609.3 L398.0,611.1 L398.5,605.7 L399.0,611.5 L399.5,609.7 L400.0,610.8 L400.5,608.5 L401.0,614.5 L401.5,605.2 L402.0,600.4 L402.5,594.3 L403.0,592.0 L403.5,586.0 L404.0,585.2 L404.5,586.2 L405.0,592.3 L405.5,593.0 L406.0,598.9 L406.5,599.5 L407.0,606.6 L407.5,605.4 L408.0,610.9 L408.5,608.9 L409.0,619.9 L409.5,612.4 L410.0,614.8 L410.5,608.8 L411.0,610.3 L411.5,604.5 L412.0,606.1 L412.5,600.2 L413.0,600.3 L413.5,594.3 L414.0,599.9 L414.5,589.7 L415.0,593.0 L415.5,590.7 L416.0,594.0 L416.5,589.6 L417.0,594.6 L417.5,587.4 L418.0,591.6 L418.5,587.8 L419.0,590.7 L419.5,581.2 L420.0,585.8 L420.5,580.0 L421.0,581.5 L421.5,575.0 L422.0,577.1 L422.5,571.4 L423.0,572.8 L423.5,570.5 L424.0,572.8 L424.5,572.5 L425.0,575.9 L425.5,572.6 L426.0,578.5 L426.5,580.5 L427.0,589.8 L427.5,593.0 L428.0,600.7 L428.5,600.0 L429.0,603.9 L429.5,600.0 L430.0,602.8 L430.5,601.3 L431.0,604.4 L431.5,605.7 L432.0,610.8 L432.5,609.9 L433.0,617.3 L433.5,616.4 L434.0,624.5 L434.5,623.6 L435.0,630.4 L435.5,631.0 L436.0,638.5 L436.5,637.0 L437.0,640.5 L437.5,642.9 L438.0,644.4 L438.5,646.8 L439.0,652.3 L439.5,650.1 L440.0,659.3 L440.5,655.5 L441.0,665.0 L441.5,662.1 L442.0,670.3 L442.5,669.9 L443.0,672.5 L443.5,669.9 L444.0,670.6 L444.5,664.2 L445.0,665.7 L445.5,659.5 L446.0,659.3 L446.5,661.2 L447.0,666.4 L447.5,665.8 L448.0,670.0 L448.5,668.4 L449.0,670.6 L449.5,670.3 L450.0,674.0 L450.5,669.9 L451.0,675.7 L451.5,671.3 L452.0,679.9 L452.5,672.4 L453.0,677.9 L453.5,674.5 L454.0,682.0 L454.5,678.8 L455.0,682.7 L455.5,683.6 L456.0,686.4 L456.5,684.3 L457.0,684.7 L457.5,681.9 L458.0,683.8 L458.5,683.9 L459.0,688.1 L459.5,687.4 L460.0,692.0 L460.5,687.2 L461.0,693.0 L461.5,689.7 L462.0,690.8 L462.5,688.3 L463.0,690.0 L463.5,685.0 L464.0,689.0 L464.5,685.6 L465.0,686.3 L465.5,682.3 L466.0,682.4 L466.5,678.6 L467.0,679.8 L467.5,673.6 L468.0,679.4 L468.5,675.1 L469.0,676.1 L469.5,673.9 L470.0,673.8 L470.5,668.2 L471.0,672.6 L471.5,665.1 L472.0,665.9 L472.5,663.8 L473.0,668.2 L473.5,659.2 L474.0,662.7 L474.5,653.0 L475.0,659.0 L475.5,650.6 L476.0,654.3 L476.5,646.3 L477.0,649.7 L477.5,648.5 L478.0,657.9 L478.5,647.3 L479.0,651.6 L479.5,643.2 L480.0,646.5 L480.5,638.0 L481.0,637.9 L481.5,631.0 L482.0,636.3 L482.5,631.0 L483.0,631.9 L483.5,628.5 L484.0,630.7 L484.5,628.1 L485.0,630.7 L485.5,630.7 L486.0,633.9 L486.5,637.1 L487.0,640.5 L487.5,641.3 L488.0,642.6 L488.5,639.7 L489.0,642.9 L489.5,639.0 L490.0,644.4 L490.5,641.2 L491.0,645.7 L491.5,639.8 L492.0,643.9 L492.5,639.8 L493.0,647.7 L493.5,640.9 L494.0,647.3 L494.5,640.9 L495.0,648.4 L495.5,641.4 L496.0,645.9 L496.5,642.7 L497.0,651.2 L497.5,646.8 L498.0,654.7 L498.5,649.6 L499.0,653.4 L499.5,652.5 L500.0,657.4 L500.5,654.9 L501.0,658.1 L501.5,653.9 L502.0,657.9 L502.5,654.2 L503.0,661.7 L503.5,657.5 L504.0,665.0 L504.5,657.8 L505.0,663.8 L505.5,656.4 L506.0,664.9 L506.5,659.3 L507.0,664.6 L507.5,660.0 L508.0,665.7 L508.5,661.4 L509.0,670.4 L509.5,666.2 L510.0,672.0 L510.5,669.6 L511.0,676.8 L511.5,671.7 L512.0,681.0 L512.5,677.2 L513.0,683.1 L513.5,684.1 L514.0,691.3 L514.5,690.2 L515.0,697.1 L515.5,695.0 L516.0,701.7 L516.5,691.9 L517.0,697.9 L517.5,690.0 L518.0,696.0 L518.5,692.0 L519.0,695.4 L519.5,691.4 L520.0,692.8 L520.5,690.2 L521.0,689.3 L521.5,680.0 L522.0,683.7 L522.5,674.5 L523.0,673.0 L523.5,672.2 L524.0,678.9 L524.5,679.5 L525.0,686.0 L525.5,683.5 L526.0,688.9 L526.5,687.6 L527.0,685.3 L527.5,680.8 L528.0,680.9 L528.5,675.3 L529.0,677.6 L529.5,670.2 L530.0,673.7 L530.5,668.2 L531.0,673.5 L531.5,670.9 L532.0,676.0 L532.5,672.2 L533.0,677.1 L533.5,676.1 L534.0,678.2 L534.5,678.0 L535.0,678.5 L535.5,679.8 L536.0,684.3 L536.5,681.4 L537.0,682.6 L537.5,682.4 L538.0,685.0 L538.5,684.8 L539.0,686.4 L539.5,686.6 L540.0,688.8 L540.5,687.7 L541.0,690.4 L541.5,688.3 L542.0,693.8 L542.5,691.6 L543.0,697.5 L543.5,692.5 L544.0,697.7 L544.5,693.1 L545.0,699.8 L545.5,694.4 L546.0,699.0 L546.5,692.8 L547.0,701.2 L547.5,693.5 L548.0,697.7 L548.5,696.3 L549.0,705.4 L549.5,702.2 L550.0,713.0 L550.5,708.4 L551.0,719.7 L551.5,711.8 L552.0,717.0 L552.5,709.1 L553.0,713.2 L553.5,705.1 L554.0,706.6 L554.5,699.5 L555.0,703.7 L555.5,697.8 L556.0,704.6 L556.5,699.9 L557.0,707.6 L557.5,704.4 L558.0,710.8 L558.5,707.1 L559.0,713.6 L559.5,712.4 L560.0,717.1 L560.5,712.6 L561.0,721.9 L561.5,717.4 L562.0,721.3 L562.5,719.6 L563.0,719.0 L563.5,714.8 L564.0,714.7 L564.5,709.8 L565.0,709.9 L565.5,707.7 L566.0,710.9 L566.5,706.5 L567.0,708.1 L567.5,704.4 L568.0,708.5 L568.5,703.4 L569.0,703.5 L569.5,701.5 L570.0,702.5 L570.5,701.7 L571.0,703.3 L571.5,704.4 L572.0,711.0 L572.5,709.4 L573.0,715.7 L573.5,715.4 L574.0,718.7 L574.5,719.7 L575.0,725.5 L575.5,724.6 L576.0,730.2 L576.5,728.1 L577.0,734.5 L577.5,736.3 L578.0,742.5 L578.5,738.2 L579.0,738.3 L579.5,733.2 L580.0,735.1 L580.5,731.5 L581.0,732.1 L581.5,726.4 L582.0,724.7 L582.5,722.6 L583.0,722.9 L583.5,722.1 L584.0,726.7 L584.5,721.4 L585.0,727.8 L585.5,722.5 L586.0,727.7 L586.5,727.1 L587.0,730.5 L587.5,723.9 L588.0,724.6 L588.5,718.5 L589.0,720.9 L589.5,714.5 L590.0,717.5 L590.5,715.2 L591.0,723.2 L591.5,722.9 L592.0,731.4 L592.5,728.9 L593.0,737.7 L593.5,732.6 L594.0,737.4 L594.5,733.6 L595.0,737.5 L595.5,734.9 L596.0,739.5 L596.5,736.7 L597.0,740.1 L597.5,741.6 L598.0,743.0 L598.5,742.5 L599.0,751.0 L599.5,748.1 L600.0,751.3 L600.5,750.8 L601.0,752.5 L601.5,753.2 L602.0,753.0 L602.5,751.8 L603.0,754.4 L603.5,749.5 L604.0,754.6 L604.5,749.1 L605.0,752.6 L605.5,747.5 L606.0,748.8 L606.5,746.1 L607.0,748.3 L607.5,748.0 L608.0,752.7 L608.5,747.9 L609.0,753.4 L609.5,749.2 L610.0,755.4 L610.5,748.5 L611.0,751.4 L611.5,747.9 L612.0,749.2 L612.5,743.7 L613.0,745.0 L613.5,741.0 L614.0,740.4 L614.5,739.8 L615.0,739.8 L615.5,735.6 L616.0,735.5 L616.5,733.2 L617.0,732.8 L617.5,733.8 L618.0,736.0 L618.5,735.0 L619.0,736.4 L619.5,734.8 L620.0,732.5 L620.5,725.9 L621.0,720.8 L621.5,711.7 L622.0,704.9 L622.5,704.7 L623.0,706.7 L623.5,706.0 L624.0,711.4 L624.5,707.8 L625.0,714.5 L625.5,712.0 L626.0,717.6 L626.5,716.2 L627.0,723.1 L627.5,718.9 L628.0,719.6 L628.5,710.3 L629.0,712.6 L629.5,704.5 L630.0,708.5 L630.5,701.1 L631.0,706.6 L631.5,702.0 L632.0,708.3 L632.5,702.6 L633.0,706.1 L633.5,703.4 L634.0,704.4 L634.5,701.2 L635.0,701.2 L635.5,698.7 L636.0,700.2 L636.5,695.0 L637.0,694.3 L637.5,687.3 L638.0,689.6 L638.5,685.6 L639.0,686.7 L639.5,685.7 L640.0,690.7 L640.5,688.8 L641.0,692.2 L641.5,691.0 L642.0,695.5 L642.5,692.5 L643.0,694.6 L643.5,694.0 L644.0,697.6 L644.5,692.5 L645.0,695.9 L645.5,694.3 L646.0,698.7 L646.5,694.2 L647.0,699.3 L647.5,695.4 L648.0,699.2 L648.5,694.1 L649.0,699.6 L649.5,695.0 L650.0,698.9 L650.5,693.4 L651.0,697.5 L651.5,695.4 L652.0,701.2 L652.5,698.8 L653.0,702.7 L653.5,701.6 L654.0,703.2 L654.5,700.6 L655.0,700.4 L655.5,702.9 L656.0,705.4 L656.5,704.2 L657.0,709.2 L657.5,706.6 L658.0,712.9 L658.5,711.0 L659.0,715.5 L659.5,713.3 L660.0,719.4 L660.5,713.8 L661.0,718.8 L661.5,714.7 L662.0,723.3 L662.5,716.7 L663.0,723.5 L663.5,716.9 L664.0,720.6 L664.5,714.6 L665.0,716.5 L665.5,713.9 L666.0,715.1 L666.5,711.6 L667.0,715.2 L667.5,709.2 L668.0,716.9 L668.5,711.6 L669.0,716.7 L669.5,712.0 L670.0,716.7 L670.5,712.1 L671.0,716.9 L671.5,715.2 L672.0,718.0 L672.5,715.7 L673.0,716.3 L673.5,715.0 L674.0,719.8 L674.5,715.2 L675.0,721.5 L675.5,716.3 L676.0,725.0 L676.5,722.7 L677.0,731.0 L677.5,727.6 L678.0,734.9 L678.5,728.9 L679.0,735.5 L679.5,729.7 L680.0,732.6 L680.5,728.2 L681.0,731.1 L681.5,727.6 L682.0,728.2 L682.5,723.1 L683.0,724.4 L683.5,719.7 L684.0,719.9 L684.5,715.3 L685.0,714.3 L685.5,712.8 L686.0,716.4 L686.5,712.0 L687.0,712.8 L687.5,710.4 L688.0,711.6 L688.5,709.8 L689.0,712.9 L689.5,706.7 L690.0,711.4 L690.5,705.8 L691.0,706.5 L691.5,705.8 L692.0,706.7 L692.5,707.7 L693.0,711.5 L693.5,708.5 L694.0,712.5 L694.5,711.3 L695.0,715.3 L695.5,716.2 L696.0,718.2 L696.5,716.9 L697.0,721.5 L697.5,719.3 L698.0,724.0 L698.5,722.9 L699.0,726.4 L699.5,724.9 L700.0,726.1 L700.5,723.6 L701.0,727.8 L701.5,727.7 L702.0,732.8 L702.5,730.1 L703.0,737.5 L703.5,733.4 L704.0,738.3 L704.5,737.4 L705.0,739.8 L705.5,738.1 L706.0,743.0 L706.5,743.2 L707.0,746.8 L707.5,743.6 L708.0,748.9 L708.5,748.5 L709.0,752.7 L709.5,751.3 L710.0,753.3 L710.5,753.0 L711.0,758.3 L711.5,756.1 L712.0,757.1 L712.5,753.9 L713.0,755.4 L713.5,752.2 L714.0,754.4 L714.5,751.0 L715.0,755.5 L715.5,753.0 L716.0,758.1 L716.5,755.3 L717.0,760.2 L717.5,756.8 L718.0,765.4 L718.5,756.2 L719.0,757.6 L719.5,753.3 L720.0,753.7 L720.5,749.0 L721.0,748.6 L721.5,747.6 L722.0,755.3 L722.5,751.6 L723.0,758.7 L723.5,755.5 L724.0,762.5 L724.5,756.8 L725.0,763.5 L725.5,757.5 L726.0,761.7 L726.5,753.7 L727.0,755.1 L727.5,749.3 L728.0,750.9 L728.5,747.7 L729.0,748.6 L729.5,744.9 L730.0,746.8 L730.5,741.9 L731.0,745.3 L731.5,741.4 L732.0,746.4 L732.5,739.6 L733.0,741.5 L733.5,737.8 L734.0,742.0 L734.5,734.8 L735.0,738.9 L735.5,732.5 L736.0,737.5 L736.5,733.3 L737.0,740.0 L737.5,733.6 L738.0,737.8 L738.5,734.9 L739.0,741.1 L739.5,740.4 L740.0,742.5 L740.5,743.3 L741.0,744.3 L741.5,742.9 L742.0,744.7 L742.5,741.9 L743.0,744.7 L743.5,743.0 L744.0,747.2 L744.5,744.5 L745.0,747.8 L745.5,744.7 L746.0,752.0 L746.5,748.7 L747.0,754.9 L747.5,747.8 L748.0,748.2 L748.5,741.8 L749.0,743.7 L749.5,737.4 L750.0,741.0 L750.5,734.5 L751.0,737.3 L751.5,733.2 L752.0,738.3 L752.5,731.5 L753.0,736.9 L753.5,729.5 L754.0,733.5 L754.5,730.7 L755.0,736.6 L755.5,732.0 L756.0,737.6 L756.5,733.7 L757.0,738.6 L757.5,735.7 L758.0,740.9 L758.5,737.0 L759.0,740.0 L759.5,737.9 L760.0,743.4 L760.5,741.6 L761.0,743.8 L761.5,742.4 L762.0,744.4 L762.5,745.3 L763.0,748.1 L763.5,747.6 L764.0,750.7 L764.5,749.4 L765.0,752.6 L765.5,752.7 L766.0,752.4 L766.5,756.3 L767.0,757.7 L767.5,755.7 L768.0,757.4 L768.5,756.7 L769.0,760.0 L769.5,756.1 L770.0,758.7 L770.5,757.6 L771.0,761.7 L771.5,761.0 L772.0,763.2 L772.5,762.0 L773.0,764.4 L773.5,761.7 L774.0,763.1 L774.5,758.9 L775.0,760.3 L775.5,755.4 L776.0,757.0 L776.5,756.3 L777.0,762.9 L777.5,760.2 L778.0,767.7 L778.5,764.0 L779.0,767.5 L779.5,764.9 L780.0,770.4 L780.5,762.9 L781.0,768.0 L781.5,764.3 L782.0,770.8 L782.5,767.3 L783.0,769.5 L783.5,768.4 L784.0,773.1 L784.5,770.6 L785.0,773.1 L785.5,772.9 L786.0,775.4 L786.5,775.8 L787.0,777.7 L787.5,775.0 L788.0,774.4 L788.5,774.1 L789.0,775.6 L789.5,772.2 L790.0,769.1 L790.5,765.0 L791.0,764.8 L791.5,760.2 L792.0,761.3 L792.5,757.7 L793.0,761.7 L793.5,761.1 L794.0,760.5 L794.5,760.8 L795.0,766.1 L795.5,764.3 L796.0,766.3 L796.5,767.2 L797.0,768.6 L797.5,768.2 L798.0,768.3 L798.5,763.3 L799.0,762.8 L799.5,757.9 L800.0,762.3 L800.5,756.8 L801.0,759.2 L801.5,754.3 L802.0,752.6 L802.5,749.7 L803.0,751.3 L803.5,746.5 L804.0,748.2 L804.5,743.0 L805.0,744.5 L805.5,742.2 L806.0,742.7 L806.5,740.6 L807.0,744.4 L807.5,739.4 L808.0,738.8 L808.5,737.8 L809.0,739.7 L809.5,738.8 L810.0,740.6 L810.5,738.1 L811.0,738.7 L811.5,734.6 L812.0,734.9 L812.5,735.7 L813.0,740.9 L813.5,739.3 L814.0,742.7 L814.5,743.4 L815.0,747.0 L815.5,745.0 L816.0,749.5 L816.5,747.3 L817.0,753.4 L817.5,749.5 L818.0,755.3 L818.5,753.4 L819.0,758.0 L819.5,754.9 L820.0,756.2 L820.5,753.7 L821.0,753.1 L821.5,751.2 L822.0,750.6 L822.5,747.6 L823.0,749.8 L823.5,745.1 L824.0,748.5 L824.5,740.7 L825.0,744.6 L825.5,737.4 L826.0,743.2 L826.5,740.1 L827.0,742.0 L827.5,739.4 L828.0,740.2 L828.5,739.2 L829.0,742.8 L829.5,739.5 L830.0,739.8 L830.5,738.5 L831.0,740.7 L831.5,738.1 L832.0,738.2 L832.5,732.2 L833.0,734.9 L833.5,731.1 L834.0,734.3 L834.5,728.8 L835.0,728.8 L835.5,725.2 L836.0,725.8 L836.5,721.6 L837.0,723.5 L837.5,721.1 L838.0,721.2 L838.5,721.6 L839.0,723.6 L839.5,722.4 L840.0,725.5 L840.5,725.5 L841.0,729.8 L841.5,728.3 L842.0,733.4 L842.5,732.1 L843.0,736.2 L843.5,733.0 L844.0,736.0 L844.5,735.4 L845.0,738.7 L845.5,734.8 L846.0,738.8 L846.5,736.2 L847.0,739.5 L847.5,735.3 L848.0,739.6 L848.5,734.2 L849.0,734.7 L849.5,732.1 L850.0,735.4 L850.5,730.5 L851.0,733.0 L851.5,729.7 L852.0,733.6 L852.5,732.6 L853.0,734.5 L853.5,732.2 L854.0,734.0 L854.5,731.2 L855.0,736.0 L855.5,730.1 L856.0,733.5 L856.5,727.4 L857.0,731.5 L857.5,725.2 L858.0,729.8 L858.5,722.9 L859.0,728.4 L859.5,722.2 L860.0,725.1 L860.5,720.4 L861.0,723.3 L861.5,718.6 L862.0,720.4 L862.5,716.3 L863.0,718.6 L863.5,713.8 L864.0,717.0 L864.5,712.1 L865.0,719.0 L865.5,712.8 L866.0,720.6 L866.5,714.7 L867.0,722.7 L867.5,718.4 L868.0,727.5 L868.5,723.1 L869.0,729.0 L869.5,726.3 L870.0,731.0 L870.5,727.8 L871.0,735.2 L871.5,732.5 L872.0,737.5 L872.5,736.4 L873.0,744.2 L873.5,740.5 L874.0,749.0 L874.5,747.0 L875.0,754.6 L875.5,755.0 L876.0,760.4 L876.5,758.4 L877.0,761.8 L877.5,760.6 L878.0,763.3 L878.5,763.9 L879.0,764.3 L879.5,762.4 L880.0,764.9 L880.5,764.1 L881.0,768.7 L881.5,767.7 L882.0,771.0 L882.5,766.4 L883.0,770.8 L883.5,767.8 L884.0,770.4 L884.5,766.8 L885.0,769.1 L885.5,763.4 L886.0,767.1 L886.5,759.4 L887.0,764.4 L887.5,758.8 L888.0,761.0 L888.5,754.3 L889.0,757.0 L889.5,752.7 L890.0,754.8 L890.5,749.0 L891.0,749.2 L891.5,749.0 L892.0,754.0 L892.5,752.6 L893.0,754.6 L893.5,754.0 L894.0,757.3 L894.5,756.4 L895.0,760.8 L895.5,757.3 L896.0,761.2 L896.5,760.0 L897.0,763.1 L897.5,761.1 L898.0,764.5 L898.5,760.0 L899.0,765.7 L899.5,761.1 L900.0,763.3 L900.5,758.2 L901.0,764.7 L901.5,762.0 L902.0,767.0 L902.5,765.7 L903.0,770.6 L903.5,770.5 L904.0,770.3 L904.5,770.1 L905.0,771.3 L905.5,768.7 L906.0,770.3 L906.5,768.8 L907.0,770.6 L907.5,768.8 L908.0,772.4 L908.5,771.4 L909.0,775.1 L909.5,773.4 L910.0,775.5 L910.5,772.7 L911.0,775.6 L911.5,771.5 L912.0,774.7 L912.5,773.1 L913.0,775.2 L913.5,774.5 L914.0,777.2 L914.5,775.5 L915.0,779.9 L915.5,777.2 L916.0,782.8 L916.5,779.0 L917.0,785.1 L917.5,784.1 L918.0,785.3 L918.5,783.8 L919.0,786.2 L919.5,784.9 L920.0,789.1 L920.5,789.3 L921.0,794.8 L921.5,790.4 L922.0,795.5 L922.5,792.3 L923.0,798.5 L923.5,795.6 L924.0,800.9 L924.5,798.4 L925.0,799.2 L925.5,796.2 L926.0,797.2 L926.5,793.6 L927.0,794.1 L927.5,790.6 L928.0,793.3 L928.5,788.3 L929.0,791.5 L929.5,786.1 L930.0,788.6 L930.5,783.7 L931.0,784.8 L931.5,781.4 L932.0,780.9 L932.5,777.9 L933.0,779.1 L933.5,776.7 L934.0,776.9 L934.5,776.3 L935.0,774.5 L935.5,773.5 L936.0,775.8 L936.5,774.0 L937.0,776.3 L937.5,774.6 L938.0,776.5 L938.5,775.1 L939.0,776.3 L939.5,775.1 L940.0,775.8 L940.5,771.9 L941.0,772.6 L941.5,767.5 L942.0,767.8 L942.5,764.9 L943.0,764.6 L943.5,765.3 L944.0,769.7 L944.5,771.0 L945.0,773.7 L945.5,774.6 L946.0,776.3 L946.5,778.1 L947.0,779.3 L947.5,779.6 L948.0,783.3 L948.5,781.6 L949.0,785.6 L949.5,784.3 L950.0,786.7 L950.5,788.2 L951.0,791.9 L951.5,793.8 L952.0,799.3 L952.5,798.9 L953.0,804.7 L953.5,802.8 L954.0,805.8 L954.5,805.3 L955.0,805.1 L955.5,803.9 L956.0,804.4 L956.5,803.6 L957.0,804.3 L957.5,804.9 L958.0,809.9 L958.5,807.8 L959.0,811.5 L959.5,810.8 L960.0,812.5 L960.5,809.8 L961.0,814.6 L961.5,811.9 L962.0,817.3 L962.5,812.6 L963.0,816.6 L963.5,812.8 L964.0,814.1 L964.5,812.8 L965.0,814.7 L965.5,814.4 L966.0,814.7 L966.5,813.0 L967.0,815.2 L967.5,812.6 L968.0,814.0 L968.5,811.6 L969.0,811.2 L969.5,810.7 L970.0,815.3 L970.5,811.9 L971.0,817.7 L971.5,817.2 L972.0,820.0 L972.5,820.0 L973.0,822.5 L973.5,820.7 L974.0,824.6 L974.5,822.4 L975.0,825.7 L975.5,822.5 L976.0,826.6 L976.5,823.6 L977.0,824.3 L977.5,822.4 L978.0,824.3 L978.5,821.3 L979.0,822.9 L979.5,820.1 L980.0,822.7 L980.5,816.9 L981.0,818.9 L981.5,815.6 L982.0,820.9 L982.5,817.3 L983.0,822.2 L983.5,819.5 L984.0,823.2 L984.5,820.0 L985.0,822.5 L985.5,821.9 L986.0,824.8 L986.5,822.2 L987.0,824.4 L987.5,822.1 L988.0,824.0 L988.5,821.6 L989.0,825.3 L989.5,822.4 L990.0,824.2 L990.5,822.8 L991.0,824.2 L991.5,821.6 L992.0,822.1 L992.5,819.1 L993.0,819.5 L993.5,815.3 L994.0,816.3 L994.5,815.1 L995.0,818.8 L995.5,820.4 L996.0,821.8 L996.5,818.9 L997.0,821.6 L997.5,821.4 L998.0,824.1 L998.5,821.6 L999.0,822.3 L999.5,819.5 L1000.0,821.5 L1000.5,811.9 L1001.0,815.3 L1001.5,808.5 L1002.0,809.3 L1002.5,802.0 L1003.0,805.5 L1003.5,799.6 L1004.0,803.2 L1004.5,797.7 L1005.0,801.3 L1005.5,797.3 L1006.0,802.3 L1006.5,797.7 L1007.0,801.7 L1007.5,796.7 L1008.0,799.5 L1008.5,796.9 L1009.0,800.0 L1009.5,796.1 L1010.0,799.3 L1010.5,797.3 L1011.0,802.4 L1011.5,799.2 L1012.0,803.9 L1012.5,800.2 L1013.0,804.8 L1013.5,801.4 L1014.0,805.3 L1014.5,802.0 L1015.0,805.2 L1015.5,802.5 L1016.0,804.6 L1016.5,802.6 L1017.0,805.4 L1017.5,802.1 L1018.0,805.1 L1018.5,801.4 L1019.0,803.0 L1019.5,801.6 L1020.0,805.3 L1020.5,802.5 L1021.0,804.0 L1021.5,802.2 L1022.0,803.0 L1022.5,800.9 L1023.0,801.5 L1023.5,803.0 L1024.0,804.6 L1024.5,802.2 L1025.0,807.4 L1025.5,806.6 L1026.0,809.0 L1026.5,807.5 L1027.0,809.6 L1027.5,808.3 L1028.0,810.7 L1028.5,812.0 L1029.0,814.5 L1029.5,813.1 L1030.0,816.1 L1030.5,815.3 L1031.0,818.2 L1031.5,818.1 L1032.0,820.6 L1032.5,818.6 L1033.0,820.9 L1033.5,818.6 L1034.0,820.5 L1034.5,818.3 L1035.0,821.5 L1035.5,820.4 L1036.0,822.0 L1036.5,820.8 L1037.0,822.5 L1037.5,821.0 L1038.0,824.7 L1038.5,821.6 L1039.0,824.3 L1039.5,822.8 L1040.0,825.2 L1040.5,824.3 L1041.0,827.6 L1041.5,826.2 L1042.0,827.4 L1042.5,826.5 L1043.0,828.6 L1043.5,827.1 L1044.0,830.4 L1044.5,828.6 L1045.0,831.4 L1045.5,833.0 L1046.0,836.6 L1046.5,836.0 L1047.0,837.2 L1047.5,844.1 L1048.0,854.6 L1048.5,853.5 L1049.0,853.6 L1049.5,848.1 L1050.0,847.7 L1050.5,842.3 L1051.0,843.7 L1051.5,841.9 L1052.0,845.4 L1052.5,839.3 L1053.0,841.3 L1053.5,837.5 L1054.0,839.9 L1054.5,836.0 L1055.0,838.6 L1055.5,835.8 L1056.0,838.0 L1056.5,836.0 L1057.0,836.4 L1057.5,834.9 L1058.0,836.1 L1058.5,833.4 L1059.0,835.2 L1059.5,834.0 L1060.0,840.3 L1060.5,837.8 L1061.0,842.1 L1061.5,838.6 L1062.0,846.0 L1062.5,842.3 L1063.0,845.2 L1063.5,844.2 L1064.0,846.8 L1064.5,842.2 L1065.0,844.6 L1065.5,843.9 L1066.0,846.9 L1066.5,847.5 L1067.0,848.8 L1067.5,847.8 L1068.0,848.4 L1068.5,847.5 L1069.0,850.8 L1069.5,846.2 L1070.0,849.6 L1070.5,844.3 L1071.0,849.1 L1071.5,843.9 L1072.0,846.9 L1072.5,844.4 L1073.0,846.3 L1073.5,843.3 L1074.0,847.5 L1074.5,847.5 L1075.0,851.7 L1075.5,849.6 L1076.0,854.7 L1076.5,851.8 L1077.0,861.3 L1077.5,855.9 L1078.0,857.8 L1078.5,852.0 L1079.0,855.6 L1079.5,849.8 L1080.0,854.3 L1080.5,848.6 L1081.0,852.1 L1081.5,849.4 L1082.0,850.4 L1082.5,850.5 L1083.0,851.6 L1083.5,852.4 L1084.0,855.6 L1084.5,853.9 L1085.0,857.2 L1085.5,854.8 L1086.0,860.1 L1086.5,858.5 L1087.0,862.3 L1087.5,860.9 L1088.0,861.4 L1088.5,858.0 L1089.0,863.1 L1089.5,858.9 L1090.0,862.3 L1090.5,860.8 L1091.0,862.7 L1091.5,862.2 L1092.0,863.1 L1092.5,859.6 L1093.0,862.2 L1093.5,860.0 L1094.0,860.0 L1094.5,857.9 L1095.0,857.9 L1095.5,855.9 L1096.0,858.1 L1096.5,852.4 L1097.0,855.3 L1097.5,851.7 L1098.0,853.7 L1098.5,848.4 L1099.0,851.1 L1099.5,844.8 L1100.0,847.2 L1100.5,844.3 L1101.0,847.2 L1101.5,843.8 L1102.0,846.0 L1102.5,843.9 L1103.0,845.4 L1103.5,843.8 L1104.0,845.5 L1104.5,839.3 L1105.0,844.2 L1105.5,842.7 L1106.0,844.2 L1106.5,842.8 L1107.0,844.8 L1107.5,842.1 L1108.0,844.9 L1108.5,839.5 L1109.0,844.2 L1109.5,840.1 L1110.0,843.0 L1110.5,842.0 L1111.0,842.2 L1111.5,841.4 L1112.0,842.3 L1112.5,840.6 L1113.0,841.4 L1113.5,841.2 L1114.0,843.2 L1114.5,841.4 L1115.0,842.5 L1115.5,841.4 L1116.0,843.5 L1116.5,841.7 L1117.0,844.0 L1117.5,840.9 L1118.0,843.3 L1118.5,840.5 L1119.0,841.7 L1119.5,838.8 L1120.0,841.4 L1120.5,836.4 L1121.0,841.1 L1121.5,837.2 L1122.0,840.8 L1122.5,837.5 L1123.0,843.3 L1123.5,837.8 L1124.0,842.5 L1124.5,838.6 L1125.0,842.8 L1125.5,839.8 L1126.0,843.1 L1126.5,839.2 L1127.0,843.8 L1127.5,840.6 L1128.0,844.9 L1128.5,840.7 L1129.0,841.8 L1129.5,839.2 L1130.0,842.0 L1130.5,839.4 L1131.0,841.2 L1131.5,838.5 L1132.0,838.3 L1132.5,837.8 L1133.0,839.4 L1133.5,835.1 L1134.0,838.1 L1134.5,835.0 L1135.0,839.6 L1135.5,834.6 L1136.0,839.7 L1136.5,835.4 L1137.0,838.3 L1137.5,836.6 L1138.0,838.5 L1138.5,837.3 L1139.0,840.4 L1139.5,839.2 L1140.0,844.0 L1140.5,842.0 L1141.0,845.4 L1141.5,844.0 L1142.0,846.4 L1142.5,844.4 L1143.0,844.6 L1143.5,845.3 L1144.0,846.1 L1144.5,841.9 L1145.0,843.6 L1145.5,839.5 L1146.0,840.8 L1146.5,837.5 L1147.0,839.7 L1147.5,838.2 L1148.0,840.3 L1148.5,838.8 L1149.0,841.1 L1149.5,839.7 L1150.0,841.5 L1150.5,840.3 L1151.0,842.0 L1151.5,839.8 L1152.0,842.2 L1152.5,840.6 L1153.0,842.5 L1153.5,841.2 L1154.0,845.0 L1154.5,844.9 L1155.0,848.4 L1155.5,845.4 L1156.0,849.6 L1156.5,846.1 L1157.0,851.8 L1157.5,850.2 L1158.0,850.6 L1158.5,851.2 L1159.0,851.9 L1159.5,851.0 L1160.0,853.2 L1160.5,854.2 L1161.0,855.0 L1161.5,853.0 L1162.0,854.0 L1162.5,852.4 L1163.0,853.7 L1163.5,853.1 L1164.0,856.5 L1164.5,854.9 L1165.0,857.3 L1165.5,853.9 L1166.0,858.5 L1166.5,857.6 L1167.0,861.9 L1167.5,859.8 L1168.0,860.6 L1168.5,862.4 L1169.0,864.3 L1169.5,864.4 L1170.0,867.6 L1170.5,866.4 L1171.0,872.4 L1171.5,868.5 L1172.0,873.3 L1172.5,872.6 L1173.0,878.5 L1173.5,875.9 L1174.0,881.2 L1174.5,879.9 L1175.0,884.9 L1175.5,881.9 L1176.0,881.4 L1176.5,874.9 L1177.0,874.7 L1177.5,868.3 L1178.0,869.3 L1178.5,866.0 L1179.0,868.4 L1179.5,862.9 L1180.0,865.6 L1180.5,860.2 L1181.0,861.1 L1181.5,859.5 L1182.0,865.7 L1182.5,861.9 L1183.0,866.2 L1183.5,863.0 L1184.0,866.6 L1184.5,863.7 L1185.0,865.3 L1185.5,864.6 L1186.0,866.8 L1186.5,865.0 L1187.0,866.6 L1187.5,867.1 L1188.0,870.0" fill="none" stroke="#8a589f" stroke-width="4.4" stroke-linejoin="round" stroke-linecap="round"/>
<rect x="1169.3" y="713.9" width="29.6" height="184" fill="none" stroke="#151515" stroke-width="1.9"/>
<path d="M1199.5,806.8 L1233,806.8 M1223.9,799.2 L1233.4,806.8 L1223.9,814.4" fill="none" stroke="#151515" stroke-width="1.9"/>
<rect x="1235.1" y="602.6" width="258.2" height="426.4" fill="#fff" stroke="#111" stroke-width="2.1"/>
<rect x="1243.7" y="643.05" width="250.5" height="2.9" fill="#a6a6a6"/>
<rect x="1243.7" y="717.65" width="250.5" height="2.9" fill="#a6a6a6"/>
<rect x="1243.7" y="792.25" width="250.5" height="2.9" fill="#a6a6a6"/>
<rect x="1243.7" y="866.85" width="250.5" height="2.9" fill="#a6a6a6"/>
<path d="M1312.4,657.5 L1317.5,662.9 L1323.5,662.9 L1332.5,668.6 L1346.0,674.0 L1350.5,671.9 L1358.0,677.6 L1365.5,681.5 L1379.0,681.5 L1385.0,674.9 L1389.5,671.9 L1394.0,671.9 L1398.5,677.6 L1412.0,679.4 L1421.6,671.9 L1431.5,675.8 L1444.9,675.8 L1452.4,677.6 L1459.9,678.5 L1465.9,684.5 L1474.9,689.0 L1485.4,695.9" fill="none" stroke="#003a6b" stroke-width="3.9" stroke-linejoin="round" stroke-linecap="round"/>
<path d="M1312.4,746.0 L1317.5,748.1 L1322.0,746.0 L1328.0,750.8 L1346.0,757.4 L1350.5,753.5 L1355.0,755.0 L1360.1,753.2 L1365.5,755.3 L1379.0,755.3 L1385.0,751.1 L1389.5,749.6 L1394.0,749.6 L1400.0,752.0 L1412.0,753.8 L1418.0,752.0 L1422.5,747.8 L1427.0,746.0 L1431.5,747.8 L1444.9,746.0 L1452.4,749.0 L1459.9,752.0 L1465.9,752.0 L1474.9,754.4 L1485.4,757.4" fill="none" stroke="#0070ba" stroke-width="3.9" stroke-linejoin="round" stroke-linecap="round"/>
<path d="M1312.4,794.0 L1322.0,795.5 L1331.0,797.0 L1350.5,797.0 L1361.0,798.5 L1385.0,798.5 L1394.0,795.2 L1400.0,797.0 L1412.0,798.5 L1421.0,797.0 L1444.9,797.0 L1452.4,798.5 L1459.9,797.0 L1465.9,798.5 L1479.4,798.5 L1483.9,801.5" fill="none" stroke="#b9cfec" stroke-width="3.9" stroke-linejoin="round" stroke-linecap="round"/>
<path d="M1312.4,812.9 L1322.0,817.4 L1331.0,822.5 L1346.0,826.4 L1353.5,825.2 L1358.0,827.9 L1365.5,829.4 L1379.0,825.5 L1389.5,822.2 L1397.0,822.2 L1412.0,825.8 L1421.6,822.2 L1427.0,824.0 L1449.4,824.0 L1459.9,827.6 L1465.9,825.8 L1474.9,827.6 L1485.4,833.0" fill="none" stroke="#d9cce5" stroke-width="3.9" stroke-linejoin="round" stroke-linecap="round"/>
<path d="M1312.4,841.9 L1322.0,844.3 L1328.0,848.5 L1332.5,848.5 L1346.0,854.8 L1350.5,850.9 L1355.0,852.7 L1362.5,853.0 L1365.5,854.8 L1379.0,845.5 L1383.5,847.3 L1389.5,841.3 L1397.0,843.4 L1415.0,845.5 L1421.6,841.9 L1431.5,845.5 L1444.9,845.5 L1450.9,843.7 L1462.9,847.9 L1473.4,851.5 L1479.4,853.0 L1485.4,853.0" fill="none" stroke="#8a589f" stroke-width="3.9" stroke-linejoin="round" stroke-linecap="round"/>
<rect x="1243.2" y="894.9" width="16.1" height="2" fill="#000"/>
<rect x="21.3" y="1078.8" width="73.4" height="4.6" fill="#003a6b"/>
<rect x="21.3" y="1118.9" width="73.4" height="4.6" fill="#0070ba"/>
<rect x="21.3" y="1158.6" width="73.4" height="4.6" fill="#b9cfec"/>
<rect x="21.3" y="1198.7" width="73.4" height="4.6" fill="#d9cce5"/>
<rect x="21.3" y="1241.6" width="73.4" height="4.6" fill="#8a589f"/>
<text transform="translate(41.13,278.2) scale(1.03,1)" font-size="35.3" font-family="Liberation Sans, sans-serif" font-weight="normal" fill="#000" stroke="#fff" stroke-width="0.6">6</text>
<text transform="translate(41.38,352.9) scale(1.03,1)" font-size="35.3" font-family="Liberation Sans, sans-serif" font-weight="normal" fill="#000" stroke="#fff" stroke-width="0.6">4</text>
<text transform="translate(41.25,427.6) scale(1.03,1)" font-size="35.3" font-family="Liberation Sans, sans-serif" font-weight="normal" fill="#000" stroke="#fff" stroke-width="0.6">2</text>
<text transform="translate(41.25,502.3) scale(1.03,1)" font-size="35.3" font-family="Liberation Sans, sans-serif" font-weight="normal" fill="#000" stroke="#fff" stroke-width="0.6">0</text>
<text transform="translate(22.0,577.0) scale(1.03,1)" font-size="35.3" font-family="Liberation Sans, sans-serif" font-weight="normal" fill="#000" stroke="#fff" stroke-width="0.6">8</text>
<text transform="translate(21.87,651.6) scale(1.03,1)" font-size="35.3" font-family="Liberation Sans, sans-serif" font-weight="normal" fill="#000" stroke="#fff" stroke-width="0.6">6</text>
<text transform="translate(22.12,726.3) scale(1.03,1)" font-size="35.3" font-family="Liberation Sans, sans-serif" font-weight="normal" fill="#000" stroke="#fff" stroke-width="0.6">4</text>
<text transform="translate(22.0,801.0) scale(1.03,1)" font-size="35.3" font-family="Liberation Sans, sans-serif" font-weight="normal" fill="#000" stroke="#fff" stroke-width="0.6">2</text>
<text transform="translate(22.0,875.7) scale(1.03,1)" font-size="35.3" font-family="Liberation Sans, sans-serif" font-weight="normal" fill="#000" stroke="#fff" stroke-width="0.6">0</text>
<text transform="translate(22.45,950.5) scale(0.9319,1)" font-size="35.3" font-family="Liberation Sans, sans-serif" font-weight="normal" fill="#000" stroke="#fff" stroke-width="0.6">–2</text>
<text transform="translate(59.25,1008.0) scale(0.9915,1)" font-size="35.3" font-family="Liberation Sans, sans-serif" font-weight="normal" fill="#000" stroke="#fff" stroke-width="0.6">980</text>
<text transform="translate(197.78,1008.0) scale(0.9963,1)" font-size="35.3" font-family="Liberation Sans, sans-serif" font-weight="normal" fill="#000" stroke="#fff" stroke-width="0.6">985</text>
<text transform="translate(336.5,1008.0) scale(0.9924,1)" font-size="35.3" font-family="Liberation Sans, sans-serif" font-weight="normal" fill="#000" stroke="#fff" stroke-width="0.6">990</text>
<text transform="translate(475.15,1008.0) scale(0.9927,1)" font-size="35.3" font-family="Liberation Sans, sans-serif" font-weight="normal" fill="#000" stroke="#fff" stroke-width="0.6">995</text>
<text transform="translate(597.38,1008.0) scale(0.9768,1)" font-size="35.3" font-family="Liberation Sans, sans-serif" font-weight="normal" fill="#000" stroke="#fff" stroke-width="0.6">2000</text>
<text transform="translate(735.91,1008.0) scale(0.9803,1)" font-size="35.3" font-family="Liberation Sans, sans-serif" font-weight="normal" fill="#000" stroke="#fff" stroke-width="0.6">2005</text>
<text transform="translate(874.6,1008.0) scale(0.9653,1)" font-size="35.3" font-family="Liberation Sans, sans-serif" font-weight="normal" fill="#000" stroke="#fff" stroke-width="0.6">20</text>
<text transform="translate(930.05,1008.0) scale(1.03,1)" font-size="35.3" font-family="Liberation Sans, sans-serif" font-weight="normal" fill="#000" stroke="#fff" stroke-width="0.6">0</text>
<text transform="translate(1013.97,1008.0) scale(0.9527,1)" font-size="35.3" font-family="Liberation Sans, sans-serif" font-weight="normal" fill="#000" stroke="#fff" stroke-width="0.6">20</text>
<text transform="translate(1068.9,1008.0) scale(1.03,1)" font-size="35.3" font-family="Liberation Sans, sans-serif" font-weight="normal" fill="#000" stroke="#fff" stroke-width="0.6">5</text>
<text transform="translate(1151.82,1008.0) scale(0.9768,1)" font-size="35.3" font-family="Liberation Sans, sans-serif" font-weight="normal" fill="#000" stroke="#fff" stroke-width="0.6">2020</text>
<text transform="translate(1038.27,642.0) scale(0.9562,1)" font-size="31.7" font-family="Liberation Sans, sans-serif" font-weight="normal" fill="#000" stroke="#fff" stroke-width="0.6">Correction</text>
<text transform="translate(1038.2,681.7) scale(0.94,1)" font-size="31.7" font-family="Liberation Sans, sans-serif" font-weight="normal" fill="#000" stroke="#fff" stroke-width="0.6">coronavirus</text>
<text transform="translate(1258.25,681.0) scale(1.03,1)" font-size="35.3" font-family="Liberation Sans, sans-serif" font-weight="normal" fill="#000" stroke="#fff" stroke-width="0.6">2</text>
<text transform="translate(1258.25,830.4) scale(1.03,1)" font-size="35.3" font-family="Liberation Sans, sans-serif" font-weight="normal" fill="#000" stroke="#fff" stroke-width="0.6">0</text>
<text transform="translate(1285.63,961.8) scale(0.9015,1)" font-size="35" font-family="Liberation Sans, sans-serif" font-weight="normal" fill="#000" stroke="#fff" stroke-width="0.6">Janv.</text>
<text transform="translate(1285.65,1001.8) scale(0.9628,1)" font-size="35.3" font-family="Liberation Sans, sans-serif" font-weight="normal" fill="#000" stroke="#fff" stroke-width="0.6">2020</text>
<text transform="translate(1413.91,961.8) scale(0.9197,1)" font-size="35" font-family="Liberation Sans, sans-serif" font-weight="normal" fill="#000" stroke="#fff" stroke-width="0.6">Fév.</text>
<text transform="translate(1413.72,1001.8) scale(0.9761,1)" font-size="35.3" font-family="Liberation Sans, sans-serif" font-weight="normal" fill="#000" stroke="#fff" stroke-width="0.6">2020</text>
<text transform="translate(143.01,1093.5) scale(0.9727,1)" font-size="31.7" font-family="Liberation Sans, sans-serif" font-weight="normal" fill="#000" stroke="#fff" stroke-width="0.6">États-Unis</text>
<text transform="translate(143.16,1133.8) scale(0.9538,1)" font-size="31.7" font-family="Liberation Sans, sans-serif" font-weight="normal" fill="#000" stroke="#fff" stroke-width="0.6">Royaume-Uni</text>
<text transform="translate(142.78,1173.7) scale(0.9658,1)" font-size="31.7" font-family="Liberation Sans, sans-serif" font-weight="normal" fill="#000" stroke="#fff" stroke-width="0.6">Japon</text>
<text transform="translate(143.69,1213.8) scale(0.9515,1)" font-size="31.7" font-family="Liberation Sans, sans-serif" font-weight="normal" fill="#000" stroke="#fff" stroke-width="0.6">Allemagne</text>
<text transform="translate(143.72,1253.3) scale(0.9559,1)" font-size="31.7" font-family="Liberation Sans, sans-serif" font-weight="normal" fill="#000" stroke="#fff" stroke-width="0.6">Suisse</text>
<text transform="translate(16.9,1352.0) scale(0.9389,1)" font-size="33.8" font-family="Liberation Sans, sans-serif" font-weight="bold" fill="#000" >Sources:</text>
<text transform="translate(16.97,1477.2) scale(0.9124,1)" font-size="33.8" font-family="Liberation Sans, sans-serif" font-weight="normal" fill="#000" stroke="#fff" stroke-width="0.6">résultats futurs.</text>
<text transform="translate(17.25,64.6) scale(0.9405,1)" font-size="42.2" font-family="Liberation Sans, sans-serif" font-weight="bold" fill="#000" >Graphique</text>
<text transform="translate(226.21,64.6) scale(1.0217,1)" font-size="42.2" font-family="Liberation Sans, sans-serif" font-weight="bold" fill="#000" >3:</text>
<text transform="translate(273.36,64.6) scale(0.8791,1)" font-size="42.2" font-family="Liberation Sans, sans-serif" font-weight="bold" fill="#000" >«Lower</text>
<text transform="translate(417.41,64.6) scale(0.8419,1)" font-size="42.2" font-family="Liberation Sans, sans-serif" font-weight="bold" fill="#000" >for</text>
<text transform="translate(477.33,64.6) scale(0.9112,1)" font-size="42.2" font-family="Liberation Sans, sans-serif" font-weight="bold" fill="#000" >longer»</text>
<text transform="translate(625.86,64.6) scale(0.9734,1)" font-size="42.2" font-family="Liberation Sans, sans-serif" font-weight="bold" fill="#000" >–</text>
<text transform="translate(659.2,64.6) scale(0.9567,1)" font-size="42.2" font-family="Liberation Sans, sans-serif" font-weight="bold" fill="#000" >les</text>
<text transform="translate(724.02,64.6) scale(0.9504,1)" font-size="42.2" font-family="Liberation Sans, sans-serif" font-weight="bold" fill="#000" >rendements</text>
<text transform="translate(961.51,64.6) scale(0.932,1)" font-size="42.2" font-family="Liberation Sans, sans-serif" font-weight="bold" fill="#000" >chutent</text>
<text transform="translate(1114.76,64.6) scale(0.9368,1)" font-size="42.2" font-family="Liberation Sans, sans-serif" font-weight="bold" fill="#000" >dans</text>
<text transform="translate(1217.3,64.6) scale(0.9352,1)" font-size="42.2" font-family="Liberation Sans, sans-serif" font-weight="bold" fill="#000" >toutes</text>
<text transform="translate(1346.74,64.6) scale(0.9446,1)" font-size="42.2" font-family="Liberation Sans, sans-serif" font-weight="bold" fill="#000" >les</text>
<text transform="translate(17.56,114.7) scale(0.9366,1)" font-size="42.2" font-family="Liberation Sans, sans-serif" font-weight="bold" fill="#000" >monnaies</text>
<text transform="translate(212.7,114.7) scale(0.9233,1)" font-size="42.2" font-family="Liberation Sans, sans-serif" font-weight="bold" fill="#000" >principales</text>
<text transform="translate(427.25,114.7) scale(0.94,1)" font-size="42.2" font-family="Liberation Sans, sans-serif" font-weight="bold" fill="#000" >depuis</text>
<text transform="translate(566.01,114.7) scale(1.0005,1)" font-size="42.2" font-family="Liberation Sans, sans-serif" font-weight="bold" fill="#000" >40</text>
<text transform="translate(622.86,114.7) scale(0.9357,1)" font-size="42.2" font-family="Liberation Sans, sans-serif" font-weight="bold" fill="#000" >ans</text>
<text transform="translate(17.32,164.7) scale(0.888,1)" font-size="41.8" font-family="Liberation Sans, sans-serif" font-weight="normal" fill="#000" stroke="#fff" stroke-width="0.6">Taux</text>
<text transform="translate(105.45,164.7) scale(0.9658,1)" font-size="41.8" font-family="Liberation Sans, sans-serif" font-weight="normal" fill="#000" stroke="#fff" stroke-width="0.6">effectif</text>
<text transform="translate(233.85,164.7) scale(0.9179,1)" font-size="41.8" font-family="Liberation Sans, sans-serif" font-weight="normal" fill="#000" stroke="#fff" stroke-width="0.6">des</text>
<text transform="translate(306.01,164.7) scale(0.9095,1)" font-size="41.8" font-family="Liberation Sans, sans-serif" font-weight="normal" fill="#000" stroke="#fff" stroke-width="0.6">emprunts</text>
<text transform="translate(474.99,164.7) scale(0.9438,1)" font-size="41.8" font-family="Liberation Sans, sans-serif" font-weight="normal" fill="#000" stroke="#fff" stroke-width="0.6">d’État</text>
<text transform="translate(586.88,164.7) scale(0.9015,1)" font-size="41.8" font-family="Liberation Sans, sans-serif" font-weight="normal" fill="#000" stroke="#fff" stroke-width="0.6">à</text>
<text transform="translate(620.42,164.7) scale(0.9901,1)" font-size="41.8" font-family="Liberation Sans, sans-serif" font-weight="normal" fill="#000" stroke="#fff" stroke-width="0.6">10</text>
<text transform="translate(676.4,164.7) scale(0.8958,1)" font-size="41.8" font-family="Liberation Sans, sans-serif" font-weight="normal" fill="#000" stroke="#fff" stroke-width="0.6">ans</text>
<text transform="translate(16.48,1435.7) scale(0.946,1)" font-size="33.8" font-family="Liberation Sans, sans-serif" font-weight="normal" fill="#000" stroke="#fff" stroke-width="0.6">Les</text>
<text transform="translate(77.13,1435.7) scale(0.8911,1)" font-size="33.8" font-family="Liberation Sans, sans-serif" font-weight="normal" fill="#000" stroke="#fff" stroke-width="0.6">performances</text>
<text transform="translate(270.8,1435.7) scale(0.8842,1)" font-size="33.8" font-family="Liberation Sans, sans-serif" font-weight="normal" fill="#000" stroke="#fff" stroke-width="0.6">antérieures</text>
<text transform="translate(430.38,1435.7) scale(0.814,1)" font-size="33.8" font-family="Liberation Sans, sans-serif" font-weight="normal" fill="#000" stroke="#fff" stroke-width="0.6">et</text>
<text transform="translate(463.97,1435.7) scale(0.894,1)" font-size="33.8" font-family="Liberation Sans, sans-serif" font-weight="normal" fill="#000" stroke="#fff" stroke-width="0.6">les</text>
<text transform="translate(512.27,1435.7) scale(0.8626,1)" font-size="33.8" font-family="Liberation Sans, sans-serif" font-weight="normal" fill="#000" stroke="#fff" stroke-width="0.6">scénarios</text>
<text transform="translate(647.84,1435.7) scale(0.8651,1)" font-size="33.8" font-family="Liberation Sans, sans-serif" font-weight="normal" fill="#000" stroke="#fff" stroke-width="0.6">de</text>
<text transform="translate(690.65,1435.7) scale(0.8833,1)" font-size="33.8" font-family="Liberation Sans, sans-serif" font-weight="normal" fill="#000" stroke="#fff" stroke-width="0.6">marchés</text>
<text transform="translate(815.9,1435.7) scale(0.8799,1)" font-size="33.8" font-family="Liberation Sans, sans-serif" font-weight="normal" fill="#000" stroke="#fff" stroke-width="0.6">financiers</text>
<text transform="translate(952.67,1435.7) scale(0.8558,1)" font-size="33.8" font-family="Liberation Sans, sans-serif" font-weight="normal" fill="#000" stroke="#fff" stroke-width="0.6">ne</text>
<text transform="translate(994.85,1435.7) scale(0.9005,1)" font-size="33.8" font-family="Liberation Sans, sans-serif" font-weight="normal" fill="#000" stroke="#fff" stroke-width="0.6">sont</text>
<text transform="translate(1061.72,1435.7) scale(0.8554,1)" font-size="33.8" font-family="Liberation Sans, sans-serif" font-weight="normal" fill="#000" stroke="#fff" stroke-width="0.6">pas</text>
<text transform="translate(1117.99,1435.7) scale(0.8891,1)" font-size="33.8" font-family="Liberation Sans, sans-serif" font-weight="normal" fill="#000" stroke="#fff" stroke-width="0.6">des</text>
<text transform="translate(1175.53,1435.7) scale(0.8895,1)" font-size="33.8" font-family="Liberation Sans, sans-serif" font-weight="normal" fill="#000" stroke="#fff" stroke-width="0.6">indicateurs</text>
<text transform="translate(1330.96,1435.7) scale(0.8723,1)" font-size="33.8" font-family="Liberation Sans, sans-serif" font-weight="normal" fill="#000" stroke="#fff" stroke-width="0.6">fiables</text>
<text transform="translate(1425.34,1435.7) scale(0.8901,1)" font-size="33.8" font-family="Liberation Sans, sans-serif" font-weight="normal" fill="#000" stroke="#fff" stroke-width="0.6">des</text>
<text transform="translate(160.24,1352.0) scale(0.8966,1)" font-size="33.8" font-family="Liberation Sans, sans-serif" font-weight="normal" fill="#000" stroke="#fff" stroke-width="0.6">Thomson</text>
<text transform="translate(293.93,1352.0) scale(0.8971,1)" font-size="33.8" font-family="Liberation Sans, sans-serif" font-weight="normal" fill="#000" stroke="#fff" stroke-width="0.6">Reuters,</text>
<text transform="translate(416.5,1352.0) scale(0.8931,1)" font-size="33.8" font-family="Liberation Sans, sans-serif" font-weight="normal" fill="#000" stroke="#fff" stroke-width="0.6">Credit</text>
<text transform="translate(506.18,1352.0) scale(0.9011,1)" font-size="33.8" font-family="Liberation Sans, sans-serif" font-weight="normal" fill="#000" stroke="#fff" stroke-width="0.6">Suisse</text>
<text transform="translate(17.14,1393.8) scale(0.9453,1)" font-size="33.8" font-family="Liberation Sans, sans-serif" font-weight="bold" fill="#000" >Dernières</text>
<text transform="translate(172.6,1393.8) scale(0.9396,1)" font-size="33.8" font-family="Liberation Sans, sans-serif" font-weight="bold" fill="#000" >données</text>
<text transform="translate(310.44,1393.8) scale(0.9561,1)" font-size="33.8" font-family="Liberation Sans, sans-serif" font-weight="bold" fill="#000" >au:</text>
<text transform="translate(365.93,1393.8) scale(1.0274,1)" font-size="33.8" font-family="Liberation Sans, sans-serif" font-weight="normal" fill="#000" stroke="#fff" stroke-width="0.6">25</text>
<text transform="translate(412.64,1393.8) scale(0.8916,1)" font-size="33.8" font-family="Liberation Sans, sans-serif" font-weight="normal" fill="#000" stroke="#fff" stroke-width="0.6">février</text>
<text transform="translate(503.72,1393.8) scale(1.0274,1)" font-size="33.8" font-family="Liberation Sans, sans-serif" font-weight="normal" fill="#000" stroke="#fff" stroke-width="0.6">2020</text>
<rect x="32.00" y="254.20" width="2.3" height="24" fill="#000"/>
<path d="M27.30,259.10 Q31.70,258.90 32.80,254.20" fill="none" stroke="#000" stroke-width="2.1"/>
<rect x="32.00" y="328.89" width="2.3" height="24" fill="#000"/>
<path d="M27.30,333.79 Q31.70,333.59 32.80,328.89" fill="none" stroke="#000" stroke-width="2.1"/>
<rect x="32.00" y="403.58" width="2.3" height="24" fill="#000"/>
<path d="M27.30,408.48 Q31.70,408.28 32.80,403.58" fill="none" stroke="#000" stroke-width="2.1"/>
<rect x="32.00" y="478.27" width="2.3" height="24" fill="#000"/>
<path d="M27.30,483.17 Q31.70,482.97 32.80,478.27" fill="none" stroke="#000" stroke-width="2.1"/>
<rect x="51.90" y="984.00" width="2.3" height="24" fill="#000"/>
<path d="M47.20,988.90 Q51.60,988.70 52.70,984.00" fill="none" stroke="#000" stroke-width="2.1"/>
<rect x="190.50" y="984.00" width="2.3" height="24" fill="#000"/>
<path d="M185.80,988.90 Q190.20,988.70 191.30,984.00" fill="none" stroke="#000" stroke-width="2.1"/>
<rect x="329.10" y="984.00" width="2.3" height="24" fill="#000"/>
<path d="M324.40,988.90 Q328.80,988.70 329.90,984.00" fill="none" stroke="#000" stroke-width="2.1"/>
<rect x="467.70" y="984.00" width="2.3" height="24" fill="#000"/>
<path d="M463.00,988.90 Q467.40,988.70 468.50,984.00" fill="none" stroke="#000" stroke-width="2.1"/>
<rect x="921.90" y="984.00" width="2.3" height="24" fill="#000"/>
<path d="M917.20,988.90 Q921.60,988.70 922.70,984.00" fill="none" stroke="#000" stroke-width="2.1"/>
<rect x="1059.90" y="984.00" width="2.3" height="24" fill="#000"/>
<path d="M1055.20,988.90 Q1059.60,988.70 1060.70,984.00" fill="none" stroke="#000" stroke-width="2.1"/>
<rect x="1268.00" y="731.80" width="2.3" height="24" fill="#000"/>
<path d="M1263.30,736.70 Q1267.70,736.50 1268.80,731.80" fill="none" stroke="#000" stroke-width="2.1"/>
<rect x="1268.00" y="880.80" width="2.3" height="24" fill="#000"/>
<path d="M1263.30,885.70 Q1267.70,885.50 1268.80,880.80" fill="none" stroke="#000" stroke-width="2.1"/>
</svg>
</body></html>
